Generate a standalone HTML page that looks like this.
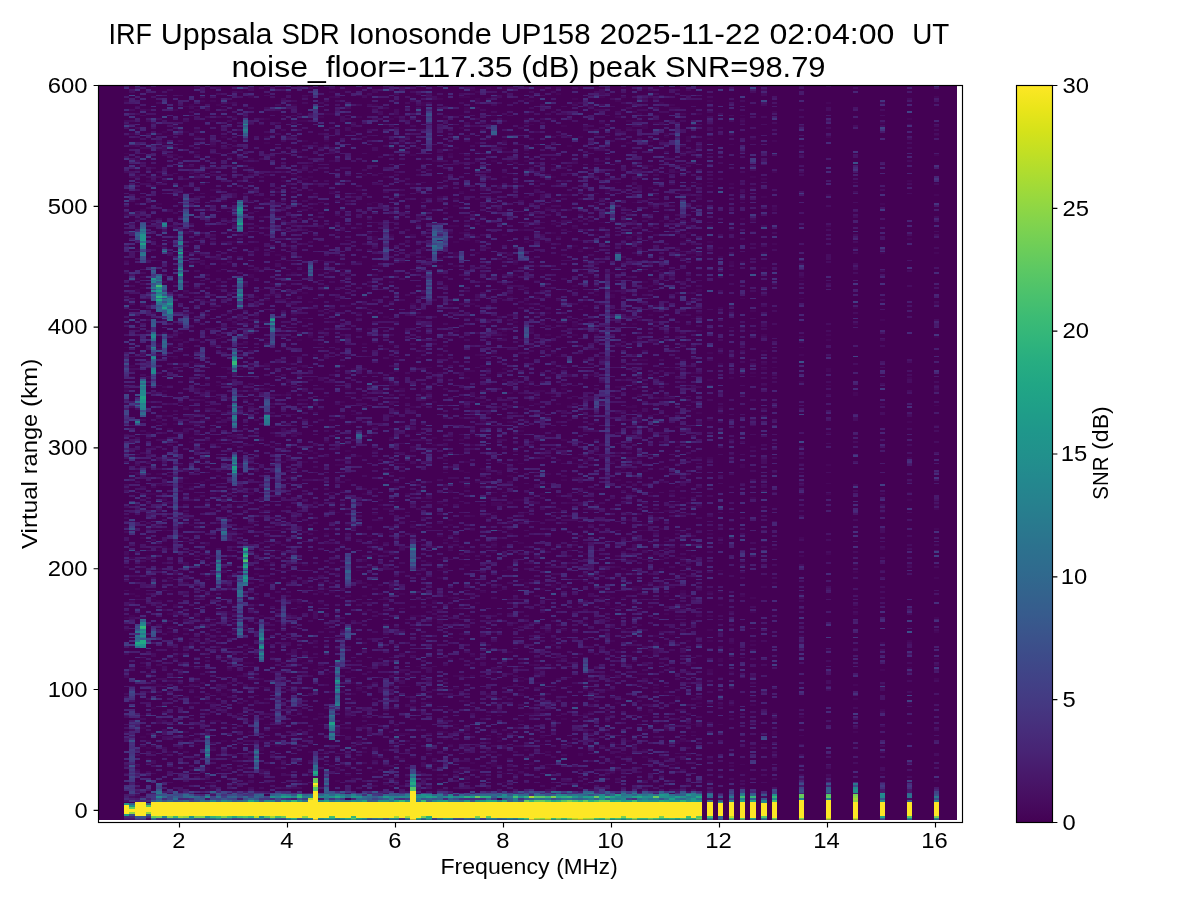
<!DOCTYPE html>
<html lang="en"><head><meta charset="utf-8"><title>IRF Uppsala SDR Ionosonde UP158</title>
<style>
html,body{margin:0;padding:0;background:#fff;width:1200px;height:900px;overflow:hidden}
svg{will-change:transform;display:block;position:absolute;left:0;top:0}
text{font-family:"Liberation Sans",sans-serif;fill:#000}
</style></head><body>
<svg width="1200" height="900" viewBox="0 0 1200 900">
<defs>
<linearGradient id="vg" x1="0" y1="0" x2="0" y2="1"><stop offset="0.0000" stop-color="#fde725"/><stop offset="0.0312" stop-color="#eae51a"/><stop offset="0.0625" stop-color="#d5e21a"/><stop offset="0.0938" stop-color="#c0df25"/><stop offset="0.1250" stop-color="#aadc32"/><stop offset="0.1562" stop-color="#95d840"/><stop offset="0.1875" stop-color="#81d34d"/><stop offset="0.2188" stop-color="#6ece58"/><stop offset="0.2500" stop-color="#5cc863"/><stop offset="0.2812" stop-color="#4cc26c"/><stop offset="0.3125" stop-color="#3dbc74"/><stop offset="0.3438" stop-color="#31b57b"/><stop offset="0.3750" stop-color="#27ad81"/><stop offset="0.4062" stop-color="#21a685"/><stop offset="0.4375" stop-color="#1f9f88"/><stop offset="0.4688" stop-color="#1f978b"/><stop offset="0.5000" stop-color="#21918c"/><stop offset="0.5312" stop-color="#23898e"/><stop offset="0.5625" stop-color="#26828e"/><stop offset="0.5938" stop-color="#297a8e"/><stop offset="0.6250" stop-color="#2c728e"/><stop offset="0.6562" stop-color="#2f6b8e"/><stop offset="0.6875" stop-color="#33638d"/><stop offset="0.7188" stop-color="#375b8d"/><stop offset="0.7500" stop-color="#3b528b"/><stop offset="0.7812" stop-color="#3e4989"/><stop offset="0.8125" stop-color="#424086"/><stop offset="0.8438" stop-color="#453781"/><stop offset="0.8750" stop-color="#472d7b"/><stop offset="0.9062" stop-color="#482374"/><stop offset="0.9375" stop-color="#48186a"/><stop offset="0.9688" stop-color="#470d60"/><stop offset="1.0000" stop-color="#440154"/></linearGradient>
<clipPath id="cp"><rect x="98.5" y="85.5" width="858.5" height="734.25"/></clipPath>
</defs>
<rect width="1200" height="900" fill="#fff"/>
<!-- heat map -->
<rect x="98.5" y="85.5" width="858.5" height="734.25" fill="#440154" shape-rendering="crispEdges"/>
<g clip-path="url(#cp)"><g transform="translate(126.700 85.6) scale(5.4 1.81259)" fill="none" stroke-width="1" shape-rendering="crispEdges">
<path stroke="#46075a" d="M0 8v1m0 18v1m0 9v1m0 32v1m0 25v1m0 17v1m0 2v1m0 1v1m0 24v1m0 22v1m0 7v1m0 46v1m0 20v1m0 15v1m0 33v1m0 6v1m1-275v1m0 6v1m0 120v1m0 2v1m0 2v1m0 55v1m0 43v1m0 19v1m0 3v1m0 7v1m0 16v1m1-270v1m0 5v1m0 2v1m0 23v1m0 4v1m0 11v1m0 15v1m0 5v2m0 51v1m0 111v1m0 3v1m0 67v1m0 34v1m0 2v1m0 4v1m1-325v1m0 42v1m0 137v1m0 43v1m0 26v1m0 33v1m0 4v1m1-347v1m0 38v1m0 21v1m0 20v1m0 40v1m0 14v1m0 9v1m0 29v1m0 33v1m0 22v1m0 10v1m0 10v1m0 86v1m0 3v1m0 3v1m0 5v1m1-288v1m0 114v1m0 25v1m0 57v1m0 59v1m0 23v1m1-335v1m0 1v1m0 29v1m0 22v1m0 7v1m0 31v1m0 13v1m0 42v1m0 28v1m0 5v1m0 3v1m0 31v1m0 9v1m0 17v1m0 1v1m0 43v1m0 18v2m1-326v1m0 5v1m0 20v1m0 35v1m0 77v1m0 1v1m0 13v1m0 4v1m0 15v1m0 23v1m0 17v1m0 8v1m0 114v1m1-349v1m0 5v1m0 15v1m0 42v1m0 56v1m0 12v1m0 8v1m0 23v1m0 65v1m0 6v1m0 10v1m0 4v1m0 12v1m0 6v1m0 2v1m0 7v1m0 57v1m1-355v1m0 8v1m0 15v1m0 23v1m0 37v1m0 7v1m0 29v1m0 1v1m0 9v1m0 35v1m0 99v1m0 11v1m0 4v1m0 10v1m0 61v1m1-336v1m0 3v1m0 14v2m0 3v1m0 2v1m0 67v1m0 3v1m0 68v1m0 10v1m0 7v1m0 18v1m0 20v1m0 14v1m0 29v1m1-303v1m0 13v1m0 18v1m0 69v1m0 29v1m0 32v1m0 8v1m0 4v1m0 24v1m0 2v1m0 2v1m0 36v1m0 12v1m0 27v1m0 85v1m1-377v1m0 36v1m0 33v1m0 4v1m0 11v1m0 18v1m0 15v1m0 15v1m0 2v1m0 31v1m0 1v1m0 7v1m0 1v1m0 10v1m0 11v1m0 1v1m0 16v1m0 3v1m0 54v1m0 22v1m0 50v1m1-371v1m0 11v1m0 10v1m0 3v1m0 7v1m0 12v1m0 1v1m0 76v1m0 17v1m0 31v1m0 9v1m0 38v1m0 16v1m0 6v1m0 30v1m0 45v1m0 1v1m0 6v1m0 25v1m1-356v1m0 21v1m0 1v1m0 34v1m0 29v1m0 55v1m0 13v1m0 5v1m0 12v1m0 31v1m0 139v1m1-282v1m0 21v2m0 37v1m0 23v1m0 9v1m0 11v1m0 21v1m0 10v1m0 24v1m0 10v1m0 27v1m0 21v1m0 48v1m0 23v2m0 10v1m1-381v1m0 10v1m0 13v1m0 6v1m0 16v1m0 3v1m0 21v1m0 11v1m0 21v1m0 50v1m0 28v1m0 27v1m0 39v1m0 15v1m0 14v1m0 43v1m0 9v1m0 14v1m0 19v1m0 2v1m1-379v1m0 38v1m0 52v1m0 62v1m0 6v1m0 24v1m0 95v1m0 9v1m0 1v1m0 5v1m0 22v1m0 15v1m1-334v1m0 10v1m0 34v1m0 22v1m0 11v1m0 30v1m0 57v1m0 6v1m0 18v1m0 61v1m0 59v2m0 24v1m1-353v1m0 24v1m0 4v1m0 80v1m0 37v1m0 3v1m0 2v1m0 7v1m0 50v1m0 20v1m0 25v1m0 4v1m0 13v2m0 30v1m0 29v1m0 18v1m0 5v1m1-361v1m0 39v1m0 28v1m0 44v1m0 62v1m0 3v1m0 29v1m0 3v1m0 15v2m0 1v1m0 34v1m0 10v1m0 3v1m1-299v1m0 83v1m0 35v1m0 32v1m0 48v1m0 25v1m0 37v1m0 55v1m1-266v1m0 21v1m0 4v1m0 3v1m0 38v1m0 11v1m0 103v1m0 36v1m0 27v1m0 6v1m0 61v1m0 3v1m1-379v1m0 33v1m0 4v1m0 17v1m0 40v2m0 25v1m0 22v1m0 13v1m0 56v1m0 61v1m0 21v1m0 8v1m0 31v1m0 5v1m1-291v1m0 10v1m0 11v1m0 12v1m0 9v1m0 3v1m0 10v1m0 27v1m0 34v1m0 6v1m0 7v1m0 52v1m0 6v1m0 3v1m0 12v2m0 2v1m0 2v1m0 1v1m1-220v1m0 28v1m0 10v1m0 6v1m0 10v1m0 8v1m0 54v1m0 39v1m0 57v1m0 34v1m0 3v1m0 29v1m0 3v2m0 13v1m1-363v1m0 9v1m0 2v1m0 17v1m0 12v1m0 53v1m0 1v1m0 22v1m0 11v1m0 13v1m0 82v1m0 6v1m0 6v1m0 9v1m0 32v1m0 44v1m0 8v1m0 15v1m1-339v1m0 69v1m0 5v1m0 55v1m0 16v1m0 45v1m0 22v1m0 2v1m0 11v1m0 1v1m0 40v1m0 38v1m1-262v1m0 20v1m0 59v1m0 17v1m0 5v1m0 39v1m0 115v1m0 9v1m0 11v1m1-334v1m0 8v1m0 91v1m0 25v1m0 15v1m0 29v1m0 27v1m0 16v1m0 5v1m0 57v1m0 27v1m1-351v1m0 75v1m0 30v1m0 3v1m0 4v1m0 33v1m0 11v1m0 3v1m0 35v1m0 9v1m0 67v1m0 7v1m0 24v1m0 46v1m1-354v1m0 8v1m0 29v1m0 26v1m0 26v1m0 22v1m0 22v1m0 12v1m0 29v1m0 22v1m0 68v1m0 19v1m0 13v1m0 70v1m1-371v1m0 16v1m0 31v1m0 71v1m0 8v1m0 4v1m0 58v1m0 71v1m0 1v1m0 28v1m0 27v2m1-340v1m0 9v1m0 2v1m0 10v1m0 20v1m0 1v1m0 49v1m0 10v1m0 13v1m0 26v1m0 51v1m0 56v1m0 39v1m0 8v1m0 4v1m0 5v1m0 35v1m1-356v1m0 38v1m0 5v1m0 11v1m0 56v1m0 18v1m0 23v1m0 153v1m0 1v1m0 48v1m1-308v1m0 7v1m0 3v1m0 28v1m0 46v1m0 53v1m0 26v1m0 20v1m0 20v1m0 35v1m0 14v1m1-306v1m0 60v1m0 17v1m0 4v1m0 14v1m0 18v1m0 6v1m0 35v1m0 100v1m0 5v1m0 35v1m0 24v1m0 1v1m0 3v1m0 17v1m1-356v1m0 14v1m0 1v1m0 34v1m0 103v1m0 24v1m0 50v1m0 29v1m0 19v1m0 17v1m0 8v1m0 1v1m0 20v1m1-345v1m0 2v1m0 8v1m0 25v1m0 16v1m0 75v1m0 97v1m0 11v1m0 34v1m0 58v1m1-312v1m0 24v1m0 28v1m0 2v1m0 8v1m0 36v1m0 78v1m0 25v1m0 75v1m0 65v2m0 4v1m1-290v1m0 54v1m0 24v1m0 1v1m0 18v1m0 2v1m0 10v1m0 13v1m0 6v1m0 22v1m0 100v1m1-295v1m0 60v1m0 45v1m0 18v1m0 14v1m0 2v1m0 12v1m0 24v1m0 38v1m0 41v1m0 24v1m0 3v1m0 27v1m0 3v1m1-360v1m0 130v1m0 24v1m0 90v1m0 27v1m0 28v1m0 5v1m0 3v1m1-323v1m0 39v1m0 20v1m0 18v1m0 27v1m0 55v1m0 22v1m0 62v1m0 62v1m0 2v1m0 10v1m0 16v1m1-313v1m0 66v1m0 25v1m0 82v1m0 36v1m0 11v1m0 6v1m0 8v1m0 57v1m0 4v1m0 13v1m1-363v1m0 59v1m0 68v1m0 30v1m0 18v1m0 8v1m0 50v1m0 3v1m0 16v1m0 9v1m0 45v1m0 8v1m1-321v1m0 1v1m0 51v1m0 18v2m0 1v1m0 12v1m0 88v1m0 12v1m0 34v1m0 15v1m0 5v1m0 99v1m0 11v1m0 3v1m0 3v1m1-299v1m0 18v1m0 1v1m0 126v1m0 2v1m0 7v1m0 107v1m1-320v1m0 21v1m0 76v1m0 38v1m0 50v1m0 15v1m0 22v1m0 28v1m0 80v1m0 4v1m0 3v1m1-358v1m0 53v1m0 9v1m0 59v1m0 15v1m0 5v1m0 2v1m0 21v1m0 4v1m0 18v1m0 4v1m0 14v1m0 12v1m0 9v1m0 16v1m0 3v2m0 64v1m1-336v1m0 8v1m0 85v1m0 57v1m0 59v1m0 18v1m0 3v2m0 12v1m0 20v1m0 73v1m0 3v1m1-327v1m0 65v1m0 69v1m0 20v1m0 67v1m0 23v1m0 19v1m0 22v1m0 7v1m0 25v1m0 13v1m1-351v1m0 117v1m0 85v1m0 99v1m0 5v1m0 25v1m0 16v1m0 6v1m1-344v1m0 15v1m0 27v1m0 10v1m0 26v1m0 56v1m0 22v1m0 41v1m0 4v1m0 44v1m0 32v1m0 12v1m0 1v1m0 29v1m1-295v1m0 8v1m0 36v1m0 6v1m0 20v1m0 40v1m0 52v1m0 21v1m0 25v1m0 2v1m0 24v1m0 32v1m0 1v1m0 5v1m1-353v2m0 29v1m0 21v1m0 27v1m0 3v1m0 9v1m0 50v1m0 12v1m0 26v1m0 23v1m0 2v1m0 4v1m0 113v1m1-274v1m0 30v1m0 55v1m0 13v1m0 26v1m0 66v1m0 22v1m0 53v1m0 28v1m1-329v1m0 132v1m0 19v1m0 3v1m0 85v1m0 4v1m0 3v1m0 80v1m0 14v1m1-383v1m0 30v1m0 16v1m0 5v1m0 37v1m0 58v1m0 71v1m0 17v1m0 12v1m0 5v1m0 3v1m0 21v1m0 1v2m0 55v1m0 27v1m1-365v1m0 33v1m0 5v1m0 149v1m0 14v1m0 28v1m0 15v2m0 1v1m0 11v1m0 74v1m0 3v1m0 27v1m1-384v1m0 31v2m0 38v1m0 3v1m0 38v1m0 18v1m0 83v1m0 15v1m0 2v1m0 10v1m0 1v1m0 26v1m0 33v1m0 46v1m0 10v1m1-375v1m0 33v1m0 27v1m0 3v1m0 10v1m0 8v1m0 5v2m0 5v1m0 35v1m0 113v2m0 45v1m0 28v1m0 6v1m0 19v1m0 1v1m0 22v1m1-372v1m0 9v1m0 6v1m0 34v1m0 22v1m0 93v1m0 7v1m0 11v1m0 16v1m0 74v1m0 14v1m0 22v1m0 51v2m0 5v1m1-379v1m0 5v2m0 14v1m0 43v1m0 3v1m0 7v2m0 34v1m0 36v1m0 3v1m0 10v1m0 24v1m0 9v1m0 5v1m0 7v1m0 29v1m0 7v1m0 4v1m0 74v1m1-338v1m0 115v1m0 1v1m0 36v1m0 22v1m0 17v1m0 38v1m0 7v1m0 35v1m0 32v1m0 10v1m0 18v1m0 28v1m1-371v1m0 3v2m0 3v1m0 18v1m0 4v1m0 25v1m0 23v1m0 5v1m0 24v1m0 30v1m0 33v2m0 34v1m0 66v1m0 91v1m1-335v1m0 28v1m0 4v1m0 25v1m0 4v1m0 41v1m0 3v1m0 19v1m0 10v1m0 25v1m0 21v1m0 3v1m0 7v1m0 8v1m0 3v1m0 20v1m0 100v1m1-380v1m0 27v1m0 21v1m0 34v1m0 29v1m0 47v1m0 3v1m0 12v1m0 45v1m0 10v1m0 4v1m0 91v1m0 31v1m1-327v1m0 17v1m0 7v1m0 39v1m0 122v2m0 3v1m0 16v1m0 1v1m0 2v1m0 64v1m0 18v1m0 2v1m0 26v1m0 1v3m1-321v1m0 45v1m0 10v1m0 15v1m0 7v1m0 12v1m0 8v1m0 53v1m0 1v1m0 15v2m0 46v1m0 20v1m0 40v1m0 18v1m0 1v1m1-332v1m0 3v1m0 15v1m0 24v1m0 6v1m0 52v1m0 1v1m0 1v1m0 16v1m0 5v1m0 20v1m0 16v1m0 20v1m0 9v1m0 22v1m0 12v1m0 50v2m0 59v1m0 4v1m1-344v1m0 50v1m0 19v1m0 3v1m0 52v1m0 15v1m0 29v1m0 13v1m0 17v1m0 18v1m0 45v1m1-264v1m0 48v1m0 5v1m0 2v1m0 22v1m0 1v1m0 1v1m0 33v1m0 6v1m0 16v1m0 13v1m0 14v1m0 6v1m0 49v1m0 29v1m0 68v1m1-299v1m0 31v1m0 28v1m0 36v1m0 10v1m0 1v1m0 1v1m0 15v1m0 19v1m0 7v1m0 15v1m0 19v1m0 55v1m0 6v1m0 14v1m0 28v1m1-373v1m0 7v1m0 2v1m0 22v1m0 1v1m0 17v1m0 24v1m0 20v1m0 12v1m0 7v1m0 35v1m0 1v1m0 17v1m0 20v1m0 68v1m0 52v1m0 18v1m0 19v1m1-362v1m0 2v1m0 12v1m0 73v1m0 6v1m0 25v1m0 5v2m0 4v1m0 2v1m0 78v1m0 75v1m0 20v1m0 26v1m0 1v1m0 19v1m0 1v1m0 2v2m1-323v1m0 32v1m0 13v1m0 7v1m0 8v1m0 51v1m0 6v1m0 53v1m0 93v1m0 2v1m0 2v1m0 15v1m0 19v1m1-265v1m0 28v1m0 37v1m0 34v1m0 21v1m0 48v1m0 2v1m0 24v1m0 17v1m0 1v1m0 6v1m0 2v1m0 4v1m0 21v1m0 3v1m1-297v1m0 18v1m0 36v1m0 1v1m0 11v1m0 3v1m0 3v1m0 14v1m0 53v1m0 4v1m0 81v1m0 42v1m0 22v1m0 8v1m1-359v1m0 26v1m0 4v1m0 11v1m0 13v1m0 4v1m0 65v1m0 8v1m0 33v1m0 84v2m0 29v1m0 1v1m0 45v1m0 23v1m1-375v1m0 49v1m0 13v1m0 14v1m0 65v1m0 25v1m0 30v1m0 19v1m0 6v1m0 28v1m0 64v1m0 10v1m1-317v1m0 131v1m0 12v1m0 27v1m0 3v1m0 17v1m0 36v1m0 16v1m0 28v1m0 6v1m0 41v1m1-317v1m0 26v1m0 68v1m0 25v1m0 20v1m0 7v1m0 42v1m0 2v1m0 45v1m1-270v1m0 1v1m0 31v1m0 36v1m0 9v1m0 21v1m0 20v2m0 4v1m0 67v1m0 2v1m0 4v1m0 2v1m0 71v1m1-261v1m0 40v1m0 15v1m0 4v1m0 28v1m0 59v1m0 45v1m0 123v1m0 18v2m1-347v1m0 8v1m0 70v1m0 17v1m0 11v1m0 72v1m0 16v1m0 28v1m0 5v1m0 11v1m0 25v1m0 27v1m0 2v1m0 2v1m0 2v1m0 8v1m0 3v1m0 38v1m1-376v1m0 13v1m0 134v1m0 64v1m0 46v1m0 55v1m0 17v1m1-280v1m0 12v1m0 2v1m0 32v1m0 69v1m0 36v1m0 37v1m0 32v1m0 87v1m1-376v1m0 13v1m0 20v1m0 1v1m0 31v1m0 74v1m0 46v1m0 7v1m0 16v1m0 17v1m0 27v1m0 13v1m0 41v1m0 31v1m1-318v1m0 17v2m0 21v1m0 171v1m0 28v1m0 4v1m0 14v1m0 23v1m0 7v1m0 12v1m0 18v1m0 12v1m0 1v1m1-278v1m0 9v1m0 1v2m0 53v1m0 36v1m0 74v1m0 23v1m0 26v1m0 38v1m0 6v1m1-372v1m0 8v1m0 24v1m0 10v1m0 89v1m0 22v1m0 13v1m0 25v1m0 5v1m0 4v1m0 47v1m0 21v1m0 52v1m0 36v1m0 5v1m1-327v1m0 16v2m0 21v1m0 26v1m0 14v1m0 71v1m0 57v1m0 4v1m0 7v1m0 5v1m0 11v1m0 2v1m0 34v1m0 29v1m1-350v1m0 3v1m0 7v1m0 38v1m0 13v1m0 4v1m0 6v1m0 3v1m0 16v1m0 43v1m0 15v1m0 47v1m0 13v1m0 21v1m0 5v1m0 5v1m0 4v1m0 82v1m0 8v1m1-352v1m0 4v1m0 39v1m0 16v2m0 13v1m0 34v1m0 44v2m0 9v1m0 23v1m0 7v1m0 31v1m0 24v1m0 11v1m1-274v1m0 3v1m0 62v1m0 42v1m0 14v1m0 10v1m0 8v1m0 9v1m0 9v1m0 3v1m0 2v1m0 18v1m0 3v1m0 65v2m0 19v1m0 17v1m0 8v1m0 5v1m1-330v1m0 19v3m0 40v1m0 15v1m0 27v1m0 42v1m0 56v1m0 3v1m0 6v1m0 25v1m0 29v1m0 48v1m0 4v1m0 17v1m0 7v1m0 10v1m0 3v1m0 16v1m1-358v1m0 13v1m0 11v1m0 9v1m0 6v1m0 32v1m0 3v1m0 15v1m0 40v1m0 56v1m0 27v1m0 6v1m0 51v1m0 7v1m0 25v1m1-326v1m0 26v1m0 12v1m0 45v1m0 14v1m0 19v1m0 19v1m0 84v1m0 56v1m0 28v1m0 18v1m1-343v1m0 20v1m0 20v1m0 12v1m0 9v1m0 80v1m0 16v1m0 45v1m0 25v1m0 21v1m0 7v2m0 94v1m0 9v1m1-355v1m0 1v1m0 10v1m0 31v1m0 99v1m0 62v1m0 14v1m0 31v1m0 9v1m0 16v1m0 25v1m0 20v1m0 7v1m0 6v2m1-362v1m0 1v1m0 132v1m0 9v1m0 69v1m0 50v1m0 12v1m0 12v1m0 19v1m0 40v1m1-352v1m0 34v1m0 41v1m0 66v1m0 31v1m0 7v1m0 11v1m0 12v1m0 14v1m0 23v1m0 31v1m0 14v1m0 29v2m0 22v2m0 7v1m0 2v1m1-359v1m0 20v1m0 40v1m0 8v1m0 39v1m0 15v1m0 8v1m0 20v1m0 15v1m0 2v1m0 21v1m0 13v1m0 8v1m0 9v1m0 7v1m0 5v1m0 1v1m0 15v2m0 6v1m0 5v1m0 8v1m0 59v1m0 6v1m1-341v2m0 7v1m0 21v1m0 15v1m0 5v1m0 32v1m0 73v1m0 16v1m0 26v1m0 34v1m0 38v1m0 62v1m0 15v1m1-351v1m0 56v1m0 1v1m0 26v1m0 6v1m0 10v1m0 18v1m0 19v1m0 80v1m0 58v1m0 17v1m0 15v1m0 3v1m1-342v1m0 38v1m0 6v1m0 39v1m0 10v2m0 11v1m0 9v1m0 44v1m0 24v1m0 26v1m0 45v1m0 12v1m0 46v1m0 1v1m2-333v1m0 12v1m0 7v1m0 47v1m0 8v1m0 47v1m0 12v1m0 14v1m0 21v1m0 20v1m0 41v1m0 31v1m0 12v1m0 7v1m0 5v1m0 15v2m0 47v1m0 11v2m2-385v1m0 88v1m0 4v1m0 27v1m0 24v1m0 5v1m0 23v1m0 2v1m0 62v1m0 5v1m0 2v1m0 14v1m0 11v1m0 6v1m0 29v2m0 8v1m0 14v1m0 10v1m0 27v1m2-354v1m0 4v1m0 21v1m0 20v1m0 3v1m0 17v2m0 2v1m0 22v1m0 25v1m0 10v1m0 35v1m0 37v1m0 4v1m0 66v1m0 2v2m0 4v1m0 6v1m0 17v1m0 5v1m0 27v1m2-360v1m0 1v1m0 1v1m0 52v1m0 23v1m0 19v1m0 16v1m0 74v2m0 70v1m0 92v1m2-346v1m0 20v1m0 5v1m0 17v1m0 5v1m0 43v1m0 10v1m0 22v1m0 1v1m0 38v1m0 27v1m0 54v1m0 7v1m0 15v1m0 1v1m0 28v1m0 3v1m2-291v1m0 9v1m0 30v1m0 7v1m0 12v1m0 23v1m0 8v1m0 6v1m0 2v1m0 8v1m0 110v1m0 86v1m2-350v1m0 15v1m0 16v1m0 19v2m0 18v1m0 67v1m0 99v1m0 18v1m0 74v1m0 6v2m0 10v1m5-334v1m0 69v1m0 1v1m0 9v1m0 20v1m0 5v1m0 3v1m0 14v1m0 44v1m0 9v1m0 6v1m0 23v1m0 9v1m0 20v1m0 22v1m0 44v1m0 9v1m0 15v1m5-366v1m0 18v1m0 31v1m0 16v1m0 59v1m0 2v1m0 8v1m0 6v2m0 7v1m0 25v1m0 17v1m0 9v1m0 5v1m0 32v1m0 52v1m0 69v1m5-293v1m0 32v1m0 8v1m0 37v2m0 93v1m0 3v1m0 19v1m0 2v1m0 38v1m0 7v1m0 17v1m5-337v1m0 44v1m0 26v1m0 36v1m0 45v1m0 49v1m0 7v1m0 1v1m0 19v1m0 51v1m0 14v1m0 7v1m0 13v1m0 34v1m5-362v1m0 33v1m0 31v1m0 76v1m0 23v1m0 19v1m0 12v1m0 5v1m0 3v1m0 35v1m0 41v1m0 14v1m0 18v1m5-335v1m0 20v1m0 10v1m0 21v1m0 31v1m0 27v1m0 17v1m0 29v1m0 7v1m0 10v1m0 41v1m0 1v1m0 1v1m0 10v1m0 26v1m0 21v1m0 7v1m0 14v1m0 10v1m0 55v1"/>
<path stroke="#470d60" d="M0 19v1m0 1v1m0 25v1m0 23v1m0 25v1m0 5v1m0 64v1m0 23v1m0 27v1m0 11v1m0 5v1m0 7v1m0 10v2m0 2v1m0 3v1m0 5v1m0 1v1m0 4v1m0 34v1m0 11v2m0 8v1m0 12v1m0 7v1m0 18v1m0 3v1m1-377v1m0 9v1m0 5v1m0 30v1m0 12v1m0 46v1m0 7v1m0 1v1m0 28v1m0 6v1m0 20v1m0 26v1m0 8v1m0 26v1m0 29v1m0 14v1m0 7v1m0 27v1m0 33v1m0 36v1m1-382v1m0 3v1m0 7v1m0 9v1m0 7v1m0 8v1m0 14v1m0 4v1m0 57v1m0 20v1m0 6v1m0 21v1m0 15v1m0 8v1m0 5v1m0 3v2m0 3v1m0 12v1m0 35v1m0 2v1m0 1v1m0 10v1m0 4v1m0 80v1m0 5v1m0 1v1m0 13v1m1-379v1m0 2v1m0 17v1m0 8v1m0 10v1m0 6v1m0 41v1m0 1v1m0 3v1m0 10v2m0 26v1m0 3v1m0 6v1m0 24v1m0 5v1m0 11v1m0 18v1m0 40v1m0 20v1m0 34v1m0 28v1m0 1v1m0 14v1m1-346v1m0 6v1m0 5v1m0 1v1m0 11v1m0 3v1m0 3v1m0 12v1m0 7v1m0 4v1m0 48v1m0 30v1m0 13v1m0 19v1m0 8v1m0 3v1m0 2v1m0 3v1m0 17v1m0 8v1m0 2v1m0 15v2m0 18v1m0 16v1m0 6v1m0 15v2m0 2v1m0 9v1m0 3v1m0 34v1m0 4v1m0 25v1m1-385v1m0 24v1m0 6v1m0 2v1m0 34v1m0 5v1m0 23v1m0 4v1m0 43v1m0 51v1m0 28v1m0 20v1m0 41v2m0 2v1m0 11v1m0 34v1m0 7v2m0 5v1m1-371v1m0 8v1m0 7v1m0 3v1m0 16v1m0 2v1m0 3v1m0 18v1m0 69v1m0 1v1m0 2v1m0 16v1m0 17v1m0 11v1m0 10v1m0 4v1m0 22v1m0 7v1m0 54v1m0 21v1m0 7v1m0 3v1m0 2v1m0 16v1m0 6v1m1-325v2m0 2v1m0 69v1m0 20v1m0 6v1m0 42v1m0 6v1m0 4v1m0 3v1m0 1v1m0 10v1m0 10v2m0 7v1m0 22v1m0 11v1m0 5v1m0 2v1m0 16v1m0 6v1m0 5v1m0 17v2m0 5v1m0 13v1m0 3v1m0 4v1m0 4v1m0 3v2m0 4v1m1-364v1m0 35v1m0 10v1m0 18v2m0 7v1m0 15v1m0 43v1m0 11v1m0 25v1m0 6v1m0 15v1m0 16v1m0 13v2m0 14v1m0 21v1m0 3v1m0 23v1m0 29v1m0 2v1m0 30v1m0 24v1m0 5v1m1-357v1m0 13v1m0 21v1m0 6v1m0 37v1m0 20v1m0 12v1m0 6v1m0 22v1m0 4v1m0 20v1m0 62v2m0 6v1m0 10v1m0 2v2m0 19v1m0 4v1m0 11v1m0 23v1m1-348v1m0 18v1m0 5v1m0 1v1m0 6v1m0 3v1m0 12v2m0 14v1m0 70v1m0 2v1m0 6v1m0 20v1m0 36v1m0 5v2m0 2v1m0 1v1m0 13v1m0 4v2m0 74v1m0 3v1m0 1v1m0 4v1m0 31v1m0 3v1m0 3v1m0 19v1m1-371v1m0 31v1m0 3v1m0 3v1m0 20v2m0 9v1m0 18v1m0 2v1m0 11v1m0 15v1m0 36v1m0 3v1m0 6v2m0 21v1m0 13v1m0 4v1m0 2v1m0 1v1m0 1v1m0 12v1m0 11v2m0 2v1m0 6v1m0 5v1m0 14v1m0 6v1m0 7v1m0 26v1m0 18v1m0 2v1m0 7v1m0 11v1m1-369v2m0 1v1m0 22v1m0 6v1m0 3v1m0 27v1m0 2v1m0 45v1m0 2v1m0 33v1m0 19v2m0 44v1m0 76v1m0 1v2m0 21v2m0 1v1m0 6v1m0 8v1m0 11v1m0 1v1m0 13v1m1-367v1m0 13v1m0 12v1m0 22v1m0 1v1m0 26v1m0 1v1m0 4v1m0 4v1m0 8v1m0 4v1m0 23v1m0 12v1m0 13v2m0 2v1m0 1v1m0 12v1m0 4v1m0 9v1m0 57v1m0 18v1m0 13v1m0 12v1m0 9v1m0 5v1m0 38v1m0 9v1m0 10v1m1-376v1m0 40v1m0 6v1m0 4v1m0 24v1m0 2v1m0 5v1m0 2v1m0 1v1m0 17v1m0 1v1m0 50v1m0 1v1m0 9v1m0 2v1m0 12v1m0 28v1m0 28v1m0 2v1m0 23v1m0 12v1m0 28v1m0 4v1m0 21v1m0 7v1m1-348v2m0 3v1m0 50v1m0 24v1m0 10v1m0 14v1m0 6v1m0 7v1m0 33v1m0 5v1m0 3v1m0 16v1m0 5v1m0 3v1m0 24v1m0 21v1m0 17v1m0 1v1m0 13v1m0 6v1m0 3v1m0 8v2m0 9v1m0 17v1m0 4v1m0 5v1m0 9v1m0 25v1m0 3v1m1-356v2m0 4v1m0 7v1m0 1v1m0 1v1m0 32v1m0 3v1m0 32v1m0 1v1m0 12v1m0 8v1m0 34v2m0 1v1m0 7v1m0 43v1m0 25v1m0 8v1m0 14v1m0 20v1m0 38v1m0 18v1m0 3v1m0 20v1m1-387v1m0 2v1m0 12v1m0 39v1m0 36v2m0 10v2m0 2v1m0 1v1m0 20v1m0 3v1m0 1v1m0 23v1m0 19v1m0 11v1m0 16v1m0 2v1m0 3v1m0 21v1m0 13v1m0 53v1m0 21v2m0 10v1m1-310v1m0 38v1m0 59v1m0 4v1m0 5v1m0 10v1m0 5v1m0 18v1m0 3v2m0 30v1m0 7v1m0 8v1m0 33v2m0 9v1m0 18v1m0 17v1m0 10v1m0 3v1m0 1v1m0 12v1m0 31v1m1-359v1m0 49v1m0 4v1m0 5v1m0 5v1m0 8v1m0 1v1m0 8v1m0 7v1m0 10v1m0 3v1m0 3v1m0 10v1m0 10v2m0 15v1m0 4v1m0 1v1m0 4v1m0 8v1m0 3v1m0 3v1m0 20v1m0 14v1m0 8v1m0 8v1m0 14v1m0 22v1m0 1v1m0 5v1m0 14v1m0 4v1m0 7v1m0 3v1m0 3v1m0 48v1m1-384v1m0 5v1m0 20v1m0 2v1m0 10v1m0 1v1m0 12v3m0 2v1m0 11v1m0 51v1m0 1v1m0 2v1m0 58v2m0 29v1m0 14v1m0 7v1m0 3v1m0 3v1m0 18v1m0 4v1m0 12v1m0 18v1m0 58v1m0 2v1m0 12v1m1-346v1m0 53v1m0 32v3m0 12v1m0 25v1m0 9v1m0 2v1m0 11v1m0 15v1m0 11v2m0 1v1m0 22v1m0 13v1m0 78v1m0 5v1m0 1v1m0 13v1m1-346v1m0 23v1m0 34v1m0 4v1m0 27v2m0 10v1m0 19v1m0 7v1m0 15v1m0 7v1m0 2v1m0 3v1m0 17v1m0 17v1m0 10v1m0 15v2m0 52v2m0 14v1m0 10v2m0 4v1m0 8v1m0 21v1m0 7v2m0 5v1m1-376v2m0 9v1m0 8v1m0 25v1m0 1v1m0 3v1m0 3v1m0 12v1m0 21v1m0 8v1m0 16v1m0 10v1m0 16v1m0 17v1m0 12v1m0 20v1m0 7v1m0 1v1m0 1v1m0 11v1m0 1v1m0 16v1m0 1v1m0 30v1m0 45v1m0 4v1m0 20v1m0 14v1m0 6v1m0 1v2m0 11v2m0 2v1m1-347v1m0 18v1m0 8v1m0 10v1m0 5v1m0 3v1m0 9v2m0 4v1m0 13v1m0 2v1m0 7v1m0 29v1m0 6v1m0 15v1m0 18v1m0 8v1m0 38v1m0 10v1m0 13v1m0 16v1m0 19v1m0 6v1m0 15v1m0 2v2m1-340v1m0 16v1m0 2v1m0 18v1m0 9v1m0 116v1m0 50v1m0 2v1m0 5v2m0 3v1m0 4v1m0 14v1m0 2v2m0 18v1m0 73v1m0 27v2m0 8v1m1-383v1m0 6v1m0 12v1m0 38v1m0 13v1m0 3v1m0 9v1m0 37v1m0 8v1m0 14v1m0 93v1m0 13v1m0 7v1m0 26v1m0 34v1m0 5v1m0 1v1m0 5v1m0 37v1m1-338v1m0 9v1m0 26v1m0 6v1m0 32v1m0 45v1m0 4v1m0 1v1m0 2v1m0 1v1m0 8v1m0 7v1m0 6v1m0 6v1m0 26v1m0 2v1m0 1v1m0 7v1m0 9v1m0 18v1m0 4v1m0 9v1m0 2v1m0 22v1m0 10v1m0 11v2m0 1v1m0 1v1m0 11v1m0 5v1m1-360v1m0 2v1m0 6v1m0 5v1m0 29v1m0 1v1m0 5v2m0 6v1m0 23v1m0 1v2m0 18v1m0 51v1m0 22v1m0 51v1m0 5v2m0 3v1m0 22v1m0 9v1m0 5v1m0 65v1m1-355v1m0 8v1m0 7v1m0 5v1m0 6v1m0 9v1m0 15v1m0 3v1m0 6v1m0 19v1m0 23v1m0 5v1m0 13v1m0 12v1m0 7v1m0 29v2m0 16v1m0 14v1m0 18v1m0 11v1m0 5v1m0 38v1m0 8v1m0 10v1m0 4v1m0 4v1m0 43v1m0 1v1m0 4v2m0 6v1m1-377v1m0 16v1m0 25v1m0 21v1m0 11v1m0 7v1m0 4v1m0 2v1m0 57v2m0 6v1m0 10v1m0 24v1m0 5v1m0 3v1m0 15v1m0 16v1m0 14v1m0 2v1m0 6v1m0 4v1m0 1v1m0 14v1m0 10v2m0 4v1m0 17v1m0 1v1m0 9v1m0 36v1m1-373v1m0 7v1m0 3v1m0 7v1m0 29v1m0 5v1m0 15v1m0 4v1m0 4v1m0 29v1m0 17v1m0 17v1m0 9v1m0 14v1m0 9v1m0 1v1m0 18v1m0 25v3m0 17v1m0 11v1m0 12v1m0 8v1m0 18v3m0 17v1m0 2v1m0 12v1m0 8v1m0 30v1m1-388v1m0 14v1m0 30v1m0 3v1m0 22v1m0 1v1m0 2v1m0 21v1m0 12v1m0 2v1m0 7v1m0 11v1m0 22v2m0 12v1m0 17v2m0 67v1m0 2v1m0 8v1m0 11v1m0 47v1m0 22v1m0 7v2m0 18v1m0 3v1m1-383v1m0 3v1m0 23v1m0 5v1m0 4v1m0 1v1m0 16v1m0 4v1m0 10v1m0 7v1m0 22v1m0 43v1m0 13v1m0 4v1m0 1v1m0 8v1m0 18v1m0 13v1m0 7v1m0 3v1m0 16v1m0 26v2m0 37v1m0 35v1m0 30v1m1-379v1m0 40v1m0 4v1m0 9v1m0 9v1m0 18v1m0 47v1m0 2v1m0 63v1m0 15v1m0 14v1m0 9v1m0 4v1m0 28v1m0 8v1m0 9v1m0 19v1m0 9v1m0 9v2m0 18v1m0 16v1m0 7v1m1-350v1m0 1v1m0 20v1m0 10v1m0 56v1m0 17v1m0 26v1m0 6v1m0 1v1m0 3v1m0 17v1m0 6v1m0 4v1m0 19v1m0 10v1m0 3v1m0 32v1m0 1v1m0 9v4m0 12v1m0 2v1m0 3v1m0 1v1m0 33v1m0 31v1m1-373v1m0 16v1m0 7v1m0 6v1m0 3v1m0 9v1m0 8v1m0 5v1m0 6v1m0 34v1m0 11v1m0 36v2m0 4v1m0 16v1m0 32v1m0 52v1m0 3v1m0 1v1m0 24v1m0 17v1m0 48v1m1-361v1m0 18v1m0 5v1m0 18v1m0 57v1m0 1v1m0 12v1m0 11v1m0 12v1m0 12v1m0 26v1m0 13v1m0 12v1m0 4v1m0 29v1m0 46v1m0 8v1m0 21v1m0 12v1m0 23v1m1-367v1m0 21v1m0 10v1m0 1v2m0 21v1m0 42v1m0 5v1m0 13v1m0 1v1m0 5v1m0 28v1m0 3v1m0 20v1m0 39v1m0 9v1m0 17v1m0 8v1m0 1v1m0 2v1m0 7v1m0 26v1m0 2v1m0 18v1m0 10v1m0 30v1m0 9v1m1-370v1m0 1v1m0 26v1m0 27v1m0 7v1m0 4v1m0 34v1m0 4v1m0 1v1m0 21v2m0 3v1m0 11v1m0 17v1m0 23v2m0 17v1m0 26v1m0 23v1m0 24v1m0 10v1m0 4v1m0 46v1m0 10v1m0 7v1m1-360v3m0 25v1m0 22v1m0 3v1m0 6v1m0 18v1m0 2v1m0 1v1m0 4v1m0 28v1m0 16v1m0 28v1m0 22v1m0 11v1m0 58v1m0 4v1m0 10v1m0 6v1m0 33v1m0 17v1m0 15v1m0 5v1m1-363v1m0 5v1m0 4v2m0 20v1m0 17v1m0 21v1m0 15v1m0 3v1m0 32v1m0 9v1m0 22v1m0 34v1m0 6v1m0 34v1m0 36v1m0 23v1m0 35v1m0 1v1m0 6v1m0 4v2m0 7v1m0 6v1m1-356v1m0 1v1m0 38v1m0 117v1m0 15v1m0 48v1m0 50v1m0 30v1m0 15v1m0 3v1m0 17v1m0 6v1m0 10v1m0 1v1m1-380v1m0 4v1m0 117v1m0 6v1m0 37v1m0 1v1m0 61v1m0 12v1m0 22v2m0 11v1m0 9v1m0 20v1m0 14v1m0 29v1m0 11v1m1-370v2m0 21v1m0 8v1m0 8v1m0 13v1m0 26v1m0 32v1m0 35v1m0 13v1m0 1v1m0 2v1m0 1v1m0 37v1m0 6v1m0 36v1m0 1v1m0 23v1m0 21v1m0 3v1m0 12v1m0 9v1m0 15v1m0 3v1m0 18v1m1-370v1m0 5v1m0 13v1m0 2v1m0 45v1m0 7v1m0 8v1m0 17v1m0 1v1m0 12v1m0 25v1m0 37v1m0 55v1m0 15v1m0 25v1m0 3v1m0 15v1m0 17v1m0 32v2m1-356v2m0 14v1m0 15v2m0 13v1m0 4v1m0 20v1m0 9v1m0 3v1m0 1v1m0 12v1m0 13v1m0 5v1m0 5v1m0 10v1m0 16v1m0 9v1m0 53v1m0 16v1m0 10v1m0 4v1m0 21v1m0 12v1m0 1v1m0 8v1m0 27v1m0 8v1m0 26v2m0 2v1m0 2v1m0 13v1m1-373v2m0 23v1m0 8v1m0 5v1m0 20v2m0 30v1m0 29v1m0 30v1m0 37v1m0 47v1m0 20v1m0 4v1m0 2v1m0 7v1m0 24v1m0 2v1m0 12v3m0 23v1m0 18v1m1-377v1m0 10v1m0 20v1m0 24v1m0 53v1m0 32v1m0 4v1m0 11v1m0 18v1m0 70v1m0 4v1m0 1v1m0 5v2m0 15v2m0 3v1m0 9v1m0 4v1m0 41v1m0 37v1m0 2v1m1-364v1m0 11v1m0 3v1m0 28v1m0 11v1m0 3v1m0 24v1m0 10v1m0 8v1m0 4v1m0 3v1m0 16v1m0 8v1m0 1v1m0 4v1m0 3v2m0 6v1m0 12v1m0 40v1m0 6v1m0 14v1m0 7v1m0 7v1m0 1v1m0 38v1m0 1v1m0 7v2m0 7v1m0 3v1m0 17v1m0 3v1m0 3v1m0 10v1m0 10v1m1-383v1m0 8v3m0 7v1m0 8v1m0 14v1m0 1v1m0 2v1m0 22v1m0 54v1m0 20v1m0 3v1m0 1v1m0 7v1m0 8v1m0 4v1m0 28v1m0 9v1m0 10v1m0 20v1m0 19v1m0 27v1m0 66v1m0 5v1m0 11v1m1-366v1m0 10v1m0 27v1m0 2v1m0 45v1m0 11v1m0 49v1m0 1v1m0 26v1m0 4v1m0 5v1m0 1v1m0 5v1m0 23v1m0 7v1m0 5v2m0 7v1m0 4v1m0 19v1m0 24v1m0 8v1m0 5v2m0 17v1m0 38v1m1-378v1m0 18v1m0 8v1m0 13v1m0 10v1m0 16v1m0 5v2m0 28v1m0 10v1m0 7v1m0 23v1m0 13v1m0 2v1m0 2v1m0 13v1m0 42v1m0 58v1m0 27v1m0 14v1m0 3v2m0 18v1m0 5v1m1-365v1m0 4v1m0 13v1m0 69v1m0 31v1m0 17v1m0 36v1m0 8v2m0 5v1m0 3v1m0 1v1m0 5v2m0 9v1m0 12v1m0 11v1m0 5v1m0 30v1m0 6v1m0 11v1m0 12v1m0 1v1m0 27v1m0 6v1m1-346v1m0 5v1m0 1v1m0 11v1m0 9v1m0 11v1m0 2v1m0 8v1m0 13v2m0 25v1m0 1v1m0 14v1m0 8v1m0 1v1m0 67v1m0 27v2m0 8v1m0 17v1m0 17v1m0 13v1m0 15v1m0 44v1m0 33v2m0 8v1m1-346v1m0 9v1m0 13v1m0 14v1m0 6v1m0 12v1m0 11v1m0 8v1m0 3v1m0 18v1m0 20v1m0 5v1m0 1v2m0 9v1m0 51v1m0 17v1m0 5v1m0 4v1m0 37v1m0 34v1m0 32v3m0 3v1m0 2v1m1-379v1m0 1v1m0 2v1m0 36v1m0 17v1m0 30v1m0 76v1m0 29v1m0 5v1m0 9v1m0 7v2m0 1v1m0 13v1m0 31v1m0 6v1m0 7v1m0 4v1m0 25v3m0 4v1m0 5v1m0 1v1m0 20v1m0 8v1m0 19v1m1-381v2m0 110v1m0 8v1m0 12v1m0 1v1m0 17v1m0 93v1m0 30v1m0 5v1m0 28v1m0 12v1m0 37v2m0 4v1m1-343v2m0 4v1m0 21v1m0 28v1m0 2v1m0 7v1m0 44v1m0 12v1m0 55v1m0 18v1m0 4v1m0 47v1m0 2v1m0 19v1m0 19v1m0 9v1m0 13v1m0 11v1m0 13v1m0 5v1m1-378v1m0 5v1m0 15v1m0 7v1m0 25v1m0 37v1m0 4v1m0 20v1m0 5v1m0 5v1m0 23v1m0 15v1m0 8v1m0 2v1m0 1v2m0 12v1m0 1v1m0 6v1m0 10v1m0 20v1m0 62v1m0 3v1m0 7v1m0 7v1m0 1v1m0 12v1m0 17v1m1-334v1m0 3v1m0 32v1m0 7v1m0 69v1m0 3v1m0 17v1m0 20v1m0 16v1m0 5v1m0 7v1m0 23v1m0 7v1m0 4v1m0 31v1m0 10v1m0 28v1m0 1v2m0 7v1m0 19v1m1-323v2m0 81v1m0 90v1m0 10v1m0 3v1m0 21v1m0 28v1m0 5v1m0 10v1m0 56v1m0 23v1m0 6v1m1-384v1m0 4v1m0 27v1m0 4v1m0 16v1m0 44v1m0 15v1m0 37v2m0 32v1m0 10v1m0 14v1m0 10v1m0 24v1m0 3v1m0 40v1m0 5v1m0 10v1m0 22v1m0 16v1m0 15v1m1-353v2m0 5v1m0 2v1m0 7v1m0 40v1m0 1v1m0 31v1m0 14v1m0 11v1m0 35v2m0 15v1m0 7v1m0 16v1m0 1v1m0 2v1m0 6v1m0 6v1m0 54v1m0 19v1m0 41v2m0 1v1m0 6v2m0 1v1m0 4v1m0 4v1m0 3v2m1-382v1m0 2v1m0 17v1m0 10v1m0 8v1m0 29v1m0 9v1m0 17v1m0 68v2m0 3v1m0 8v1m0 5v1m0 1v1m0 8v1m0 43v1m0 12v1m0 14v1m0 21v1m0 18v1m0 4v1m0 27v1m0 30v1m0 9v1m1-370v1m0 3v1m0 18v1m0 32v1m0 1v1m0 6v1m0 1v1m0 29v2m0 4v1m0 6v2m0 6v1m0 18v1m0 16v1m0 20v1m0 65v1m0 104v1m1-352v1m0 6v1m0 3v1m0 31v2m0 7v1m0 16v1m0 6v1m0 10v1m0 13v1m0 13v1m0 8v1m0 5v1m0 4v1m0 12v1m0 6v1m0 7v1m0 7v1m0 46v1m0 36v1m0 9v1m0 23v2m0 10v1m0 1v1m0 1v2m0 5v1m0 23v1m1-343v1m0 13v1m0 25v1m0 16v1m0 24v1m0 8v1m0 13v1m0 16v1m0 26v1m0 1v1m0 2v1m0 18v1m0 31v1m0 3v1m0 5v1m0 28v1m0 43v1m0 12v1m0 2v1m0 24v1m0 8v1m0 1v1m0 10v1m0 3v1m0 3v1m0 9v1m0 10v1m1-382v1m0 3v1m0 3v1m0 1v1m0 17v1m0 27v1m0 6v1m0 5v1m0 61v1m0 1v1m0 7v1m0 30v1m0 45v1m0 2v1m0 25v1m0 22v1m0 5v1m0 9v1m0 13v1m0 14v1m0 33v1m0 8v1m0 2v1m1-363v2m0 2v1m0 8v1m0 13v1m0 1v1m0 21v1m0 11v1m0 26v1m0 21v1m0 9v1m0 9v1m0 2v1m0 31v1m0 4v1m0 9v1m0 7v1m0 11v1m0 5v1m0 35v1m0 22v1m0 2v1m0 15v1m0 29v1m0 22v1m0 2v1m0 21v1m0 5v1m1-361v1m0 3v1m0 11v1m0 4v1m0 10v1m0 56v1m0 4v1m0 8v1m0 21v1m0 17v1m0 36v1m0 12v1m0 10v1m0 4v1m0 33v1m0 18v1m0 59v1m0 17v1m0 8v2m1-365v1m0 14v1m0 19v1m0 56v1m0 11v1m0 4v1m0 3v1m0 11v1m0 2v1m0 15v1m0 27v1m0 2v2m0 32v1m0 7v2m0 10v1m0 10v1m0 2v1m0 20v1m0 8v1m0 8v1m0 7v1m0 5v1m0 26v1m0 6v1m0 6v1m0 18v1m0 13v1m0 3v1m0 8v1m1-384v1m0 40v1m0 9v1m0 4v1m0 38v2m0 12v1m0 34v1m0 16v2m0 16v1m0 10v1m0 5v1m0 3v1m0 38v1m0 41v1m0 13v1m0 24v1m0 3v1m0 4v2m0 22v1m0 9v1m0 2v1m0 12v1m0 1v1m1-360v1m0 8v1m0 30v1m0 46v1m0 8v1m0 2v1m0 24v1m0 21v1m0 29v1m0 41v1m0 16v1m0 31v1m0 7v1m0 27v1m0 6v1m0 2v1m0 4v1m0 22v1m0 13v1m1-359v1m0 14v1m0 1v1m0 8v1m0 24v1m0 4v1m0 2v1m0 3v1m0 27v1m0 1v1m0 4v1m0 31v1m0 4v1m0 15v1m0 47v1m0 4v1m0 10v1m0 9v1m0 2v1m0 5v1m0 8v1m0 2v1m0 9v1m0 15v1m0 1v1m0 2v1m0 65v1m0 6v1m0 5v1m1-374v1m0 8v1m0 6v1m0 9v1m0 13v1m0 1v1m0 33v1m0 5v1m0 34v1m0 15v1m0 9v1m0 8v1m0 7v1m0 9v1m0 22v1m0 1v1m0 28v1m0 2v1m0 2v1m0 23v1m0 5v1m0 8v1m0 23v1m0 6v1m0 8v1m1-288v1m0 16v1m0 12v1m0 1v2m0 5v1m0 5v1m0 7v1m0 5v1m0 40v1m0 12v1m0 30v1m0 2v1m0 7v1m0 3v1m0 10v1m0 4v1m0 19v2m0 8v1m0 9v1m0 18v2m0 20v1m0 33v1m0 1v1m0 1v1m0 2v1m0 1v1m0 7v1m0 3v1m0 7v1m0 1v1m1-342v1m0 4v1m0 7v1m0 1v1m0 23v1m0 2v1m0 12v3m0 12v1m0 2v1m0 3v1m0 30v1m0 7v1m0 9v1m0 12v1m0 18v1m0 41v1m0 7v1m0 13v1m0 5v1m0 7v1m0 13v1m0 31v1m0 2v1m0 7v1m0 26v1m0 13v1m0 2v1m0 1v1m0 13v1m0 27v1m1-372v1m0 33v1m0 9v1m0 8v1m0 2v1m0 39v1m0 2v1m0 1v1m0 5v1m0 9v1m0 16v1m0 19v1m0 31v1m0 2v1m0 17v1m0 16v1m0 4v1m0 3v1m0 8v1m0 7v1m0 34v1m0 34v1m0 33v1m0 4v1m0 13v1m1-386v1m0 10v1m0 13v1m0 11v1m0 22v1m0 2v1m0 66v1m0 19v1m0 4v1m0 12v1m0 67v1m0 25v1m0 3v1m0 25v1m0 8v1m0 28v1m0 16v1m0 5v1m0 13v1m0 16v2m1-388v1m0 25v1m0 38v1m0 8v1m0 11v1m0 30v1m0 11v1m0 7v1m0 46v1m0 13v1m0 35v1m0 33v1m0 18v1m0 5v1m0 2v1m0 12v1m0 3v2m0 1v1m0 29v1m1-337v1m0 3v1m0 11v1m0 17v1m0 2v2m0 2v1m0 7v1m0 1v1m0 11v2m0 3v1m0 13v1m0 2v1m0 9v1m0 25v1m0 4v1m0 26v1m0 4v1m0 9v2m0 21v1m0 5v1m0 6v1m0 14v1m0 8v1m0 1v1m0 3v1m0 18v1m0 10v1m0 28v1m0 11v1m0 29v1m0 17v2m0 3v1m0 13v1m1-356v1m0 15v1m0 23v1m0 5v1m0 5v1m0 15v1m0 38v1m0 23v2m0 11v1m0 4v1m0 47v1m0 11v1m0 1v1m0 16v1m0 2v1m0 3v1m0 54v1m0 7v1m0 4v1m0 30v1m0 20v1m0 1v1m1-385v1m0 8v1m0 31v1m0 21v1m0 8v1m0 3v1m0 7v1m0 26v1m0 7v1m0 9v1m0 3v1m0 30v1m0 5v1m0 3v1m0 54v1m0 8v1m0 13v1m0 36v1m0 10v1m0 3v1m0 23v1m1-321v1m0 48v1m0 3v1m0 8v1m0 2v1m0 16v1m0 31v1m0 5v1m0 17v1m0 55v1m0 5v1m0 6v1m0 1v1m0 11v2m0 16v1m0 23v1m0 14v1m0 25v1m0 33v1m0 29v1m0 3v1m0 5v1m1-377v1m0 10v1m0 1v1m0 31v1m0 22v1m0 15v1m0 1v1m0 30v1m0 22v1m0 8v1m0 11v1m0 17v1m0 13v1m0 2v1m0 25v1m0 6v1m0 4v1m0 19v1m0 3v1m0 3v1m0 10v1m0 4v1m0 57v1m0 8v1m1-352v1m0 5v1m0 10v1m0 23v1m0 27v1m0 11v1m0 2v1m0 3v1m0 2v1m0 3v1m0 27v1m0 1v1m0 14v1m0 25v3m0 8v1m0 3v1m0 3v1m0 15v1m0 2v1m0 18v1m0 4v1m0 8v1m0 24v1m0 12v2m0 27v1m0 24v1m0 2v1m0 3v1m0 7v1m0 5v1m0 1v1m0 14v1m0 15v1m1-386v1m0 9v1m0 10v1m0 1v1m0 8v1m0 5v1m0 1v1m0 6v1m0 8v1m0 37v2m0 11v1m0 2v1m0 10v1m0 10v1m0 1v1m0 1v1m0 5v1m0 13v1m0 7v1m0 22v1m0 4v1m0 5v1m0 11v1m0 17v1m0 24v1m0 20v1m0 35v1m0 6v1m0 18v1m0 20v1m0 7v1m1-367v3m0 5v1m0 2v1m0 9v1m0 10v2m0 26v1m0 15v1m0 41v1m0 7v1m0 7v1m0 12v1m0 1v1m0 11v1m0 10v1m0 23v1m0 5v1m0 25v1m0 47v1m0 4v1m0 26v1m0 23v1m0 29v1m1-349v1m0 5v1m0 4v1m0 23v1m0 12v1m0 4v1m0 11v1m0 3v1m0 17v1m0 181v1m0 9v1m0 19v1m0 28v1m0 3v1m0 1v1m1-344v1m0 3v1m0 18v1m0 93v1m0 24v1m0 37v1m0 39v1m0 33v1m0 3v1m0 6v1m0 15v1m0 5v1m0 3v1m0 12v1m0 10v1m0 5v1m0 18v1m0 14v1m0 2v1m0 1v2m0 4v1m0 4v1m1-365v1m0 9v2m0 49v1m0 12v1m0 24v1m0 9v1m0 18v1m0 48v1m0 5v1m0 4v1m0 1v1m0 40v1m0 13v1m0 52v1m0 12v1m0 37v1m0 3v1m0 2v1m0 11v1m1-377v1m0 2v1m0 15v1m0 41v1m0 17v1m0 1v1m0 6v1m0 17v3m0 1v1m0 24v1m0 12v1m0 7v1m0 3v1m0 12v1m0 12v1m0 27v1m0 2v1m0 6v1m0 4v1m0 13v1m0 7v1m0 2v1m0 5v1m0 43v1m0 47v1m0 19v1m1-367v1m0 11v1m0 58v1m0 21v1m0 21v1m0 56v1m0 15v1m0 1v1m0 2v2m0 11v1m0 9v2m0 6v1m0 21v1m0 3v1m0 45v1m0 5v1m0 4v1m1-311v1m0 4v1m0 7v1m0 21v1m0 5v2m0 1v2m0 19v2m0 16v1m0 21v1m0 12v1m0 13v1m0 6v1m0 7v1m0 3v1m0 1v1m0 1v1m0 2v1m0 11v1m0 10v1m0 14v1m0 1v2m0 11v1m0 27v1m0 4v2m0 11v1m0 2v1m0 7v2m0 27v1m0 1v1m0 3v1m0 4v1m0 40v1m0 5v1m0 1v1m1-356v1m0 1v1m0 8v1m0 6v1m0 16v1m0 8v3m0 5v1m0 13v2m0 4v1m0 3v1m0 1v1m0 3v1m0 5v1m0 29v1m0 36v1m0 16v1m0 1v1m0 7v1m0 22v1m0 5v1m0 13v1m0 8v1m0 34v1m0 2v1m0 6v1m0 3v1m0 7v1m0 8v1m0 27v1m0 2v1m0 35v1m0 10v1m1-383v1m0 5v1m0 30v1m0 29v1m0 36v1m0 3v1m0 4v1m0 25v1m0 6v1m0 10v1m0 13v2m0 50v1m0 11v1m0 7v1m0 5v2m0 3v1m0 38v1m0 8v1m0 8v1m0 3v1m0 4v1m0 13v1m0 41v1m1-382v1m0 3v1m0 55v1m0 21v1m0 13v1m0 14v1m0 3v1m0 5v1m0 6v1m0 10v1m0 17v1m0 22v1m0 36v1m0 6v1m0 42v1m0 4v1m0 8v1m0 3v1m0 53v1m0 2v1m0 26v1m0 10v1m1-379v1m0 2v1m0 4v1m0 3v1m0 32v1m0 12v1m0 4v1m0 10v1m0 3v1m0 19v1m0 6v1m0 14v1m0 5v1m0 41v1m0 8v1m0 51v1m0 1v1m0 2v2m0 7v1m0 9v2m0 34v1m0 13v2m0 2v3m0 13v1m0 2v1m0 28v1m0 24v1m1-380v1m0 8v1m0 5v1m0 73v1m0 6v1m0 1v1m0 35v1m0 11v1m0 5v1m0 33v1m0 1v1m0 2v1m0 14v1m0 12v1m0 28v1m0 4v1m0 2v1m0 39v1m0 16v1m0 4v1m0 53v1m1-367v1m0 2v1m0 21v1m0 11v1m0 38v1m0 16v1m0 31v1m0 27v1m0 5v1m0 1v1m0 9v1m0 8v1m0 4v2m0 12v1m0 7v1m0 21v1m0 10v1m0 3v1m0 4v1m0 14v1m0 11v1m0 27v1m0 36v1m0 1v1m1-309v2m0 6v1m0 4v1m0 6v1m0 7v1m0 30v1m0 11v1m0 15v1m0 24v1m0 13v1m0 50v1m0 7v1m0 2v1m0 2v1m0 13v1m0 2v1m0 10v1m0 45v1m0 9v1m0 14v1m0 3v1m0 33v1m0 13v1m0 1v1m1-389v1m0 68v1m0 9v1m0 10v1m0 1v1m0 19v1m0 15v1m0 7v1m0 22v1m0 18v1m0 18v1m0 29v1m0 15v1m0 1v1m0 40v2m0 37v1m0 5v1m0 10v1m0 4v1m0 18v1m0 19v1m1-370v1m0 13v1m0 4v1m0 4v1m0 18v1m0 19v2m0 7v1m0 3v1m0 12v1m0 15v1m0 11v1m0 20v1m0 5v1m0 2v1m0 48v1m0 3v2m0 37v1m0 5v1m0 4v1m0 10v2m0 5v1m0 8v1m0 3v1m0 10v2m0 31v1m0 3v1m0 11v1m0 10v1m0 5v1m0 9v1m1-386v1m0 2v1m0 24v1m0 13v1m0 11v1m0 3v1m0 6v1m0 9v1m0 6v1m0 1v1m0 5v1m0 11v1m0 21v1m0 4v1m0 22v1m0 16v1m0 30v1m0 27v1m0 5v1m0 26v1m0 1v1m0 4v1m0 10v1m0 36v2m0 3v1m0 5v1m0 11v1m0 4v1m0 4v1m0 1v1m0 7v1m0 3v1m1-339v1m0 8v1m0 50v1m0 3v1m0 22v1m0 3v1m0 24v1m0 22v1m0 7v1m0 52v1m0 20v1m0 34v1m0 11v1m0 42v1m0 19v1m0 29v1m1-368v1m0 11v2m0 22v1m0 2v1m0 1v1m0 3v1m0 25v2m0 13v1m0 2v1m0 6v1m0 9v1m0 4v1m0 25v1m0 1v1m0 5v1m0 18v2m0 21v1m0 2v1m0 9v1m0 9v1m0 6v1m0 6v1m0 21v1m0 9v1m0 14v1m0 11v1m0 9v1m0 13v1m0 8v1m0 4v1m0 5v1m0 2v3m2-348v1m0 7v1m0 2v1m0 5v2m0 24v1m0 1v1m0 1v1m0 1v1m0 12v1m0 6v1m0 14v1m0 32v1m0 27v1m0 13v1m0 7v1m0 32v1m0 19v1m0 10v1m0 19v1m0 10v1m0 11v1m0 29v1m0 13v1m0 9v1m0 5v1m0 10v1m0 36v1m0 4v1m2-379v1m0 7v1m0 18v1m0 8v1m0 30v1m0 22v1m0 7v1m0 10v1m0 15v1m0 4v1m0 29v1m0 2v1m0 6v1m0 4v1m0 8v1m0 3v1m0 11v1m0 3v1m0 15v1m0 47v1m0 8v1m0 8v1m0 7v2m0 25v1m0 3v1m0 52v1m2-378v1m0 2v1m0 6v1m0 29v1m0 35v1m0 6v1m0 9v1m0 11v1m0 11v1m0 13v1m0 9v1m0 23v1m0 13v1m0 7v1m0 2v1m0 7v1m0 6v1m0 48v1m0 19v1m0 6v1m0 7v2m0 25v1m0 6v1m0 9v1m0 23v1m0 8v1m2-375v1m0 10v1m0 16v1m0 10v1m0 5v1m0 3v2m0 3v1m0 1v1m0 19v1m0 48v1m0 9v1m0 2v1m0 5v1m0 12v1m0 4v1m0 25v1m0 6v1m0 15v1m0 18v1m0 8v1m0 16v1m0 3v1m0 2v1m0 8v1m0 34v1m0 30v1m0 36v1m0 1v1m0 1v1m2-385v1m0 42v1m0 26v1m0 13v1m0 1v1m0 23v1m0 14v1m0 22v1m0 1v1m0 19v1m0 10v1m0 2v1m0 4v1m0 8v1m0 10v1m0 4v1m0 34v1m0 34v1m0 23v1m0 4v1m0 8v1m0 3v1m0 21v1m0 13v1m2-364v1m0 1v2m0 4v1m0 6v1m0 3v1m0 55v1m0 10v1m0 26v1m0 5v1m0 9v2m0 1v1m0 3v1m0 13v1m0 2v1m0 5v1m0 2v1m0 13v1m0 3v1m0 15v1m0 7v3m0 8v1m0 2v2m0 1v1m0 27v1m0 2v1m0 51v1m0 12v1m0 60v1m0 3v1m0 7v1m2-373v1m0 45v1m0 14v1m0 8v1m0 18v1m0 14v1m0 6v1m0 18v1m0 1v1m0 6v1m0 1v1m0 1v1m0 41v1m0 7v1m0 10v1m0 15v1m0 23v1m0 6v1m0 74v1m0 20v1m0 2v1m0 11v1m5-383v1m0 12v1m0 3v1m0 4v1m0 10v1m0 4v1m0 8v1m0 1v1m0 48v1m0 4v2m0 36v1m0 57v1m0 5v1m0 7v1m0 6v1m0 13v1m0 2v1m0 12v1m0 13v1m0 17v1m0 1v1m0 22v1m0 55v1m0 5v1m0 10v1m5-381v1m0 11v2m0 9v1m0 42v1m0 12v1m0 13v3m0 1v1m0 11v1m0 21v1m0 3v1m0 27v1m0 6v1m0 26v1m0 15v1m0 36v1m0 6v1m0 18v1m0 40v1m0 10v2m0 3v1m0 41v2m0 3v1m0 2v1m5-383v1m0 20v1m0 30v1m0 4v1m0 5v1m0 7v1m0 9v1m0 3v1m0 5v1m0 5v1m0 1v2m0 1v1m0 21v1m0 27v1m0 29v2m0 11v1m0 23v1m0 2v1m0 15v1m0 17v1m0 28v1m0 3v1m0 19v1m0 32v1m0 10v1m0 18v1m5-365v1m0 3v1m0 2v1m0 5v1m0 34v1m0 44v1m0 15v1m0 21v1m0 2v1m0 11v1m0 8v1m0 15v2m0 49v1m0 12v3m0 7v1m0 5v1m0 6v1m0 8v1m0 2v1m0 2v1m0 28v1m0 20v2m0 11v1m0 7v1m0 10v1m0 2v1m0 8v2m5-371v1m0 13v1m0 7v1m0 1v1m0 2v1m0 6v1m0 12v1m0 4v1m0 22v1m0 19v1m0 7v1m0 41v1m0 6v1m0 2v2m0 4v1m0 12v2m0 6v1m0 8v1m0 36v1m0 12v1m0 4v1m0 1v1m0 9v1m0 22v1m0 2v1m0 15v1m0 10v1m0 4v1m0 4v1m0 5v1m0 22v1m0 23v1m0 2v1m0 8v1m5-372v1m0 1v1m0 1v1m0 27v1m0 17v1m0 7v1m0 1v1m0 6v1m0 29v1m0 9v1m0 33v1m0 1v1m0 1v1m0 22v1m0 5v1m0 56v1m0 11v1m0 34v1m0 18v1m0 8v1m0 26v1m0 12v2"/>
<path stroke="#481467" d="M0 9v1m0 13v1m0 15v1m0 26v1m0 21v1m0 9v1m0 28v1m0 4v1m0 4v1m0 28v1m0 26v1m0 8v1m0 2v1m0 1v1m0 15v1m0 12v1m0 3v1m0 8v2m0 34v2m0 11v2m0 23v1m0 13v1m0 9v1m0 4v1m0 1v1m0 5v1m0 13v1m0 19v1m1-393v1m0 18v1m0 18v1m0 6v1m0 12v1m0 15v1m0 15v3m0 9v1m0 2v1m0 6v1m0 72v1m0 5v1m0 1v2m0 3v1m0 34v1m0 9v1m0 7v1m0 40v1m0 27v1m0 8v1m0 7v1m1-339v1m0 10v1m0 15v1m0 26v1m0 1v1m0 4v1m0 6v1m0 1v1m0 2v1m0 16v1m0 3v1m0 12v1m0 5v1m0 18v1m0 1v1m0 64v1m0 6v2m0 2v1m0 10v1m0 1v1m0 8v1m0 2v1m0 20v1m0 3v1m0 1v1m0 29v1m0 80v1m0 3v1m0 10v1m1-361v1m0 7v1m0 4v1m0 1v1m0 4v1m0 19v1m0 3v1m0 27v1m0 29v1m0 15v1m0 62v1m0 4v2m0 5v1m0 2v1m0 2v1m0 5v1m0 5v1m0 12v2m0 10v1m0 8v3m0 38v1m0 15v1m0 4v1m0 3v1m0 38v1m0 12v1m1-378v1m0 29v1m0 18v1m0 12v1m0 12v1m0 5v2m0 19v1m0 4v1m0 21v2m0 17v1m0 1v1m0 34v1m0 3v1m0 3v1m0 18v1m0 2v1m0 5v1m0 19v1m0 10v1m0 7v1m0 2v1m0 6v1m0 26v1m0 13v1m0 13v1m0 14v1m0 11v1m0 1v1m0 20v1m1-385v1m0 8v1m0 7v1m0 1v1m0 24v2m0 22v1m0 2v1m0 8v1m0 97v1m0 15v1m0 2v1m0 15v1m0 23v1m0 10v1m0 5v1m0 17v1m0 1v1m0 5v1m0 35v1m0 8v1m0 37v1m0 5v1m1-345v1m0 2v1m0 41v1m0 81v1m0 10v1m0 4v1m0 16v1m0 7v1m0 5v1m0 10v1m0 2v1m0 13v1m0 18v1m0 1v1m0 13v1m0 16v1m0 14v1m0 3v1m0 6v1m0 24v1m1-334v1m0 15v1m0 25v2m0 7v1m0 4v1m0 19v2m0 23v1m0 65v1m0 4v1m0 8v1m0 15v1m0 6v1m0 9v2m0 6v1m0 11v1m0 1v1m0 9v2m0 24v1m0 2v1m0 32v1m0 10v1m0 8v1m0 24v2m0 8v1m1-345v1m0 1v1m0 14v1m0 52v1m0 60v1m0 12v1m0 27v1m0 10v1m0 14v1m0 42v1m0 20v1m0 14v1m0 18v1m0 5v1m0 5v1m0 3v1m0 12v1m0 12v1m0 8v1m0 8v2m1-375v1m0 14v1m0 7v1m0 11v1m0 16v2m0 19v1m0 58v1m0 6v1m0 1v1m0 28v1m0 5v1m0 9v1m0 4v1m0 12v1m0 84v1m0 13v2m0 27v1m0 20v1m0 5v1m0 22v1m1-378v1m0 9v1m0 5v1m0 23v1m0 65v1m0 14v1m0 10v1m0 12v1m0 7v1m0 20v1m0 6v1m0 40v1m0 15v1m0 14v1m0 7v1m0 2v1m0 5v1m0 10v1m0 51v1m0 8v1m0 11v1m0 16v1m0 5v2m1-371v1m0 69v1m0 5v1m0 13v1m0 7v1m0 37v1m0 12v1m0 16v1m0 15v1m0 27v1m0 20v1m0 21v1m0 7v1m0 12v1m0 1v1m0 4v1m0 9v1m0 1v1m0 1v1m0 17v1m0 51v1m1-368v1m0 10v1m0 5v1m0 9v1m0 9v1m0 5v1m0 5v1m0 26v1m0 4v1m0 16v1m0 17v1m0 28v1m0 11v1m0 15v1m0 24v1m0 7v1m0 27v1m0 5v1m0 29v1m0 39v1m0 7v1m0 7v1m0 32v1m1-376v1m0 16v2m0 4v1m0 10v1m0 12v1m0 2v1m0 29v1m0 49v1m0 12v1m0 37v1m0 10v1m0 13v1m0 5v1m0 1v1m0 9v1m0 47v1m0 2v1m0 15v1m0 2v1m0 8v1m0 2v1m0 33v1m0 11v1m0 4v1m1-357v2m0 41v1m0 5v1m0 10v1m0 19v1m0 25v1m0 23v1m0 9v1m0 17v2m0 9v1m0 29v1m0 20v1m0 14v1m0 46v1m0 25v1m0 10v1m0 33v1m0 23v1m1-369v1m0 34v1m0 2v1m0 25v1m0 7v2m0 22v1m0 4v1m0 3v1m0 48v2m0 10v1m0 31v1m0 4v1m0 21v1m0 11v1m0 10v1m0 1v1m0 18v1m0 18v1m0 3v1m0 10v1m0 9v1m0 33v1m0 23v1m0 11v1m1-393v1m0 4v1m0 23v1m0 4v1m0 31v1m0 16v1m0 9v1m0 13v1m0 6v1m0 7v1m0 47v1m0 3v1m0 14v1m0 7v1m0 12v1m0 8v1m0 42v1m0 36v1m0 2v1m0 37v2m0 2v1m0 25v1m0 1v1m0 10v1m0 6v1m1-355v1m0 31v1m0 23v1m0 27v1m0 21v1m0 2v1m0 23v1m0 4v1m0 3v1m0 5v1m0 13v1m0 3v1m0 23v1m0 49v2m0 1v1m0 9v1m0 8v1m0 1v1m0 14v1m0 13v1m0 38v1m0 6v1m1-373v1m0 4v1m0 1v1m0 1v1m0 9v1m0 2v1m0 6v1m0 15v1m0 2v1m0 23v1m0 15v1m0 8v1m0 6v1m0 3v1m0 5v1m0 7v1m0 5v1m0 8v1m0 5v1m0 1v1m0 47v1m0 34v1m0 32v1m0 24v1m0 40v1m0 8v1m0 3v1m0 22v1m0 6v1m0 5v1m1-374v1m0 21v1m0 2v1m0 4v1m0 21v1m0 7v1m0 7v1m0 11v1m0 40v1m0 47v1m0 6v1m0 11v1m0 9v1m0 19v1m0 9v1m0 4v1m0 7v2m0 4v1m0 4v1m0 15v1m0 1v1m0 7v1m0 19v1m0 4v1m0 35v1m0 10v1m0 18v1m1-367v1m0 7v1m0 9v1m0 8v1m0 31v1m0 7v1m0 13v1m0 10v1m0 9v1m0 45v2m0 2v1m0 2v1m0 60v1m0 9v1m0 5v1m0 13v1m0 12v1m0 26v1m0 3v1m0 1v1m0 10v1m0 1v1m0 12v1m0 8v1m0 9v2m0 12v1m0 21v1m1-378v1m0 13v1m0 3v1m0 14v1m0 12v1m0 29v1m0 1v1m0 18v1m0 22v1m0 12v1m0 4v1m0 3v1m0 15v1m0 5v1m0 23v1m0 4v1m0 8v1m0 1v1m0 3v1m0 5v1m0 23v1m0 6v1m0 77v1m0 23v1m0 3v1m0 14v1m0 2v1m0 4v1m0 5v1m1-372v1m0 20v1m0 14v1m0 4v1m0 2v1m0 4v1m0 50v1m0 1v1m0 6v1m0 12v1m0 47v1m0 3v1m0 12v1m0 20v1m0 4v1m0 2v1m0 2v1m0 18v1m0 26v1m0 13v1m0 5v1m0 7v1m0 22v1m0 12v1m0 29v1m1-370v1m0 14v1m0 20v1m0 17v1m0 13v1m0 2v1m0 1v1m0 7v1m0 12v1m0 36v1m0 29v1m0 8v1m0 2v1m0 38v2m0 19v1m0 14v1m0 24v2m0 6v1m0 2v2m0 36v1m0 5v1m0 47v1m0 6v1m1-371v1m0 9v1m0 19v1m0 8v1m0 49v1m0 11v1m0 6v1m0 15v1m0 1v1m0 26v1m0 6v1m0 1v1m0 10v1m0 26v1m0 21v1m0 5v1m0 33v1m0 15v1m0 9v1m0 20v1m0 33v2m1-316v2m0 3v1m0 6v2m0 20v1m0 51v1m0 20v1m0 14v1m0 16v1m0 8v1m0 13v2m0 4v1m0 30v1m0 19v1m0 3v1m0 2v1m0 66v1m0 5v1m0 10v1m0 10v1m1-369v1m0 37v1m0 8v1m0 24v1m0 14v2m0 1v1m0 2v1m0 6v1m0 14v1m0 7v1m0 9v1m0 8v1m0 16v1m0 4v1m0 33v1m0 14v1m0 20v1m0 10v1m0 47v1m0 2v1m0 8v1m0 22v1m0 19v1m0 6v1m0 2v1m0 4v1m0 9v1m0 6v1m0 8v1m1-389v1m0 4v1m0 6v1m0 2v1m0 3v2m0 5v1m0 60v1m0 22v1m0 1v2m0 57v1m0 23v1m0 6v1m0 34v1m0 54v1m0 14v1m0 3v1m0 48v1m0 24v1m1-340v1m0 21v1m0 8v1m0 5v1m0 30v1m0 21v1m0 8v1m0 4v2m0 48v1m0 5v1m0 18v1m0 14v2m0 24v1m0 16v1m0 6v1m0 15v1m0 9v1m0 1v1m0 3v1m0 34v1m0 4v1m0 7v1m0 15v1m1-386v1m0 5v1m0 18v1m0 14v1m0 25v1m0 3v1m0 6v1m0 4v1m0 24v1m0 20v1m0 6v1m0 27v1m0 13v1m0 1v1m0 18v1m0 26v2m0 5v1m0 13v1m0 8v1m0 13v1m0 31v1m0 4v1m0 23v1m0 14v1m0 3v1m0 21v1m1-369v2m0 5v1m0 16v1m0 4v1m0 31v1m0 3v2m0 3v1m0 37v1m0 3v1m0 2v1m0 9v1m0 13v1m0 31v1m0 5v1m0 3v1m0 3v1m0 28v1m0 5v1m0 2v1m0 15v1m0 6v1m0 11v1m0 20v1m0 7v1m0 9v1m0 41v1m0 1v1m0 9v1m0 1v1m0 28v1m1-377v2m0 59v1m0 4v1m0 11v1m0 14v1m0 2v1m0 1v1m0 3v1m0 8v1m0 2v1m0 7v1m0 19v1m0 1v1m0 31v1m0 1v1m0 16v1m0 15v1m0 4v2m0 1v1m0 4v2m0 18v2m0 16v1m0 19v1m0 4v1m0 6v1m0 14v1m1-297v1m0 17v1m0 9v1m0 4v1m0 21v1m0 7v1m0 13v1m0 5v1m0 9v1m0 4v1m0 2v1m0 24v2m0 23v1m0 2v1m0 31v1m0 21v1m0 1v1m0 2v1m0 5v2m0 22v1m0 40v1m0 10v1m0 6v1m0 1v1m0 12v1m0 4v1m0 19v1m1-360v1m0 15v1m0 18v1m0 2v1m0 9v1m0 21v1m0 47v1m0 6v1m0 15v1m0 11v1m0 6v1m0 9v1m0 2v1m0 42v1m0 4v1m0 10v1m0 11v1m0 39v1m0 33v1m0 13v1m0 3v1m0 12v2m1-343v1m0 3v1m0 5v1m0 7v1m0 6v1m0 24v1m0 14v1m0 30v1m0 10v1m0 5v1m0 2v1m0 4v1m0 20v2m0 1v1m0 17v1m0 8v1m0 43v1m0 4v1m0 30v1m0 39v1m0 45v1m0 8v1m0 10v1m0 3v1m0 6v1m1-349v1m0 9v1m0 5v1m0 6v1m0 22v1m0 14v1m0 62v1m0 4v1m0 9v1m0 16v1m0 4v1m0 9v1m0 5v1m0 3v1m0 4v1m0 15v1m0 10v1m0 13v1m1-221v1m0 10v1m0 17v1m0 34v1m0 1v1m0 34v1m0 110v1m0 15v1m0 12v1m0 45v1m0 45v1m0 16v1m1-384v1m0 15v1m0 2v1m0 13v1m0 1v1m0 1v1m0 6v1m0 21v1m0 11v1m0 4v1m0 3v1m0 1v1m0 3v1m0 15v1m0 8v1m0 1v1m0 3v1m0 1v1m0 11v2m0 11v1m0 33v1m0 7v1m0 6v1m0 19v1m0 4v1m0 12v1m0 2v1m0 10v1m0 5v1m0 11v1m0 5v1m0 4v2m0 55v1m0 23v1m1-276v1m0 46v1m0 2v1m0 1v1m0 12v1m0 30v1m0 6v1m0 25v1m0 3v1m0 10v1m0 8v1m0 9v1m0 35v1m0 81v1m1-369v1m0 2v1m0 10v2m0 14v2m0 11v1m0 21v1m0 39v1m0 32v1m0 25v1m0 17v1m0 4v1m0 8v1m0 10v1m0 33v1m0 34v1m0 6v1m0 56v1m0 3v3m1-328v1m0 32v1m0 15v1m0 8v1m0 16v1m0 6v1m0 9v1m0 3v1m0 5v1m0 19v1m0 30v1m0 30v1m0 48v1m0 2v1m0 12v1m0 17v1m0 4v1m0 1v1m0 1v1m0 15v1m0 3v1m0 32v1m0 18v1m0 6v1m1-382v1m0 12v1m0 32v1m0 15v1m0 4v1m0 5v1m0 6v1m0 3v1m0 15v1m0 10v1m0 19v1m0 2v1m0 1v1m0 2v1m0 15v1m0 5v1m0 11v1m0 20v1m0 10v1m0 27v1m0 10v1m0 2v1m0 66v1m0 3v1m0 22v1m0 1v1m0 43v1m1-370v1m0 19v1m0 17v1m0 18v1m0 19v1m0 14v1m0 18v1m0 29v1m0 6v1m0 34v1m0 22v1m0 5v1m0 9v1m0 40v1m0 11v1m0 18v1m0 3v1m0 2v1m1-301v1m0 6v1m0 10v1m0 14v1m0 5v2m0 8v2m0 3v1m0 13v1m0 7v1m0 12v1m0 14v1m0 2v1m0 8v1m0 18v2m0 17v1m0 3v1m0 3v1m0 36v1m0 5v2m0 1v1m0 20v1m0 10v1m0 20v1m0 21v1m0 13v1m0 34v1m0 14v1m0 7v1m0 9v1m1-368v1m0 73v1m0 24v1m0 2v1m0 23v1m0 2v1m0 10v1m0 24v1m0 20v1m0 58v1m0 31v1m0 14v1m0 7v1m0 10v1m0 11v2m0 2v1m0 17v1m0 17v1m1-373v1m0 18v1m0 13v2m0 91v1m0 28v1m0 2v1m0 2v1m0 3v1m0 46v1m0 1v1m0 28v1m0 60v1m0 10v1m0 17v2m0 2v1m0 3v1m0 2v1m0 30v1m1-374v1m0 10v1m0 2v1m0 16v1m0 8v1m0 26v1m0 7v1m0 3v1m0 14v1m0 3v1m0 34v1m0 5v1m0 19v1m0 13v1m0 2v1m0 9v1m0 2v1m0 1v1m0 7v1m0 3v1m0 16v1m0 71v2m0 13v2m0 30v1m0 20v1m0 9v1m1-382v1m0 15v1m0 46v3m0 10v1m0 23v1m0 9v1m0 12v1m0 4v1m0 12v1m0 25v1m0 16v1m0 60v1m0 8v1m0 2v1m0 2v1m0 42v1m0 12v1m0 4v1m0 2v1m0 21v1m0 4v1m0 16v1m1-326v1m0 50v1m0 8v1m0 10v1m0 13v1m0 4v1m0 23v1m0 22v3m0 28v1m0 39v1m0 35v1m0 10v1m0 11v1m0 5v1m0 4v1m0 8v1m0 4v1m0 16v1m0 19v1m0 15v1m1-391v1m0 28v1m0 10v1m0 28v1m0 5v1m0 18v1m0 35v1m0 17v1m0 23v1m0 5v2m0 35v1m0 15v1m0 2v1m0 40v1m0 13v1m0 2v1m0 37v1m0 2v1m1-266v1m0 7v1m0 1v1m0 9v1m0 8v1m0 17v1m0 27v1m0 2v1m0 2v1m0 14v1m0 16v1m0 8v2m0 5v1m0 1v1m0 2v1m0 34v2m0 3v1m0 42v1m0 15v1m0 6v1m0 15v1m0 12v2m0 4v1m0 8v1m0 7v1m0 1v1m0 22v1m1-385v2m0 14v1m0 12v1m0 9v1m0 6v1m0 4v1m0 17v2m0 15v1m0 4v1m0 2v1m0 85v2m0 8v1m0 11v1m0 8v1m0 20v1m0 7v1m0 33v1m0 9v1m0 15v1m0 12v1m0 43v1m0 9v1m0 19v1m1-383v1m0 5v1m0 3v1m0 2v1m0 9v1m0 6v1m0 17v1m0 12v1m0 2v1m0 22v2m0 40v1m0 2v1m0 37v1m0 2v2m0 56v1m0 9v1m0 6v1m0 15v1m0 25v1m0 10v1m0 60v1m0 7v1m0 3v1m0 4v1m0 3v1m1-389v1m0 16v1m0 7v1m0 4v1m0 27v1m0 2v1m0 20v1m0 17v1m0 19v2m0 3v1m0 7v1m0 2v1m0 19v1m0 5v1m0 16v1m0 4v1m0 18v1m0 17v1m0 4v1m0 4v1m0 7v1m0 56v1m0 7v1m0 9v1m0 7v1m0 13v1m0 5v1m0 19v1m1-355v1m0 4v1m0 11v1m0 50v1m0 9v1m0 2v2m0 2v1m0 15v1m0 19v1m0 4v1m0 2v1m0 7v1m0 9v1m0 15v2m0 3v1m0 21v1m0 20v1m0 46v1m0 11v1m0 2v1m0 40v1m0 6v1m0 4v1m0 48v1m0 2v1m0 2v1m1-384v1m0 8v1m0 7v1m0 39v1m0 8v1m0 12v1m0 11v1m0 6v1m0 7v1m0 17v2m0 7v1m0 2v1m0 4v1m0 7v1m0 7v1m0 6v1m0 35v1m0 3v1m0 17v1m0 23v1m0 12v1m0 4v1m0 15v1m0 4v1m0 8v1m0 1v1m0 13v1m0 3v1m0 3v1m0 19v2m0 8v1m0 8v1m0 18v3m1-381v1m0 15v1m0 37v1m0 2v1m0 16v1m0 1v1m0 4v1m0 43v2m0 2v1m0 1v1m0 21v1m0 6v1m0 4v1m0 6v1m0 22v1m0 6v1m0 37v1m0 8v1m0 15v1m0 38v1m0 17v1m0 37v1m0 21v1m0 1v1m1-358v1m0 35v1m0 95v1m0 35v1m0 44v1m0 57v1m1-300v1m0 7v1m0 9v1m0 1v1m0 37v1m0 22v1m0 22v1m0 13v1m0 28v1m0 46v1m0 2v1m0 3v1m0 18v1m0 4v1m0 15v1m0 32v1m0 1v1m0 17v1m0 9v1m0 26v1m0 13v1m0 17v1m1-349v2m0 24v1m0 6v1m0 8v1m0 8v1m0 23v1m0 8v1m0 7v1m0 27v1m0 6v1m0 4v1m0 24v1m0 2v1m0 1v1m0 47v1m0 13v1m0 17v1m0 2v1m0 21v1m0 21v1m0 9v1m0 10v1m0 18v1m0 5v1m0 25v1m1-357v1m0 1v1m0 1v1m0 14v1m0 5v1m0 29v1m0 18v1m0 7v1m0 11v1m0 3v1m0 2v1m0 8v1m0 27v1m0 28v2m0 2v1m0 6v1m0 42v1m0 30v1m0 8v1m0 11v1m0 9v1m0 42v1m0 6v2m0 31v1m1-374v1m0 3v1m0 34v1m0 37v1m0 57v1m0 15v1m0 18v1m0 63v1m0 41v1m0 42v1m0 23v1m0 17v1m0 4v1m1-334v1m0 33v1m0 47v1m0 5v1m0 26v2m0 3v1m0 17v1m0 8v1m0 9v1m0 17v1m0 9v1m0 25v1m0 4v1m0 21v1m0 5v1m0 31v1m0 7v1m0 1v1m0 26v2m0 22v1m1-387v1m0 2v1m0 9v1m0 27v1m0 18v2m0 11v1m0 8v1m0 27v1m0 13v2m0 10v1m0 11v1m0 17v1m0 6v1m0 8v1m0 10v1m0 5v1m0 41v1m0 32v2m0 1v1m0 4v1m0 13v2m0 3v1m0 5v1m0 8v1m0 1v1m0 6v1m0 8v1m0 35v1m0 4v1m0 7v1m0 1v2m1-372v1m0 38v1m0 1v1m0 3v1m0 7v1m0 1v1m0 27v1m0 43v1m0 44v1m0 17v1m0 60v1m0 12v1m0 7v1m0 7v1m0 43v1m0 1v1m0 4v1m0 11v1m0 6v2m1-359v1m0 90v1m0 7v1m0 9v1m0 67v1m0 11v1m0 51v1m0 10v1m0 15v1m0 3v1m0 62v1m0 18v1m0 17v1m1-366v1m0 20v1m0 9v1m0 1v1m0 11v1m0 4v1m0 1v1m0 21v1m0 73v1m0 7v1m0 6v1m0 6v1m0 2v1m0 25v1m0 2v1m0 34v1m0 10v1m0 27v1m0 2v1m0 2v1m0 35v2m0 26v1m0 12v1m1-373v1m0 23v1m0 22v1m0 5v1m0 4v1m0 59v1m0 1v1m0 6v1m0 7v1m0 11v1m0 22v1m0 5v1m0 5v1m0 20v1m0 4v1m0 24v1m0 3v1m0 4v1m0 13v1m0 14v1m0 17v1m0 38v2m0 4v1m0 22v1m0 12v1m0 6v1m0 1v1m1-380v1m0 54v1m0 21v1m0 24v1m0 6v1m0 6v1m0 6v1m0 8v1m0 51v1m0 15v1m0 8v1m0 24v1m0 12v1m0 16v1m0 1v1m0 25v1m0 5v1m0 3v1m0 4v1m0 12v1m0 13v1m1-303v1m0 22v1m0 8v1m0 8v1m0 31v1m0 25v1m0 32v1m0 5v1m0 22v1m0 31v1m0 12v1m0 3v1m0 48v1m0 7v1m0 8v1m0 26v1m0 6v1m0 11v1m0 20v1m0 9v2m1-366v1m0 3v1m0 17v1m0 7v1m0 6v1m0 26v1m0 3v1m0 4v1m0 75v1m0 1v2m0 1v1m0 13v1m0 50v1m0 2v1m0 2v1m0 7v1m0 18v1m0 18v1m0 28v2m0 6v1m0 1v1m1-331v2m0 4v1m0 3v1m0 12v1m0 11v1m0 25v1m0 6v1m0 4v1m0 17v1m0 17v1m0 4v1m0 15v1m0 9v1m0 19v1m0 17v1m0 40v1m0 14v1m0 46v1m0 6v1m0 3v1m0 37v1m0 5v1m0 33v1m0 2v1m0 11v1m1-381v1m0 12v1m0 9v1m0 7v1m0 20v1m0 27v1m0 12v1m0 14v1m0 8v2m0 13v1m0 2v1m0 40v1m0 27v1m0 37v1m0 4v1m0 4v2m0 18v1m0 1v1m0 2v1m0 12v1m0 4v1m0 5v1m0 12v1m0 64v1m1-381v1m0 18v1m0 15v1m0 11v1m0 13v1m0 30v1m0 4v1m0 6v1m0 44v1m0 24v1m0 52v1m0 1v1m0 45v1m0 16v1m0 17v1m0 1v1m0 1v1m0 8v1m0 20v1m0 16v1m1-369v1m0 20v1m0 44v1m0 7v1m0 1v1m0 39v1m0 5v1m0 23v1m0 20v2m0 8v1m0 35v1m0 8v1m0 15v1m0 55v1m0 2v1m0 9v1m0 13v1m0 9v1m0 29v1m0 16v1m0 4v1m1-379v1m0 7v1m0 25v1m0 5v1m0 13v1m0 4v1m0 9v1m0 15v1m0 13v1m0 16v1m0 30v1m0 22v1m0 9v1m0 42v1m0 6v1m0 10v1m0 18v2m0 19v2m0 10v1m0 8v1m0 34v1m0 5v1m0 4v1m1-340v1m0 3v1m0 12v1m0 14v1m0 24v1m0 3v1m0 4v1m0 4v1m0 3v1m0 3v1m0 13v1m0 5v1m0 2v1m0 2v1m0 16v1m0 27v1m0 39v1m0 59v1m0 1v1m0 2v1m0 15v1m0 14v1m0 12v1m0 26v1m0 13v1m0 11v1m0 9v1m0 3v1m0 2v1m1-373v1m0 22v1m0 2v1m0 11v1m0 3v1m0 3v1m0 6v1m0 3v1m0 2v1m0 10v1m0 6v2m0 34v1m0 12v1m0 18v1m0 21v1m0 6v1m0 6v1m0 23v1m0 13v1m0 11v1m0 2v1m0 36v2m0 13v1m0 6v1m0 5v2m0 9v2m0 27v1m0 3v1m0 11v1m0 6v1m0 3v1m1-379v1m0 25v1m0 10v1m0 12v1m0 29v1m0 61v1m0 39v1m0 7v1m0 10v1m0 95v1m0 11v1m0 8v1m0 19v1m0 1v1m0 16v1m0 2v1m1-331v1m0 3v1m0 2v1m0 4v1m0 2v1m0 8v1m0 12v1m0 5v1m0 12v1m0 4v1m0 6v1m0 4v1m0 2v1m0 3v1m0 27v2m0 11v1m0 14v1m0 1v1m0 17v1m0 12v1m0 36v1m0 17v1m0 27v1m0 19v1m0 17v1m0 9v1m0 8v1m0 16v1m0 6v1m0 9v1m0 9v1m1-372v1m0 1v1m0 9v1m0 44v1m0 6v1m0 6v1m0 32v1m0 14v1m0 37v1m0 8v1m0 21v1m0 12v1m0 38v1m0 11v1m0 8v1m0 34v1m0 3v1m0 23v1m0 1v1m1-326v1m0 13v1m0 61v1m0 7v1m0 20v1m0 5v1m0 2v1m0 1v1m0 4v1m0 8v1m0 3v2m0 5v1m0 1v1m0 1v1m0 25v1m0 15v1m0 1v1m0 8v1m0 39v1m0 5v1m0 6v1m0 10v1m0 2v1m0 19v1m0 14v1m0 2v1m0 2v1m0 6v1m0 9v1m0 44v1m1-368v1m0 2v1m0 23v1m0 5v1m0 8v1m0 31v1m0 37v1m0 6v1m0 45v1m0 45v1m0 19v1m0 7v1m0 12v1m0 26v1m0 17v1m0 7v1m0 43v1m1-346v1m0 36v1m0 58v1m0 12v1m0 106v1m0 15v1m0 11v1m0 8v1m0 7v1m0 16v1m0 17v1m0 2v1m0 27v1m0 8v1m0 4v1m0 14v1m1-321v1m0 75v1m0 7v1m0 3v1m0 28v1m0 15v1m0 7v1m0 20v1m0 4v2m0 16v1m0 2v1m0 13v1m0 4v1m0 2v1m0 19v1m0 10v1m0 37v1m0 19v1m0 28v1m1-348v1m0 2v1m0 3v1m0 16v1m0 12v1m0 2v1m0 28v1m0 6v1m0 5v1m0 42v1m0 7v2m0 2v1m0 6v1m0 4v1m0 3v1m0 72v1m0 31v1m0 10v1m0 3v1m0 45v1m0 5v1m1-350v1m0 17v1m0 3v1m0 2v1m0 60v1m0 4v1m0 10v1m0 27v1m0 7v1m0 2v1m0 15v1m0 8v1m0 23v1m0 18v1m0 4v1m0 16v1m0 8v2m0 10v2m0 4v1m0 19v1m0 7v2m0 12v1m0 13v1m0 1v1m0 13v1m0 3v1m0 13v1m0 5v1m0 1v1m1-329v1m0 23v1m0 3v1m0 36v1m0 15v1m0 19v1m0 16v1m0 6v1m0 14v1m0 18v1m0 3v1m0 34v1m0 5v2m0 23v1m0 11v1m0 5v1m0 33v1m0 1v1m0 4v1m0 6v1m0 41v1m0 8v1m1-368v1m0 27v1m0 15v1m0 5v1m0 25v1m0 1v1m0 34v1m0 14v1m0 5v1m0 8v1m0 12v1m0 27v1m0 30v1m0 3v1m0 16v1m0 2v1m0 6v1m0 4v1m0 23v3m0 3v1m0 3v1m0 4v1m0 1v1m0 8v1m0 2v1m0 9v1m0 31v1m0 11v1m1-374v1m0 8v1m0 69v1m0 4v1m0 1v1m0 3v1m0 7v1m0 9v1m0 19v1m0 70v2m0 8v1m0 1v1m0 1v1m0 22v1m0 3v1m0 1v1m0 18v2m0 4v1m0 4v1m0 2v1m0 11v1m0 1v1m0 8v3m0 8v1m0 13v1m0 29v1m0 21v1m0 2v1m0 3v2m1-342v1m0 4v1m0 69v2m0 3v1m0 2v1m0 7v1m0 17v1m0 15v1m0 2v1m0 8v1m0 20v1m0 3v1m0 17v1m0 6v1m0 2v1m0 26v1m0 33v1m0 33v2m0 4v1m1-323v1m0 11v1m0 1v1m0 21v1m0 28v1m0 1v1m0 6v1m0 10v1m0 4v1m0 1v1m0 22v1m0 2v1m0 21v1m0 6v1m0 11v1m0 4v1m0 33v1m0 26v1m0 12v1m0 24v1m0 38v1m0 8v1m0 10v1m0 27v1m0 18v1m1-382v1m0 41v2m0 16v1m0 6v1m0 1v1m0 44v1m0 4v1m0 3v2m0 9v1m0 5v1m0 25v1m0 4v1m0 5v1m0 2v2m0 14v1m0 8v1m0 1v1m0 2v1m0 13v1m0 1v1m0 20v1m0 27v1m0 17v1m0 21v1m0 26v1m0 5v1m0 8v1m0 4v2m0 10v1m0 9v1m1-320v1m0 6v1m0 19v1m0 2v1m0 54v1m0 8v1m0 25v1m0 4v1m0 2v1m0 13v1m0 44v1m0 25v1m0 17v1m0 1v1m0 19v1m0 1v1m0 2v1m0 45v1m0 4v1m1-372v1m0 29v1m0 6v1m0 2v2m0 8v1m0 3v1m0 15v1m0 1v1m0 7v1m0 10v1m0 7v1m0 47v1m0 3v1m0 26v1m0 3v1m0 2v1m0 6v1m0 24v1m0 2v1m0 13v1m0 14v2m0 1v1m0 3v1m0 22v1m0 12v1m0 61v1m0 4v1m0 11v2m0 8v1m1-383v1m0 21v1m0 19v1m0 2v1m0 39v1m0 11v1m0 8v1m0 26v1m0 16v1m0 3v1m0 11v1m0 9v1m0 7v1m0 2v1m0 9v1m0 30v1m0 15v2m0 12v1m0 4v1m0 39v1m0 35v1m0 7v1m0 14v1m0 8v1m1-372v1m0 2v1m0 23v1m0 3v1m0 26v1m0 3v1m0 4v1m0 23v1m0 4v1m0 60v1m0 11v1m0 45v1m0 59v1m0 2v1m0 30v1m0 4v1m0 8v1m0 3v1m0 3v1m0 30v1m0 16v1m0 3v1m1-356v1m0 2v1m0 28v1m0 5v1m0 5v1m0 2v1m0 34v1m0 6v1m0 13v1m0 20v1m0 12v2m0 3v1m0 14v1m0 6v1m0 13v1m0 4v1m0 20v1m0 5v3m0 16v1m0 33v1m0 21v1m0 23v1m0 36v2m1-379v1m0 3v1m0 11v1m0 38v1m0 8v1m0 21v2m0 18v1m0 23v1m0 7v1m0 13v1m0 3v1m0 92v1m0 16v2m0 64v1m0 21v1m0 30v1m1-367v1m0 9v2m0 32v1m0 26v1m0 6v1m0 6v1m0 17v1m0 9v1m0 28v1m0 2v1m0 12v1m0 5v1m0 21v1m0 9v1m0 41v1m0 16v1m0 34v2m0 3v1m0 42v1m0 3v1m0 9v1m0 1v1m0 5v1m0 4v1m0 1v1m1-362v1m0 3v1m0 8v1m0 23v2m0 2v1m0 4v1m0 2v1m0 42v1m0 13v1m0 1v1m0 19v1m0 2v1m0 34v3m0 34v2m0 9v1m0 16v1m0 20v1m0 9v1m0 7v1m0 3v1m0 3v1m0 10v1m0 2v1m0 2v1m0 8v1m0 16v1m1-347v2m0 2v1m0 6v1m0 5v1m0 20v1m0 8v1m0 26v1m0 3v1m0 19v1m0 1v1m0 3v1m0 8v1m0 12v1m0 19v1m0 36v1m0 17v1m0 2v1m0 19v1m0 30v1m0 17v1m0 21v2m0 50v1m0 3v1m0 18v1m0 3v1m0 6v1m1-380v1m0 15v1m0 38v1m0 13v1m0 5v1m0 10v1m0 10v1m0 32v2m0 3v1m0 6v1m0 3v1m0 2v1m0 6v1m0 2v1m0 2v1m0 15v1m0 66v1m0 23v1m0 1v1m0 18v1m0 29v2m0 27v1m0 24v1m1-379v1m0 23v2m0 19v1m0 11v1m0 2v1m0 13v1m0 25v1m0 8v1m0 1v1m0 31v1m0 16v1m0 37v1m0 19v1m0 4v1m0 13v1m0 11v1m0 3v1m0 17v1m0 12v1m0 4v1m0 4v1m0 15v1m0 3v1m0 1v1m0 6v1m0 29v1m0 4v1m0 11v1m1-365v2m0 26v1m0 1v1m0 5v1m0 4v1m0 17v1m0 5v1m0 25v1m0 8v1m0 3v1m0 8v1m0 38v1m0 6v1m0 7v1m0 2v1m0 10v1m0 2v1m0 16v1m0 6v1m0 3v1m0 25v1m0 2v1m0 51v1m0 9v1m0 40v1m0 22v1m0 5v1m0 9v1m1-383v1m0 3v1m0 9v1m0 20v1m0 6v1m0 10v1m0 13v1m0 3v1m0 56v1m0 1v1m0 12v1m0 2v2m0 5v1m0 4v1m0 1v1m0 25v1m0 7v1m0 4v1m0 17v1m0 7v1m0 20v1m0 16v1m0 11v1m0 14v2m0 16v1m0 25v1m0 31v1m1-367v1m0 20v1m0 2v1m0 7v1m0 3v1m0 2v1m0 36v1m0 3v1m0 34v1m0 1v1m0 32v1m0 33v2m0 2v1m0 10v1m0 13v1m0 5v1m0 19v1m0 13v1m0 1v1m0 25v1m0 17v1m0 22v1m0 32v1m0 6v1m2-359v1m0 8v1m0 6v1m0 9v1m0 1v1m0 3v1m0 3v1m0 18v1m0 140v1m0 28v1m0 3v1m0 1v1m0 2v1m0 16v1m0 13v1m0 39v1m0 11v1m0 27v1m0 5v1m0 7v1m0 9v1m2-355v1m0 46v1m0 28v1m0 26v1m0 39v1m0 46v1m0 27v1m0 5v1m0 18v1m0 24v1m0 2v1m0 4v2m0 8v1m0 30v1m0 17v1m0 10v1m2-372v1m0 5v1m0 1v1m0 19v1m0 15v1m0 16v1m0 4v2m0 13v2m0 20v1m0 20v1m0 9v1m0 22v1m0 14v1m0 19v1m0 8v1m0 27v1m0 18v1m0 29v1m0 3v1m0 7v1m0 7v1m0 14v1m0 9v1m0 6v1m0 8v1m2-328v1m0 7v1m0 17v1m0 12v1m0 1v1m0 24v1m0 11v1m0 8v1m0 29v1m0 13v1m0 13v1m0 22v1m0 38v1m0 23v1m0 54v1m0 11v1m0 12v1m0 1v1m0 36v2m0 15v1m2-364v1m0 5v1m0 4v1m0 3v1m0 11v1m0 9v1m0 7v1m0 32v1m0 1v1m0 3v1m0 36v1m0 6v1m0 113v1m0 39v1m0 19v2m0 3v1m0 1v1m0 18v1m0 11v1m0 5v1m0 13v1m0 4v1m2-374v1m0 30v2m0 1v1m0 9v1m0 13v1m0 3v1m0 23v1m0 24v1m0 4v1m0 32v1m0 9v1m0 24v1m0 6v1m0 4v1m0 26v1m0 4v1m0 1v1m0 5v1m0 18v1m0 4v1m0 64v1m0 9v1m0 20v1m0 11v1m2-372v1m0 2v1m0 14v1m0 13v1m0 18v1m0 12v1m0 29v2m0 37v1m0 1v1m0 35v1m0 6v1m0 7v1m0 4v1m0 2v1m0 11v1m0 20v1m0 87v1m0 26v1m0 13v1m0 14v1m0 9v1m5-387v1m0 25v1m0 11v1m0 4v1m0 13v1m0 11v1m0 16v1m0 8v1m0 12v1m0 26v1m0 39v1m0 1v1m0 12v1m0 10v2m0 5v1m0 9v1m0 11v1m0 25v1m0 15v1m0 14v1m0 1v1m0 7v2m0 10v1m0 7v1m0 25v1m0 1v1m0 8v1m0 26v1m5-364v1m0 7v1m0 48v1m0 5v1m0 1v1m0 2v1m0 19v1m0 2v1m0 32v2m0 3v1m0 18v1m0 3v1m0 7v1m0 4v1m0 7v1m0 31v1m0 22v1m0 15v1m0 13v1m0 5v1m0 39v2m0 6v1m0 18v1m0 19v1m5-359v1m0 25v2m0 11v1m0 17v1m0 1v1m0 58v1m0 76v1m0 28v1m0 14v1m0 14v1m0 4v1m0 5v1m0 3v1m0 3v1m0 25v1m0 37v1m0 3v1m5-287v1m0 5v1m0 9v2m0 19v1m0 18v1m0 12v1m0 2v1m0 12v1m0 24v1m0 17v1m0 3v1m0 23v1m0 25v1m0 1v1m0 11v1m0 4v1m0 2v1m0 13v1m0 43v1m0 6v3m0 31v1m5-275v1m0 24v1m0 5v1m0 23v1m0 5v1m0 11v1m0 32v1m0 11v1m0 2v1m0 21v1m0 20v1m0 8v1m0 38v2m0 3v1m0 28v1m0 30v1m0 3v1m5-377v1m0 6v1m0 12v1m0 78v1m0 10v1m0 54v1m0 7v1m0 13v1m0 13v1m0 10v1m0 3v1m0 10v1m0 1v1m0 25v1m0 21v1m0 1v1m0 37v1m0 3v1m0 12v1m0 5v1m0 12v1m0 3v1m0 17v1"/>
<path stroke="#481a6c" d="M0 0v1m0 5v1m0 13v1m0 5v1m0 6v1m0 25v1m0 9v1m0 8v1m0 1v1m0 27v1m0 7v1m0 5v1m0 24v1m0 1v1m0 23v1m0 4v1m0 42v1m0 12v1m0 28v1m0 25v1m0 1v1m0 4v1m0 12v1m0 21v1m0 29v1m0 11v1m0 6v1m0 10v1m0 12v1m1-396v1m0 5v1m0 12v1m0 6v1m0 9v1m0 2v1m0 5v1m0 16v1m0 12v1m0 6v1m0 25v1m0 5v1m0 11v1m0 9v1m0 19v1m0 8v1m0 26v1m0 8v1m0 15v1m0 5v1m0 1v1m0 26v1m0 4v1m0 50v1m0 32v1m0 8v1m0 24v1m0 19v1m1-397v1m0 10v1m0 6v1m0 4v1m0 4v2m0 1v1m0 7v1m0 3v1m0 20v1m0 50v1m0 2v1m0 10v1m0 15v1m0 41v1m0 3v1m0 41v2m0 1v2m0 14v1m0 13v1m0 78v1m0 12v1m0 13v1m0 12v1m1-393v1m0 8v1m0 60v1m0 45v1m0 31v1m0 4v1m0 37v1m0 49v1m0 27v1m0 16v1m0 35v1m0 10v1m0 26v1m1-359v1m0 14v1m0 36v1m0 7v1m0 8v1m0 18v1m0 22v1m0 1v1m0 4v1m0 4v1m0 8v1m0 19v1m0 36v1m0 3v1m0 5v1m0 13v2m0 16v1m0 2v1m0 7v1m0 8v1m0 11v1m0 9v1m0 6v1m0 18v1m0 13v1m0 2v1m0 9v1m0 1v1m0 9v1m0 4v1m0 33v1m0 7v1m0 4v1m1-394v1m0 36v1m0 4v1m0 16v2m0 6v1m0 13v1m0 5v1m0 39v1m0 40v1m0 5v1m0 36v1m0 19v2m0 2v2m0 1v1m0 6v1m0 9v1m0 6v1m0 5v1m0 7v1m0 4v1m0 3v1m0 18v1m0 2v1m0 24v1m0 57v1m1-384v1m0 20v2m0 37v1m0 9v2m0 75v1m0 27v1m0 48v1m0 55v1m0 4v1m1-288v1m0 14v1m0 12v1m0 15v1m0 1v1m0 17v1m0 19v1m0 8v2m0 1v1m0 49v1m0 78v1m0 12v1m0 11v2m0 16v1m0 44v1m0 21v1m0 10v1m0 15v1m0 21v1m1-370v1m0 9v1m0 5v1m0 36v2m0 32v1m0 6v1m0 16v1m0 6v1m0 8v1m0 10v2m0 53v1m0 9v1m0 12v1m0 23v2m0 18v1m0 8v1m0 25v1m0 22v1m0 1v1m0 3v2m0 5v1m0 23v1m0 4v1m1-363v1m0 4v1m0 42v1m0 8v2m0 6v1m0 10v1m0 15v1m0 7v1m0 11v1m0 24v1m0 27v1m0 10v1m0 7v1m0 12v1m0 34v1m0 1v1m0 19v1m0 32v1m0 7v1m0 25v1m0 2v1m0 7v1m1-342v1m0 41v1m0 6v1m0 20v1m0 40v1m0 36v1m0 11v1m0 6v1m0 31v1m0 26v1m0 22v1m0 20v1m0 24v1m0 18v1m0 9v1m0 4v1m0 5v1m0 27v1m1-338v1m0 50v1m0 61v1m0 4v1m0 18v1m0 64v1m0 3v1m0 13v1m0 1v1m0 12v1m0 47v1m0 1v1m0 67v1m1-363v1m0 35v2m0 19v1m0 55v1m0 25v4m0 16v1m0 51v1m0 14v1m0 42v2m0 46v1m0 26v1m0 8v1m0 6v1m1-378v1m0 19v1m0 1v1m0 7v1m0 16v1m0 5v1m0 1v1m0 17v1m0 2v1m0 35v1m0 5v1m0 28v1m0 4v1m0 7v1m0 5v1m0 14v1m0 6v1m0 1v2m0 1v2m0 15v1m0 19v1m0 1v1m0 15v1m0 21v1m0 22v1m0 24v1m0 3v1m0 19v1m1-334v1m0 10v1m0 19v1m0 23v1m0 18v1m0 16v1m0 9v1m0 8v1m0 26v1m0 9v1m0 16v1m0 22v1m0 18v1m0 7v1m0 13v1m0 5v1m0 16v1m0 74v1m0 1v1m0 5v2m0 28v1m1-383v1m0 20v1m0 31v1m0 10v1m0 85v1m0 18v2m0 8v1m0 14v1m0 37v1m0 31v1m0 30v1m0 9v1m0 4v1m0 27v1m0 41v1m0 3v1m1-368v1m0 5v1m0 4v1m0 7v1m0 26v1m0 2v1m0 61v1m0 11v1m0 33v1m0 17v1m0 42v1m0 5v1m0 5v1m0 1v1m0 19v1m0 14v1m0 9v1m0 2v1m0 8v1m0 2v1m0 1v1m0 13v1m0 10v1m1-307v1m0 14v1m0 9v1m0 6v1m0 13v1m0 14v1m0 113v1m0 5v1m0 9v1m0 17v1m0 46v1m0 9v1m0 36v1m0 4v1m0 2v1m0 2v1m0 38v1m0 3v1m1-368v1m0 3v1m0 6v1m0 9v2m0 15v1m0 1v1m0 13v1m0 38v1m0 5v1m0 11v1m0 4v1m0 27v1m0 1v1m0 3v1m0 1v1m0 17v1m0 10v1m0 9v1m0 7v1m0 1v1m0 6v2m0 62v1m0 10v1m0 35v1m0 26v1m0 1v1m0 6v1m1-359v1m0 4v1m0 2v1m0 18v1m0 7v1m0 7v1m0 54v1m0 1v1m0 48v1m0 1v1m0 12v1m0 9v1m0 26v1m0 8v1m0 3v2m0 9v1m0 4v1m0 2v1m0 5v1m0 16v1m0 46v1m0 26v1m0 21v1m0 17v1m0 2v1m1-390v1m0 12v1m0 35v1m0 15v2m0 3v1m0 1v1m0 6v1m0 8v1m0 20v1m0 3v1m0 21v1m0 26v2m0 124v1m0 2v1m0 19v1m0 14v1m0 6v1m0 19v1m0 10v1m0 23v1m1-368v1m0 10v1m0 15v1m0 5v1m0 107v1m0 15v1m0 10v1m0 10v1m0 47v1m0 2v1m0 7v1m0 51v1m0 4v1m0 3v2m0 33v1m0 20v1m0 5v1m0 1v1m0 7v1m1-383v1m0 4v1m0 17v1m0 9v1m0 5v1m0 11v1m0 45v1m0 18v1m0 3v1m0 2v1m0 20v1m0 10v1m0 1v1m0 15v1m0 12v1m0 26v1m0 79v1m0 45v1m0 38v1m1-371v1m0 60v1m0 12v1m0 22v1m0 33v1m0 2v1m0 2v1m0 24v1m0 11v1m0 11v1m0 1v1m0 22v1m0 9v1m0 16v1m0 6v1m0 6v2m0 21v2m0 14v1m0 12v1m0 13v1m0 6v1m0 7v1m0 10v1m0 3v1m0 8v1m0 3v1m1-352v1m0 4v1m0 14v1m0 8v1m0 62v1m0 7v1m0 81v1m0 16v1m0 13v1m0 16v2m0 5v1m0 35v1m0 4v1m0 16v1m0 7v1m0 56v1m1-370v1m0 15v3m0 39v1m0 23v1m0 62v1m0 4v1m0 12v1m0 36v1m0 14v1m0 24v1m0 11v1m0 72v1m0 33v1m0 9v1m1-387v1m0 9v1m0 123v1m0 42v1m0 21v1m0 28v1m0 5v1m0 5v1m0 3v1m0 3v1m0 28v2m0 18v1m0 77v1m0 4v1m1-347v2m0 10v1m0 4v2m0 4v1m0 3v2m0 39v1m0 6v1m0 52v1m0 43v1m0 1v2m0 13v1m0 2v1m0 29v1m0 9v1m0 33v1m0 12v1m0 35v1m0 14v1m0 2v1m0 10v1m0 1v1m1-382v1m0 29v1m0 1v1m0 2v1m0 78v1m0 2v1m0 36v1m0 3v1m0 21v1m0 22v1m0 25v1m0 28v1m0 64v1m0 2v1m0 23v1m1-353v1m0 49v1m0 39v1m0 28v1m0 5v1m0 9v1m0 19v1m0 19v1m0 15v1m0 1v1m0 30v1m0 13v1m0 42v2m0 14v1m0 2v1m0 19v1m0 13v1m0 3v1m0 1v2m0 2v1m0 31v1m0 7v1m1-377v1m0 38v1m0 30v1m0 1v1m0 10v1m0 15v1m0 25v1m0 3v1m0 7v1m0 53v1m0 4v1m0 5v1m0 12v1m0 10v2m0 5v2m0 14v1m0 2v1m0 32v1m0 10v1m0 14v2m0 21v1m0 6v1m0 33v1m1-383v1m0 11v2m0 14v1m0 5v1m0 18v1m0 1v1m0 18v1m0 3v1m0 4v1m0 1v1m0 6v1m0 2v1m0 1v1m0 20v1m0 11v1m0 3v1m0 75v1m0 5v1m0 27v1m0 3v1m0 38v1m0 44v1m0 23v1m0 7v1m0 12v1m0 14v1m1-393v1m0 15v1m0 29v1m0 17v1m0 11v1m0 4v1m0 11v1m0 14v1m0 9v1m0 3v1m0 6v1m0 14v1m0 19v1m0 4v1m0 12v1m0 15v1m0 7v3m0 17v1m0 8v1m0 22v1m0 11v1m0 25v1m0 25v1m0 27v1m0 20v1m1-338v1m0 20v1m0 9v1m0 23v1m0 121v1m0 18v1m0 1v2m0 44v1m0 12v1m0 21v1m0 8v1m0 37v1m0 23v1m0 4v1m1-375v1m0 56v1m0 3v1m0 10v1m0 16v1m0 66v1m0 51v1m0 20v1m0 5v1m0 4v1m0 14v1m0 60v1m0 11v1m0 16v1m0 16v1m1-342v1m0 2v1m0 20v1m0 15v1m0 13v1m0 16v1m0 8v1m0 3v1m0 22v1m0 26v1m0 13v1m0 4v1m0 41v1m0 96v1m0 4v1m1-331v1m0 30v1m0 49v1m0 18v1m0 6v1m0 14v1m0 9v1m0 14v1m0 21v1m0 3v1m0 26v1m0 9v1m0 16v1m0 20v1m0 24v1m0 10v1m0 82v1m0 15v1m1-388v1m0 12v1m0 10v1m0 12v1m0 27v1m0 8v1m0 16v1m0 54v1m0 22v1m0 24v1m0 16v1m0 1v1m0 2v1m0 1v1m0 6v1m0 11v1m0 35v1m0 39v1m0 39v2m0 3v1m0 9v1m1-369v1m0 19v1m0 6v1m0 7v1m0 46v1m0 32v1m0 5v1m0 60v1m0 15v1m0 43v1m0 14v1m0 11v1m0 8v1m0 16v1m0 2v1m0 65v1m0 2v1m0 11v1m1-375v1m0 6v1m0 13v1m0 19v1m0 11v1m0 10v2m0 20v1m0 20v1m0 12v1m0 8v1m0 1v1m0 18v1m0 9v1m0 32v1m0 17v1m0 3v1m0 31v1m0 2v1m0 4v1m0 6v1m0 2v1m0 2v1m0 7v1m0 62v1m0 1v1m0 17v1m1-364v1m0 6v1m0 28v1m0 78v2m0 16v1m0 30v1m0 58v1m0 3v1m0 100v1m0 43v1m1-365v1m0 1v1m0 25v2m0 13v1m0 8v1m0 48v1m0 1v1m0 11v1m0 5v2m0 9v1m0 15v1m0 7v2m0 2v1m0 21v1m0 15v1m0 18v1m0 6v1m0 7v1m0 7v1m0 5v1m0 55v1m0 7v1m0 7v1m0 1v1m0 5v1m0 31v1m0 1v1m0 9v1m0 3v1m0 3v2m1-379v1m0 52v1m0 22v1m0 1v1m0 31v1m0 4v1m0 16v1m0 29v1m0 12v1m0 17v1m0 8v1m0 7v1m0 5v1m0 18v1m0 29v1m0 13v1m0 55v1m0 1v1m0 35v1m1-316v2m0 79v1m0 13v1m0 3v1m0 29v2m0 32v1m0 7v1m0 2v1m0 13v1m0 4v1m0 93v1m0 11v1m0 14v1m1-381v1m0 38v1m0 15v1m0 11v2m0 38v1m0 34v1m0 48v1m0 4v1m0 48v1m0 4v1m0 23v1m0 18v1m1-279v1m0 7v1m0 6v1m0 28v1m0 6v1m0 3v1m0 2v1m0 7v2m0 2v1m0 70v1m0 49v1m0 43v1m0 11v1m0 3v1m0 17v1m0 7v1m0 5v1m0 30v2m0 10v1m1-333v1m0 2v1m0 52v1m0 2v1m0 76v2m0 11v1m0 2v1m0 5v1m0 3v1m0 35v1m0 16v1m0 8v1m0 49v1m0 32v1m0 12v1m0 8v1m0 3v1m1-339v1m0 4v2m0 39v1m0 39v1m0 5v1m0 10v1m0 8v2m0 13v1m0 41v1m0 11v1m0 50v1m0 24v1m0 2v1m0 44v1m0 27v1m0 17v1m0 31v1m1-390v1m0 5v1m0 14v1m0 2v1m0 30v1m0 1v1m0 9v1m0 6v1m0 1v1m0 44v1m0 11v1m0 4v1m0 1v1m0 20v1m0 10v1m0 14v1m0 20v1m0 2v1m0 19v1m0 32v1m0 29v1m0 4v1m0 1v1m0 2v1m0 3v1m0 10v1m0 26v1m0 12v1m0 24v1m1-383v1m0 12v1m0 12v1m0 2v1m0 11v1m0 1v2m0 3v1m0 6v1m0 4v1m0 7v1m0 27v1m0 81v1m0 26v1m0 19v1m0 20v1m0 13v1m0 21v1m0 22v1m0 27v1m0 14v2m0 25v1m0 4v1m1-377v2m0 49v1m0 3v1m0 11v1m0 19v1m0 1v1m0 9v1m0 5v1m0 32v1m0 9v1m0 13v1m0 23v2m0 6v1m0 64v1m0 3v1m0 4v1m0 22v1m0 4v1m0 11v1m0 13v1m0 3v1m0 33v1m0 7v1m0 6v1m1-302v2m0 14v1m0 26v1m0 61v1m0 4v1m0 30v1m0 16v1m0 14v1m0 22v1m0 49v1m0 8v1m0 15v1m0 11v1m0 25v1m1-370v1m0 51v1m0 15v1m0 14v1m0 57v3m0 23v1m0 5v1m0 12v1m0 19v1m0 97v1m0 41v1m0 16v1m1-369v1m0 40v1m0 50v1m0 6v1m0 30v1m0 9v1m0 8v1m0 21v1m0 38v1m0 4v1m0 40v1m0 21v2m0 13v1m0 1v1m0 28v1m0 25v1m1-366v1m0 2v1m0 33v1m0 33v1m0 2v1m0 17v1m0 4v1m0 4v1m0 1v1m0 2v1m0 10v2m0 42v1m0 7v1m0 89v1m0 49v1m1-266v1m0 1v1m0 8v1m0 59v1m0 3v3m0 7v1m0 31v1m0 26v1m0 1v1m0 18v1m0 21v1m0 1v1m0 4v1m0 18v1m0 26v1m0 41v1m0 4v2m0 4v1m0 31v2m0 8v1m1-341v1m0 29v1m0 1v1m0 3v1m0 8v1m0 11v2m0 29v1m0 11v1m0 20v1m0 9v1m0 17v1m0 5v1m0 35v2m0 43v1m0 1v2m0 14v1m0 34v1m0 18v1m0 11v2m0 6v1m0 11v1m0 1v1m1-307v1m0 82v1m0 127v1m0 56v1m0 7v1m0 12v1m1-356v1m0 4v1m0 5v1m0 1v1m0 1v1m0 83v1m0 6v1m0 17v1m0 19v1m0 5v1m0 2v1m0 17v1m0 41v1m0 16v1m0 6v1m0 10v1m0 6v1m0 24v1m0 9v1m0 50v1m0 10v1m0 13v1m1-365v1m0 19v1m0 10v1m0 11v1m0 33v1m0 1v1m0 10v1m0 9v1m0 1v1m0 2v1m0 1v1m0 2v1m0 33v1m0 1v1m0 44v2m0 23v1m0 31v1m0 11v1m0 19v1m0 8v1m0 4v1m0 7v1m0 36v1m0 21v1m0 13v1m1-370v1m0 11v1m0 15v1m0 36v1m0 8v1m0 40v1m0 3v1m0 30v1m0 14v1m0 16v1m0 53v1m0 12v1m0 91v1m0 29v1m1-378v1m0 28v1m0 12v1m0 8v1m0 53v1m0 8v1m0 31v1m0 6v1m0 12v1m0 30v2m0 21v1m0 4v1m0 5v1m0 3v1m0 44v1m0 14v1m0 23v1m0 15v1m0 9v1m0 8v1m0 5v1m1-368v1m0 61v1m0 31v1m0 54v1m0 32v1m0 121v1m0 17v1m0 16v1m0 23v1m0 7v1m1-367v1m0 13v1m0 15v1m0 2v1m0 11v1m0 46v1m0 1v1m0 1v1m0 14v1m0 9v1m0 4v1m0 8v1m0 6v1m0 22v1m0 22v1m0 27v1m0 8v1m0 8v1m0 35v1m0 49v1m0 6v1m1-245v1m0 7v1m0 5v2m0 55v1m0 6v1m0 7v1m0 1v1m0 3v1m0 68v1m0 27v1m0 65v1m0 14v1m0 1v1m0 14v1m1-341v1m0 6v1m0 1v1m0 93v1m0 36v1m0 19v1m0 16v1m0 49v1m0 6v1m1-258v1m0 4v1m0 8v1m0 32v1m0 34v1m0 2v1m0 1v2m0 19v1m0 6v1m0 7v1m0 22v1m0 7v1m0 30v1m0 18v1m0 45v1m0 3v1m0 35v1m0 3v1m0 1v1m0 9v1m0 7v1m0 6v1m0 26v1m0 1v1m1-359v1m0 12v1m0 16v1m0 35v1m0 24v1m0 35v1m0 7v1m0 12v1m0 18v1m0 26v1m0 14v1m0 35v1m0 8v1m0 24v1m0 4v1m0 29v1m0 6v1m0 18v1m0 19v1m0 16v1m1-380v1m0 19v1m0 7v1m0 15v1m0 27v1m0 26v1m0 11v1m0 10v1m0 6v1m0 7v1m0 4v1m0 18v1m0 8v1m0 50v1m0 14v1m0 19v1m0 11v1m0 40v1m0 10v1m0 28v1m1-315v1m0 18v1m0 4v1m0 3v1m0 8v1m0 12v1m0 59v1m0 69v1m0 9v1m0 109v2m0 6v1m0 29v2m0 3v1m1-383v1m0 36v1m0 15v1m0 7v1m0 62v1m0 16v1m0 8v1m0 45v1m0 28v1m0 83v1m0 4v1m0 22v1m0 45v1m1-347v1m0 7v1m0 6v1m0 48v1m0 3v1m0 8v1m0 13v1m0 25v1m0 5v1m0 1v1m0 6v1m0 7v1m0 2v1m0 25v1m0 1v1m0 10v1m0 17v1m0 12v1m0 2v1m0 106v1m0 2v1m0 18v1m0 1v1m1-386v1m0 3v1m0 20v1m0 8v1m0 16v1m0 4v1m0 5v1m0 4v1m0 9v1m0 102v1m0 13v1m0 6v1m0 28v1m0 15v1m0 8v1m0 29v1m0 13v2m0 24v1m0 21v1m0 8v1m0 10v1m0 5v1m1-376v2m0 62v2m0 36v1m0 60v1m0 97v1m0 42v1m0 2v1m0 8v1m0 26v1m0 3v1m0 6v1m1-321v1m0 49v1m0 6v2m0 8v1m0 1v2m0 55v1m0 1v1m0 9v1m0 12v1m0 9v1m0 1v2m0 5v1m0 22v1m0 1v1m0 11v1m0 16v1m0 26v1m0 1v1m0 11v1m0 83v1m1-359v1m0 44v1m0 61v1m0 9v1m0 1v1m0 24v1m0 70v1m0 2v1m0 10v1m0 19v1m0 22v1m0 7v1m0 41v1m0 12v1m0 8v1m1-359v1m0 32v1m0 21v2m0 19v1m0 51v1m0 1v1m0 9v1m0 18v1m0 23v1m0 18v1m0 1v1m0 10v1m0 20v1m0 25v1m0 22v1m0 6v1m0 1v1m0 27v1m0 19v1m0 7v1m0 4v1m1-365v1m0 10v1m0 11v1m0 3v1m0 10v1m0 1v1m0 27v1m0 13v1m0 32v1m0 22v1m0 1v1m0 3v1m0 27v1m0 10v1m0 7v1m0 4v1m0 3v1m0 49v1m0 15v1m0 20v1m0 14v1m0 6v1m0 24v1m0 9v1m0 6v1m1-350v1m0 7v1m0 20v1m0 26v1m0 23v2m0 18v1m0 4v1m0 24v1m0 13v1m0 8v1m0 16v2m0 22v1m0 76v1m0 7v1m0 15v1m0 12v1m0 30v1m0 3v1m1-341v1m0 61v1m0 19v1m0 39v1m0 16v1m0 26v1m0 20v1m0 3v1m0 6v1m0 13v1m0 10v1m0 1v1m0 11v1m0 26v1m0 41v1m0 1v1m0 37v1m0 26v1m1-379v1m0 35v1m0 6v1m0 6v1m0 2v1m0 15v1m0 82v1m0 8v1m0 5v1m0 1v1m0 69v1m0 48v1m0 9v1m0 50v1m0 27v2m0 5v1m1-361v1m0 15v1m0 12v1m0 25v1m0 30v1m0 8v1m0 38v1m0 4v1m0 16v1m0 4v1m0 38v1m0 7v1m0 22v1m0 23v1m0 60v1m0 32v1m0 9v1m1-372v1m0 31v1m0 5v1m0 67v1m0 17v1m0 2v1m0 22v1m0 31v1m0 10v1m0 79v1m0 57v1m0 12v1m0 23v1m1-371v1m0 92v1m0 8v1m0 32v1m0 12v1m0 22v1m0 14v1m0 29v1m0 3v1m0 28v1m0 17v1m0 15v1m0 28v1m0 15v1m0 6v1m0 2v1m0 2v2m0 30v1m1-336v1m0 8v1m0 19v1m0 21v1m0 53v1m0 8v1m0 28v1m0 5v1m0 38v1m0 31v1m0 19v1m0 4v1m0 65v1m0 27v1m1-381v1m0 41v1m0 33v2m0 47v1m0 36v1m0 2v1m0 2v1m0 3v1m0 1v1m0 8v1m0 10v1m0 6v1m0 18v1m0 8v1m0 11v1m0 10v1m0 6v1m0 7v2m0 7v1m0 4v1m0 24v1m0 32v1m0 13v2m0 14v1m0 3v1m1-367v2m0 13v1m0 17v1m0 11v1m0 10v1m0 39v1m0 30v1m0 57v1m0 3v1m0 19v1m0 24v1m0 15v1m0 7v1m0 48v1m0 14v1m0 22v1m0 3v1m1-338v1m0 22v1m0 39v1m0 8v1m0 7v1m0 21v1m0 3v1m0 13v2m0 4v1m0 5v1m0 39v1m0 19v1m0 12v1m0 5v1m0 32v1m0 11v1m0 6v2m0 15v1m0 24v1m0 17v1m0 36v1m1-384v1m0 8v1m0 13v1m0 26v1m0 15v2m0 14v2m0 1v1m0 51v1m0 9v1m0 6v1m0 27v1m0 23v1m0 6v1m0 14v1m0 5v1m0 2v1m0 3v1m0 9v1m0 19v1m0 42v1m0 5v3m0 31v1m0 10v1m0 2v1m0 6v1m1-380v1m0 3v1m0 27v1m0 1v1m0 4v1m0 5v1m0 2v1m0 51v1m0 4v2m0 5v1m0 4v1m0 1v1m0 30v1m0 12v1m0 23v1m0 2v1m0 7v1m0 8v1m0 19v1m0 29v1m0 39v1m0 1v1m0 6v1m0 4v1m0 15v1m0 20v1m0 5v1m0 16v1m0 4v1m1-335v1m0 13v1m0 16v1m0 22v1m0 62v1m0 58v2m0 58v1m0 34v1m0 2v1m0 1v1m0 23v1m0 4v1m1-342v1m0 49v1m0 1v1m0 6v1m0 20v1m0 41v1m0 38v1m0 3v1m0 10v1m0 86v1m0 32v1m0 11v1m0 7v1m0 14v1m0 19v1m0 17v1m0 13v1m1-391v1m0 1v1m0 2v1m0 20v1m0 6v1m0 10v1m0 5v1m0 7v1m0 5v1m0 3v1m0 4v1m0 12v1m0 11v1m0 4v1m0 27v1m0 14v1m0 5v1m0 17v1m0 5v1m0 5v1m0 15v1m0 25v1m0 11v1m0 14v1m0 10v1m0 9v1m0 3v1m0 9v1m0 6v1m0 3v1m0 3v1m0 5v1m0 20v1m0 20v1m0 11v1m0 9v1m0 7v1m0 1v1m1-354v1m0 19v1m0 10v1m0 11v1m0 4v1m0 2v1m0 17v1m0 9v1m0 4v1m0 15v1m0 19v2m0 6v1m0 42v1m0 21v1m0 4v1m0 20v1m0 87v1m0 18v1m1-354v1m0 8v1m0 23v1m0 5v1m0 17v1m0 28v2m0 35v1m0 3v1m0 20v1m0 1v1m0 11v1m0 8v1m0 10v1m0 9v2m0 15v1m0 28v1m0 2v1m0 7v1m0 30v1m0 11v1m0 2v1m0 26v1m0 2v1m0 3v1m0 5v1m0 10v1m0 19v1m0 8v1m0 9v1m1-385v1m0 4v1m0 16v2m0 13v2m0 1v1m0 15v1m0 51v1m0 16v1m0 8v1m0 4v1m0 11v1m0 2v1m0 4v1m0 32v1m0 6v1m0 5v2m0 9v1m0 10v1m0 18v1m0 11v1m0 5v1m0 61v1m0 8v1m0 24v1m1-357v1m0 3v1m0 5v1m0 28v1m0 1v1m0 1v1m0 35v1m0 33v1m0 3v1m0 80v1m0 27v1m0 117v1m0 10v1m1-361v1m0 127v1m0 4v1m0 5v1m0 31v1m0 16v1m0 4v1m0 3v1m0 42v1m0 33v1m0 9v1m0 6v1m0 10v1m0 2v1m0 55v1m0 9v1m0 1v2m0 5v1m1-365v1m0 28v1m0 7v1m0 52v1m0 34v1m0 19v1m0 1v1m0 11v1m0 10v1m0 3v1m0 27v1m0 23v1m0 1v1m0 2v1m0 27v1m0 4v1m0 3v1m0 62v1m0 41v1m1-336v1m0 49v1m0 13v3m0 9v1m0 1v1m0 34v1m0 5v2m0 4v1m0 54v1m0 37v1m0 69v1m0 25v1m1-364v1m0 25v1m0 9v1m0 19v1m0 3v1m0 22v2m0 16v1m0 30v1m0 36v2m0 80v1m0 5v1m0 48v1m0 16v1m0 11v1m0 11v1m0 13v1m0 4v1m1-347v1m0 23v1m0 1v1m0 39v1m0 11v1m0 15v1m0 50v1m0 40v1m0 1v1m0 17v1m0 2v1m0 14v1m0 5v1m0 2v1m0 23v1m0 3v1m0 13v1m0 4v1m0 39v1m0 17v1m0 6v1m1-359v1m0 2v1m0 11v1m0 15v1m0 31v1m0 31v1m0 14v2m0 30v1m0 21v1m0 31v1m0 4v1m0 16v1m0 2v1m0 55v1m0 8v1m0 8v1m0 80v1m1-385v1m0 7v1m0 23v1m0 11v1m0 26v1m0 10v1m0 5v1m0 5v1m0 38v1m0 17v1m0 4v1m0 6v1m0 16v1m0 4v1m0 16v1m0 8v1m0 44v1m0 5v1m0 14v1m0 35v1m0 3v1m0 6v1m0 58v1m1-388v1m0 55v1m0 33v1m0 11v1m0 3v1m0 22v1m0 36v1m0 11v1m0 11v1m0 20v1m0 43v1m0 5v1m0 23v1m0 2v1m0 37v1m0 6v1m0 19v1m0 13v1m1-354v1m0 3v1m0 18v1m0 14v1m0 15v1m0 7v1m0 8v1m0 3v1m0 17v1m0 13v1m0 23v1m0 16v1m0 23v1m0 3v1m0 70v1m0 4v1m0 1v1m0 14v2m0 3v2m0 10v1m0 27v1m1-325v1m0 7v1m0 9v1m0 26v1m0 5v1m0 47v1m0 13v1m0 10v1m0 26v1m0 14v1m0 4v1m0 7v1m0 25v1m0 2v1m0 39v1m0 7v1m0 6v1m0 5v1m0 1v1m0 6v1m0 1v1m0 4v1m0 14v1m0 2v1m0 14v1m0 36v1m0 22v1m2-381v1m0 15v1m0 38v1m0 4v1m0 8v1m0 16v1m0 11v1m0 4v2m0 42v1m0 6v1m0 25v1m0 7v1m0 17v1m0 3v1m0 8v1m0 26v1m0 40v1m0 3v1m0 50v1m0 7v1m0 23v1m0 9v1m0 1v1m2-365v1m0 13v1m0 28v1m0 54v1m0 22v1m0 12v1m0 10v2m0 70v1m0 33v1m0 5v1m0 23v1m0 12v1m0 7v1m0 5v1m0 4v1m0 18v1m0 11v1m0 20v1m2-331v1m0 28v1m0 24v1m0 7v1m0 4v1m0 18v1m0 9v1m0 21v1m0 5v1m0 3v1m0 7v1m0 36v1m0 10v1m0 14v1m0 4v1m0 19v1m0 2v1m0 5v1m0 60v1m0 11v1m2-356v1m0 12v1m0 4v1m0 30v1m0 6v2m0 7v1m0 33v1m0 4v1m0 19v1m0 5v1m0 5v1m0 23v1m0 3v1m0 12v1m0 8v1m0 58v1m0 5v1m0 21v1m0 24v1m0 24v1m0 13v1m0 4v1m0 4v1m0 11v1m2-369v1m0 6v1m0 49v1m0 7v1m0 7v1m0 35v1m0 20v1m0 53v1m0 17v1m0 16v1m0 6v2m0 9v1m0 15v1m0 75v1m0 7v1m0 8v1m0 13v1m2-362v1m0 25v1m0 4v1m0 4v2m0 10v1m0 6v1m0 30v1m0 18v1m0 7v1m0 15v1m0 8v2m0 7v1m0 30v1m0 82v1m0 21v1m0 11v1m0 3v1m0 24v1m0 19v1m0 5v1m0 5v1m2-351v1m0 3v1m0 3v1m0 10v1m0 19v1m0 31v1m0 19v1m0 22v1m0 20v1m0 1v1m0 1v1m0 11v1m0 14v1m0 1v1m0 9v1m0 1v1m0 7v1m0 29v1m0 19v2m0 1v1m0 4v1m0 15v1m0 22v1m0 8v1m0 12v1m0 17v1m0 21v1m0 14v1m0 4v1m0 1v1m5-374v2m0 41v1m0 13v1m0 15v1m0 24v1m0 9v1m0 2v1m0 5v1m0 53v1m0 36v1m0 10v1m0 5v1m0 47v1m0 19v1m0 4v1m0 3v1m0 5v1m0 65v1m0 8v1m5-371v1m0 9v1m0 13v1m0 11v1m0 122v1m0 7v1m0 5v1m0 9v1m0 31v1m0 41v1m0 5v1m0 10v1m0 5v1m0 13v1m0 9v1m0 32v1m0 20v1m5-362v1m0 33v1m0 20v1m0 9v1m0 4v1m0 15v1m0 33v1m0 9v1m0 48v1m0 6v1m0 25v1m0 34v1m0 22v1m0 11v1m0 11v1m0 6v1m0 3v1m0 5v1m0 11v1m0 28v1m0 4v1m0 10v1m5-363v1m0 5v1m0 16v1m0 12v1m0 22v1m0 11v1m0 62v1m0 11v1m0 35v1m0 6v1m0 4v1m0 20v1m0 27v1m0 9v1m0 14v1m0 30v1m0 33v1m0 3v1m0 27v1m0 3v2m5-387v1m0 4v1m0 19v1m0 151v1m0 28v1m0 15v1m0 37v1m0 25v1m0 61v1m0 36v2m5-383v1m0 2v1m0 18v1m0 7v1m0 28v1m0 7v1m0 8v1m0 47v2m0 27v1m0 19v1m0 27v1m0 10v1m0 6v2m0 4v1m0 16v1m0 73v1m0 24v1m0 2v1m0 9v1m0 11v1m0 13v1"/>
<path stroke="#481f70" d="M0 16v1m0 29v1m0 8v1m0 25v1m0 12v1m0 7v1m0 4v1m0 42v1m0 35v1m0 9v1m0 3v1m0 23v1m0 6v1m0 48v1m0 7v1m0 87v1m0 15v1m1-386v2m0 29v1m0 3v1m0 34v2m0 2v2m0 30v1m0 22v1m0 21v1m0 7v1m0 22v1m0 21v1m0 5v1m0 2v1m0 31v1m0 2v1m0 39v1m0 3v1m0 12v1m0 39v1m0 4v1m0 16v1m0 10v1m0 5v1m0 1v1m1-388v1m0 2v1m0 8v1m0 13v1m0 2v1m0 17v1m0 25v1m0 5v2m0 10v1m0 27v1m0 22v1m0 17v1m0 49v1m0 3v1m0 11v1m0 32v1m0 24v1m0 21v1m0 16v1m0 5v1m0 10v1m0 5v1m0 33v1m0 1v1m1-358v1m0 27v1m0 10v1m0 36v1m0 7v1m0 16v1m0 1v1m0 4v1m0 65v1m0 1v1m0 52v1m0 128v1m1-362v1m0 42v1m0 7v1m0 5v1m0 38v2m0 17v1m0 8v2m0 15v1m0 9v1m0 13v1m0 7v1m0 3v1m0 17v1m0 5v1m0 52v1m0 1v1m0 11v1m0 16v1m0 4v1m0 23v1m0 25v1m0 5v1m1-372v1m0 9v1m0 7v2m0 6v1m0 3v1m0 4v1m0 19v1m0 7v1m0 2v1m0 6v1m0 3v1m0 89v1m0 33v1m0 15v1m0 19v1m0 1v1m0 3v1m0 1v1m0 7v1m0 8v1m0 9v1m0 15v1m0 33v1m0 7v1m0 23v1m1-284v1m0 62v1m0 13v1m0 25v1m0 9v1m0 38v1m0 9v1m0 6v1m0 1v1m0 13v1m0 38v1m0 2v1m0 6v1m0 8v1m0 24v1m0 22v1m0 2v1m0 8v1m1-365v1m0 22v1m0 10v1m0 9v1m0 75v1m0 26v1m0 45v1m0 4v1m0 2v1m0 51v1m0 19v1m0 7v1m0 11v1m0 21v1m0 42v1m0 12v1m0 2v1m1-375v1m0 2v1m0 16v1m0 7v1m0 15v1m0 1v1m0 30v1m0 80v1m0 24v1m0 52v1m0 15v2m0 8v1m0 30v1m0 1v1m0 64v1m1-348v1m0 5v1m0 21v1m0 32v1m0 25v1m0 11v1m0 9v1m0 23v1m0 40v1m0 33v1m0 3v1m0 4v2m0 56v1m0 15v1m0 4v1m0 3v1m0 9v1m0 12v1m0 9v1m0 3v1m1-356v1m0 60v1m0 6v1m0 1v1m0 36v1m0 5v1m0 3v1m0 78v2m0 6v1m0 25v1m0 15v1m0 5v2m0 4v1m0 6v1m0 1v1m0 9v1m0 20v1m0 21v1m0 16v1m0 3v1m0 9v1m0 11v1m0 7v2m1-373v1m0 58v1m0 58v1m0 148v1m0 5v1m0 2v1m0 4v1m0 80v1m0 2v1m0 8v1m1-347v1m0 9v1m0 7v2m0 21v1m0 57v1m0 4v1m0 127v1m0 6v1m0 34v1m0 36v1m0 3v1m0 2v1m0 35v1m1-296v1m0 14v1m0 3v1m0 3v1m0 28v1m0 34v1m0 2v1m0 1v1m0 7v1m0 36v1m0 10v1m0 2v1m0 1v1m0 12v1m0 3v1m0 11v1m0 3v1m0 1v1m0 11v1m0 65v1m0 14v1m0 2v1m1-377v1m0 67v2m0 47v1m0 4v1m0 1v1m0 7v1m0 1v1m0 19v1m0 30v1m0 6v1m0 12v1m0 67v1m0 1v1m0 8v1m0 9v1m0 9v1m0 5v1m0 18v1m0 1v1m0 13v1m0 12v1m0 27v1m1-349v1m0 31v1m0 18v1m0 1v1m0 45v1m0 14v1m0 46v1m0 7v1m0 17v1m0 27v1m0 23v1m0 30v1m0 3v1m0 5v1m0 15v1m0 15v1m0 1v1m1-329v1m0 1v1m0 38v1m0 18v1m0 54v1m0 10v1m0 33v1m0 48v1m0 114v1m0 34v1m1-374v1m0 61v1m0 71v1m0 12v1m0 31v1m0 30v1m0 10v1m0 49v1m0 22v1m0 6v1m0 47v1m0 8v1m1-365v1m0 14v1m0 21v2m0 16v1m0 4v1m0 13v1m0 126v2m0 28v1m0 22v1m0 2v1m0 9v1m0 16v1m0 4v1m0 13v1m0 1v1m0 4v1m0 33v1m0 19v1m1-360v1m0 27v1m0 20v1m0 32v1m0 7v1m0 15v1m0 5v1m0 15v1m0 39v1m0 29v1m0 5v1m0 22v1m0 24v1m0 9v1m0 8v1m0 34v1m0 22v1m0 40v1m1-378v2m0 40v1m0 30v1m0 20v1m0 23v1m0 11v1m0 53v1m0 6v1m0 50v1m0 11v1m0 57v1m0 1v2m0 9v1m0 5v1m1-305v1m0 105v1m0 7v1m0 45v1m0 25v1m0 4v1m0 5v1m0 6v1m0 20v1m0 7v1m0 43v1m0 28v1m0 29v1m1-365v2m0 23v1m0 2v2m0 3v1m0 8v1m0 14v1m0 1v1m0 72v1m0 1v1m0 21v1m0 26v1m0 6v1m0 18v1m0 8v1m0 6v1m0 5v1m0 16v1m0 62v1m0 4v1m0 22v1m0 5v1m0 18v1m0 16v1m1-372v1m0 21v1m0 13v1m0 13v1m0 26v1m0 23v1m0 4v1m0 5v1m0 7v1m0 12v1m0 7v1m0 23v1m0 2v1m0 50v1m0 5v1m0 23v1m0 36v1m0 40v1m0 16v1m0 13v1m0 5v1m1-373v1m0 12v1m0 43v1m0 61v1m0 27v1m0 19v1m0 19v1m0 10v1m0 3v1m0 13v2m0 9v1m0 3v1m0 10v1m0 4v1m0 9v1m0 37v1m0 1v1m0 7v2m0 2v1m0 29v1m1-272v1m0 43v1m0 1v1m0 238v1m1-331v1m0 9v2m0 60v1m0 6v1m0 2v1m0 5v1m0 38v1m0 81v1m0 15v1m0 78v1m0 47v1m1-378v1m0 36v1m0 25v1m0 1v2m0 5v1m0 8v1m0 15v1m0 21v1m0 20v1m0 59v1m0 11v1m0 6v1m0 17v1m0 6v1m0 15v1m0 1v1m0 10v1m0 10v1m0 5v1m0 14v1m0 34v1m1-345v1m0 21v2m0 21v1m0 22v1m0 37v1m0 3v1m0 23v1m0 22v1m0 17v1m0 11v1m0 3v1m0 5v1m0 50v1m0 53v1m0 23v1m0 4v1m0 6v1m0 5v1m0 12v1m1-340v1m0 17v1m0 7v2m0 19v1m0 21v2m0 6v1m0 11v1m0 19v1m0 4v1m0 17v1m0 26v2m0 13v1m0 20v1m0 3v1m0 47v1m0 39v1m0 21v1m0 30v2m1-343v1m0 3v1m0 15v1m0 29v1m0 44v1m0 8v1m0 18v1m0 46v1m0 3v1m0 9v1m0 52v1m0 7v1m0 12v1m0 47v1m0 15v1m1-302v1m0 9v1m0 25v1m0 7v1m0 5v1m0 3v1m0 21v1m0 14v1m0 15v1m0 12v1m0 5v1m0 44v1m0 27v1m0 5v2m0 12v1m0 5v1m0 10v2m0 50v1m0 25v1m0 5v1m0 2v1m0 6v1m0 3v1m0 8v1m0 1v1m0 2v1m1-385v1m0 18v1m0 8v1m0 22v1m0 30v1m0 19v1m0 41v1m0 11v1m0 37v1m0 5v1m0 17v1m0 62v1m0 9v1m0 16v1m0 14v1m0 13v2m0 1v1m1-262v1m0 15v1m0 8v1m0 4v1m0 46v1m0 4v1m0 21v1m0 13v1m0 63v1m0 3v1m0 10v1m0 42v1m0 19v1m0 9v1m0 12v1m1-348v1m0 36v1m0 6v1m0 44v1m0 5v1m0 83v1m0 2v1m0 13v1m0 103v1m0 24v1m0 16v1m0 30v1m1-370v1m0 19v1m0 32v1m0 1v1m0 7v1m0 175v1m0 7v1m0 66v1m0 3v1m1-329v1m0 3v1m0 22v1m0 1v1m0 43v1m0 6v1m0 46v1m0 1v1m0 5v1m0 51v1m0 67v1m0 51v1m0 5v1m0 32v1m0 8v1m1-360v1m0 20v1m0 63v1m0 12v1m0 17v1m0 104v1m0 36v1m0 5v1m0 16v1m0 7v1m0 7v1m0 1v1m0 15v1m0 18v1m0 17v1m0 14v1m1-319v1m0 35v1m0 7v1m0 26v1m0 60v1m0 38v1m0 8v1m0 39v1m1-263v1m0 1v1m0 19v1m0 11v1m0 1v1m0 9v1m0 16v1m0 5v1m0 8v1m0 40v1m0 29v1m0 26v1m0 30v1m0 3v1m0 30v1m0 2v1m0 30v1m0 4v1m0 7v1m0 5v1m0 60v1m1-341v1m0 23v1m0 36v1m0 1v1m0 1v1m0 33v1m0 2v1m0 14v1m0 30v2m0 11v1m0 39v1m0 75v1m1-269v1m0 7v1m0 11v1m0 11v1m0 17v2m0 15v1m0 33v1m0 4v1m0 15v1m0 34v1m0 14v2m0 11v1m0 115v1m0 10v1m0 34v1m1-383v2m0 59v1m0 31v1m0 6v1m0 4v1m0 5v1m0 60v1m0 22v1m0 10v1m0 30v1m0 32v1m0 87v1m0 13v1m1-374v1m0 22v1m0 21v1m0 1v1m0 31v1m0 71v1m0 1v1m0 26v1m0 6v1m0 19v1m0 11v1m0 42v1m0 77v1m0 1v1m0 17v1m1-345v1m0 39v1m0 108v1m0 14v1m0 107v1m0 68v1m0 1v1m1-315v1m0 28v1m0 42v1m0 4v1m0 57v1m0 2v1m0 37v1m0 3v1m0 28v1m0 25v1m0 52v1m0 9v1m0 7v1m0 21v1m0 6v1m0 6v1m1-383v1m0 8v1m0 12v1m0 56v1m0 18v1m0 13v1m0 13v1m0 1v1m0 2v1m0 25v1m0 25v1m0 73v1m0 45v1m0 7v1m0 10v1m0 10v1m0 5v1m0 9v1m1-267v1m0 14v1m0 51v1m0 18v1m0 46v1m0 42v1m0 41v1m0 46v1m1-347v1m0 27v1m0 7v1m0 14v1m0 15v2m0 6v1m0 2v1m0 97v1m0 17v1m0 134v1m0 2v1m0 30v1m1-373v1m0 3v1m0 2v1m0 45v1m0 29v1m0 35v1m0 13v1m0 70v1m0 17v1m0 33v1m0 25v1m0 39v1m0 24v1m0 17v1m1-343v1m0 34v1m0 4v1m0 24v1m0 1v1m0 35v1m0 70v1m0 7v1m0 26v1m0 15v1m0 3v1m0 27v1m0 10v1m0 7v1m0 14v1m0 23v1m0 27v1m0 2v1m1-352v1m0 16v1m0 6v1m0 46v1m0 60v1m0 125v1m0 12v1m0 16v1m0 38v1m0 25v1m1-360v1m0 10v1m0 1v1m0 7v1m0 31v1m0 58v1m0 62v1m0 15v1m0 113v1m0 36v1m0 30v1m1-220v1m0 115v1m0 18v1m0 1v1m1-297v1m0 19v1m0 25v1m0 31v1m0 95v1m0 15v1m0 28v1m0 68v1m0 32v1m0 17v1m0 37v1m1-349v1m0 11v1m0 21v1m0 24v1m0 111v1m0 9v1m0 23v1m0 7v1m0 13v1m0 9v1m0 2v1m0 16v2m0 1v1m0 31v1m0 29v1m1-359v1m0 35v1m0 10v2m0 13v1m0 13v1m0 5v1m0 3v1m0 31v2m0 6v1m0 32v1m0 6v1m0 22v1m0 1v1m0 4v1m0 37v1m0 2v1m0 2v1m0 9v1m0 1v1m0 2v1m0 2v1m0 4v1m0 3v2m0 38v1m0 5v1m0 27v1m0 3v1m0 11v1m0 17v1m1-280v1m0 208v1m0 57v1m1-365v1m0 38v1m0 4v1m0 8v1m0 28v1m0 18v1m0 9v1m0 33v1m0 6v1m0 6v1m0 2v1m0 2v1m0 68v1m0 42v1m0 1v1m0 1v1m0 29v1m0 3v1m0 7v1m0 4v1m0 15v1m0 8v1m0 5v1m1-338v2m0 5v1m0 34v1m0 25v1m0 25v1m0 1v1m0 15v1m0 6v1m0 28v1m0 22v1m0 14v1m0 59v1m0 21v1m0 6v1m0 68v1m1-344v1m0 26v2m0 49v1m0 25v1m0 12v1m0 7v1m0 100v1m0 52v1m0 10v1m0 39v1m0 15v1m0 13v1m1-331v1m0 20v1m0 47v1m0 48v1m0 10v1m0 20v1m0 20v1m0 35v1m0 19v1m0 16v1m0 15v1m0 31v1m0 25v1m0 9v1m1-312v1m0 30v1m0 11v1m0 1v1m0 8v1m0 1v1m0 114v1m0 49v1m0 16v1m0 14v1m0 11v1m0 14v1m0 14v1m0 19v2m1-365v1m0 22v1m0 2v1m0 21v1m0 6v1m0 4v1m0 36v1m0 9v1m0 58v1m0 13v1m0 53v2m0 11v1m0 16v1m0 8v1m0 15v1m0 21v1m0 19v1m0 6v1m0 2v1m0 2v1m1-349v1m0 7v1m0 63v1m0 99v1m0 17v1m0 81v1m0 41v1m1-313v1m0 6v1m0 201v1m0 86v1m0 26v1m0 10v1m0 31v1m1-383v1m0 10v1m0 3v1m0 9v1m0 14v1m0 5v1m0 1v1m0 6v1m0 28v1m0 8v1m0 18v1m0 5v1m0 15v1m0 6v1m0 13v1m0 22v1m0 43v1m0 9v1m0 9v1m0 16v1m0 8v1m0 42v1m0 24v1m0 3v1m0 25v1m0 14v1m1-329v1m0 1v1m0 9v1m0 9v1m0 22v1m0 34v1m0 3v1m0 3v1m0 31v1m0 5v1m0 30v1m0 10v1m0 13v1m0 16v1m0 9v1m0 29v1m0 5v1m0 21v1m0 1v1m0 38v1m0 23v1m1-381v1m0 9v1m0 13v1m0 21v1m0 10v1m0 7v1m0 41v1m0 5v1m0 2v1m0 20v1m0 16v1m0 11v1m0 9v1m0 16v1m0 2v1m0 32v1m0 17v1m0 7v1m0 32v1m0 32v1m0 4v1m0 34v1m0 1v1m1-372v1m0 18v1m0 10v1m0 97v2m0 19v1m0 8v1m0 26v1m0 2v1m0 2v1m0 25v1m0 1v1m0 12v1m0 5v1m0 21v1m0 9v1m0 16v1m0 29v1m0 1v1m0 20v1m0 22v1m1-333v1m0 37v2m0 17v1m0 4v1m0 4v1m0 5v1m0 8v2m0 18v1m0 52v1m0 32v1m0 5v1m0 14v1m0 17v1m0 51v1m0 33v1m1-340v1m0 66v1m0 37v1m0 42v1m0 51v1m0 5v1m0 7v1m0 11v1m0 10v1m0 4v1m0 130v1m1-341v1m0 20v1m0 59v1m0 30v1m0 12v1m0 2v1m0 4v1m0 1v1m0 36v1m0 4v2m0 19v1m0 25v1m0 2v1m0 55v1m0 13v1m0 24v1m0 19v1m1-307v1m0 67v1m0 40v1m0 54v1m0 45v1m0 8v2m1-268v1m0 19v2m0 49v1m0 5v1m0 8v1m0 38v1m0 7v1m0 25v1m0 4v1m0 8v1m0 4v1m0 21v1m0 54v1m0 25v1m0 54v1m0 9v1m0 13v1m1-330v1m0 6v1m0 30v1m0 1v1m0 4v1m0 24v1m0 28v1m0 5v1m0 6v1m0 39v1m0 22v1m0 27v1m0 16v1m0 84v1m0 15v1m1-377v1m0 34v1m0 9v1m0 19v1m0 5v1m0 6v2m0 39v1m0 3v1m0 24v1m0 28v1m0 29v1m0 40v1m0 59v1m0 8v1m0 3v1m0 13v1m0 3v1m0 3v1m0 1v1m0 18v1m1-358v1m0 31v1m0 2v1m0 52v1m0 5v1m0 8v1m0 3v1m0 14v1m0 13v1m0 29v1m0 6v1m0 1v1m0 1v1m0 30v1m0 31v1m0 4v1m0 81v1m0 37v1m1-359v1m0 42v1m0 2v1m0 41v1m0 6v1m0 14v1m0 32v1m0 19v1m0 4v1m0 7v1m0 57v2m0 9v1m0 6v1m0 2v1m0 23v1m0 16v1m0 16v1m0 10v1m0 6v1m0 39v1m1-358v1m0 68v1m0 66v1m0 51v1m0 14v1m0 28v1m0 8v1m0 78v1m1-333v1m0 80v1m0 57v1m0 32v2m0 26v2m0 1v2m0 13v1m0 66v1m0 13v1m0 64v1m1-317v1m0 7v1m0 39v1m0 45v1m0 74v1m0 21v1m0 30v1m0 35v1m0 5v1m0 7v2m1-325v1m0 76v1m0 13v1m0 4v1m0 22v1m0 31v1m0 39v1m0 44v1m0 30v2m0 48v1m1-321v1m0 34v1m0 10v1m0 6v1m0 16v1m0 21v1m0 47v1m0 4v1m0 36v1m0 20v1m0 6v1m0 31v1m0 34v1m0 8v1m0 5v1m0 14v1m1-254v1m0 40v1m0 36v1m0 29v1m0 33v1m0 95v2m0 21v1m0 23v1m0 1v1m1-351v1m0 2v1m0 1v1m0 10v1m0 47v1m0 11v1m0 17v1m0 10v1m0 28v1m0 4v2m0 9v1m0 22v1m0 18v1m0 10v1m0 17v1m0 37v1m0 28v1m0 38v1m0 19v1m0 5v1m1-355v1m0 1v1m0 43v1m0 19v1m0 14v1m0 13v1m0 27v1m0 5v1m0 1v1m0 8v1m0 6v1m0 3v1m0 1v1m0 59v1m0 31v1m0 10v1m0 40v1m0 20v1m0 8v1m0 3v1m0 22v1m0 25v1m1-381v1m0 90v1m0 23v1m0 18v1m0 1v1m0 30v1m0 7v1m0 72v1m0 23v1m0 6v1m0 6v1m0 4v2m0 8v1m0 24v2m0 5v1m0 3v2m0 2v1m0 4v1m0 5v1m1-357v1m0 14v1m0 30v1m0 5v1m0 12v1m0 2v1m0 1v1m0 60v1m0 29v1m0 9v1m0 44v1m0 35v1m0 31v1m0 7v1m0 19v1m0 24v1m0 7v1m0 41v1m1-363v1m0 33v1m0 7v1m0 11v1m0 2v1m0 9v1m0 2v1m0 8v2m0 25v1m0 2v1m0 14v2m0 9v1m0 10v1m0 10v2m0 35v1m0 19v1m0 5v1m0 8v1m0 42v1m0 7v1m0 36v1m0 23v1m0 4v1m1-369v1m0 52v1m0 70v1m0 15v1m0 2v1m0 32v1m0 12v1m0 9v1m0 12v1m0 35v1m0 90v1m0 15v1m1-333v1m0 51v1m0 13v1m0 11v1m0 29v1m0 75v1m0 20v1m0 29v1m0 27v1m0 39v1m0 21v1m1-339v1m0 3v1m0 58v1m0 2v1m0 1v1m0 26v1m0 42v1m0 37v1m0 6v1m0 5v1m0 36v1m0 1v1m0 11v1m0 4v1m0 24v1m0 35v1m0 35v1m0 6v1m0 25v1m1-380v1m0 45v1m0 1v1m0 55v1m0 19v1m0 8v1m0 38v1m0 27v1m0 4v1m0 20v1m0 15v1m0 17v1m0 33v1m0 16v1m0 26v1m0 23v1m1-352v1m0 17v2m0 8v1m0 60v2m0 4v1m0 17v1m0 21v1m0 59v1m0 22v1m0 4v1m0 39v1m0 5v1m0 1v1m0 48v1m0 22v1m0 9v1m1-364v1m0 7v1m0 1v1m0 5v1m0 5v1m0 1v1m0 29v1m0 2v1m0 16v1m0 12v1m0 21v1m0 2v1m0 16v1m0 88v1m0 11v1m0 17v1m0 8v1m0 113v1m0 2v1m0 2v1m1-362v1m0 4v1m0 47v1m0 11v1m0 25v1m0 11v1m0 8v1m0 2v1m0 26v1m0 1v1m0 38v1m0 58v1m0 68v1m0 36v1m0 11v1m1-382v1m0 20v1m0 1v1m0 43v1m0 24v1m0 1v1m0 96v1m0 6v1m0 1v1m0 33v1m0 24v1m0 1v1m0 42v1m0 5v1m0 70v1m1-379v1m0 50v1m0 5v1m0 10v1m0 9v1m0 25v1m0 50v1m0 11v1m0 16v1m0 11v1m0 21v1m0 4v1m0 41v1m0 9v1m0 26v1m0 3v1m0 9v1m0 14v1m0 1v1m0 30v1m0 10v1m1-374v1m0 14v1m0 17v1m0 1v1m0 1v1m0 47v1m0 1v2m0 5v1m0 22v1m0 2v1m0 107v1m0 17v1m0 45v1m0 7v1m0 29v1m0 9v1m1-341v1m0 12v1m0 34v1m0 2v1m0 10v1m0 49v1m0 3v1m0 3v1m0 3v1m0 5v1m0 2v1m0 2v1m0 12v1m0 9v1m0 19v1m0 53v2m0 27v1m0 69v1m0 32v1m0 9v1m1-366v1m0 23v1m0 12v2m0 9v1m0 9v1m0 10v1m0 26v1m0 29v1m0 36v2m0 68v1m0 15v1m0 2v1m0 15v1m0 29v1m0 15v1m0 20v1m0 23v1m1-357v1m0 15v1m0 1v1m0 15v1m0 67v1m0 7v1m0 8v1m0 41v1m0 86v1m0 14v1m0 72v1m1-343v1m0 23v1m0 29v2m0 23v1m0 26v1m0 11v1m0 18v1m0 4v1m0 7v1m0 10v2m0 6v1m0 46v1m0 1v1m0 9v1m0 29v1m0 14v1m0 6v1m0 9v1m0 18v1m0 3v1m0 1v1m0 32v2m0 11v1m1-313v1m0 68v1m0 53v1m0 124v1m0 9v1m0 57v2m0 2v1m1-386v1m0 22v1m0 30v1m0 7v1m0 9v1m0 94v1m0 53v1m0 5v1m0 7v1m0 65v1m0 23v1m0 16v1m0 35v1m1-348v1m0 25v1m0 10v1m0 8v1m0 17v1m0 23v2m0 20v1m0 29v1m0 1v1m0 21v1m0 3v1m0 15v1m0 7v1m0 17v1m0 41v1m0 10v1m0 35v1m0 3v1m0 35v1m2-359v1m0 78v1m0 2v1m0 36v1m0 4v1m0 31v1m0 90v1m0 112v1m2-337v1m0 9v1m0 19v1m0 32v1m0 13v1m0 10v1m0 6v1m0 4v2m0 15v1m0 2v1m0 21v1m0 182v1m0 18v1m0 4v1m2-377v1m0 27v1m0 4v1m0 21v1m0 71v1m0 10v2m0 3v1m0 51v1m0 7v1m0 10v1m0 14v1m0 13v2m0 5v1m0 60v1m0 6v1m0 39v1m0 8v1m2-348v1m0 2v1m0 1v1m0 71v1m0 30v1m0 3v1m0 17v1m0 22v1m0 38v1m0 71v1m0 12v2m0 4v1m0 37v1m2-337v1m0 45v1m0 10v1m0 27v1m0 65v1m0 18v1m0 23v1m0 35v1m0 18v1m0 24v1m0 13v1m0 46v1m0 1v1m0 16v1m2-315v1m0 27v1m0 20v1m0 6v1m0 55v1m0 5v1m0 11v1m0 18v1m0 5v1m0 2v1m0 1v1m0 2v1m0 27v1m0 18v1m0 50v1m0 18v1m0 34v1m2-354v1m0 93v1m0 110v1m0 12v1m0 15v1m0 9v1m0 41v1m0 31v1m0 29v1m5-345v1m0 1v1m0 40v1m0 27v1m0 71v1m0 50v1m0 50v1m0 20v1m0 18v1m0 17v1m0 4v1m0 34v1m5-253v1m0 46v1m0 68v1m0 5v1m0 43v1m0 75v1m0 13v1m0 13v1m5-366v1m0 5v1m0 20v1m0 4v1m0 5v1m0 3v1m0 14v2m0 31v1m0 4v2m0 1v1m0 5v1m0 36v1m0 5v1m0 16v1m0 9v1m0 2v1m0 13v1m0 17v1m0 16v1m0 52v1m0 4v1m0 18v1m0 13v1m0 27v1m5-320v1m0 57v1m0 13v1m0 44v1m0 28v1m0 37v1m0 4v1m0 5v1m0 54v1m0 20v1m0 46v1m0 19v1m5-381v1m0 42v1m0 11v1m0 24v1m0 37v1m0 4v1m0 50v1m0 16v1m0 2v1m0 12v1m0 10v1m0 24v1m0 54v1m0 24v1m0 21v1m5-302v1m0 22v1m0 40v1m0 6v1m0 4v1m0 11v1m0 11v1m0 6v1m0 16v1m0 33v1m0 47v1m0 42v1m0 3v1m0 10v1m0 34v1m0 17v1"/>
<path stroke="#482576" d="M0 45v1m0 10v1m0 11v1m0 3v1m0 3v1m0 13v2m0 21v1m0 4v1m0 41v2m0 1v1m0 1v1m0 8v1m0 9v1m0 9v1m0 46v1m0 2v1m0 9v1m0 7v1m0 7v1m0 1v1m0 51v1m0 19v1m0 12v1m0 1v1m0 43v1m1-382v1m0 26v1m0 7v1m0 3v2m0 62v1m0 11v1m0 23v1m0 1v1m0 19v1m0 45v1m0 53v1m0 12v1m0 47v1m0 3v1m0 7v1m0 46v1m1-383v1m0 20v1m0 87v1m0 20v1m0 20v1m0 14v1m0 17v1m0 24v1m0 3v1m0 27v1m0 5v1m0 17v1m0 61v1m0 6v2m0 10v1m0 11v1m0 14v1m1-391v1m0 2v1m0 15v2m0 91v1m0 12v1m0 7v2m0 2v1m0 11v1m0 2v1m0 4v1m0 24v1m0 126v1m0 15v1m0 5v1m0 15v1m0 11v1m0 4v1m0 25v1m1-393v1m0 24v1m0 10v1m0 8v1m0 12v1m0 1v1m0 18v1m0 18v1m0 8v1m0 44v1m0 91v1m0 4v1m0 17v1m0 74v1m0 8v1m0 25v1m1-346v1m0 59v1m0 31v1m0 61v1m0 21v1m0 5v1m0 52v1m0 3v1m0 54v1m0 22v1m1-347v1m0 47v1m0 21v1m0 24v1m0 26v1m0 61v1m0 38v1m0 51v1m0 57v1m0 22v1m0 20v1m1-376v1m0 20v1m0 54v1m0 125v1m0 26v1m0 20v1m0 18v1m0 71v1m0 32v1m0 3v1m1-376v1m0 33v1m0 38v1m0 58v1m0 47v1m0 41v1m0 15v1m0 86v1m0 16v1m0 36v1m1-383v1m0 9v1m0 25v1m0 15v1m0 38v1m0 2v1m0 58v1m0 11v1m0 26v1m0 12v1m0 1v1m0 9v1m0 26v1m0 2v3m0 10v1m0 24v1m0 39v2m0 33v1m0 11v1m1-355v1m0 20v1m0 26v1m0 98v2m0 11v1m0 17v1m0 53v1m0 4v1m0 56v1m0 56v1m0 16v1m1-348v1m0 31v1m0 23v1m0 19v1m0 1v1m0 9v1m0 76v1m0 13v1m0 1v1m0 4v1m0 52v1m0 5v1m0 4v1m0 42v1m0 8v1m0 3v1m0 27v1m0 8v1m0 3v1m1-387v1m0 33v1m0 24v1m0 13v1m0 38v1m0 56v1m0 4v1m0 26v2m0 48v1m0 6v1m0 5v1m0 56v1m0 23v1m0 5v1m0 5v1m0 17v1m1-342v1m0 26v1m0 36v1m0 3v1m0 12v1m0 27v1m0 6v1m0 1v1m0 4v1m0 11v1m0 44v1m0 6v1m0 20v1m0 24v1m0 24v1m0 11v1m0 4v1m0 3v1m0 48v1m0 2v1m0 9v1m0 3v1m1-302v2m0 49v1m0 1v1m0 63v1m0 59v1m0 12v1m0 13v1m0 60v1m0 15v1m0 4v1m0 19v1m1-316v1m0 4v1m0 32v1m0 15v1m0 21v1m0 38v1m0 15v1m0 28v1m0 82v1m0 24v1m0 29v1m1-333v1m0 77v1m0 14v2m0 4v1m0 57v1m0 16v1m0 28v1m0 21v1m0 10v1m0 33v1m0 8v1m0 6v1m0 3v1m0 25v1m0 4v1m1-362v1m0 17v1m0 26v1m0 2v2m0 6v1m0 4v1m0 63v1m0 7v1m0 95v1m0 6v1m0 5v1m0 70v1m0 10v1m0 19v1m0 32v1m0 9v1m1-352v1m0 22v1m0 48v1m0 37v1m0 11v1m0 10v1m0 31v1m0 1v1m0 81v1m0 6v2m0 58v1m0 24v1m1-290v1m0 54v1m0 2v1m0 1v1m0 66v1m0 16v1m0 8v1m0 40v1m0 21v1m0 5v1m0 13v1m0 52v1m0 5v1m1-382v1m0 19v1m0 24v1m0 24v1m0 23v1m0 44v1m0 16v1m0 13v1m0 47v1m0 71v1m0 10v1m0 10v1m0 61v1m0 8v1m1-361v1m0 67v1m0 35v1m0 2v1m0 19v1m0 22v1m0 2v1m0 15v1m0 22v1m0 12v1m0 35v1m0 22v1m0 1v1m0 22v1m1-316v1m0 8v1m0 41v1m0 19v1m0 52v1m0 2v1m0 6v1m0 16v1m0 21v1m0 75v1m0 100v1m0 20v1m0 5v1m1-333v1m0 25v1m0 23v1m0 24v1m0 48v1m0 74v2m0 8v1m0 21v1m0 5v1m0 48v1m1-286v1m0 19v1m0 43v1m0 1v1m0 18v2m0 1v1m0 24v1m0 6v1m0 86v1m0 35v1m0 57v1m1-152v1m0 26v1m0 147v1m0 11v1m1-320v1m0 31v1m0 72v2m0 39v1m0 27v1m0 114v1m0 7v1m1-300v1m0 14v1m0 3v1m0 38v1m0 21v1m0 8v1m0 122v2m0 51v1m0 7v1m0 51v1m1-312v1m0 34v1m0 14v1m0 7v1m0 26v1m0 10v1m0 26v1m0 7v1m0 9v1m0 3v1m0 6v1m0 9v1m0 52v1m0 23v1m0 7v1m0 2v1m0 1v1m0 7v1m0 13v1m0 16v1m0 1v1m1-362v1m0 30v1m0 16v1m0 4v1m0 12v1m0 6v1m0 17v1m0 5v1m0 45v1m0 20v1m0 11v1m0 35v1m0 1v1m0 22v1m0 17v1m0 3v1m0 8v1m0 8v1m0 22v1m0 52v1m0 7v1m1-345v1m0 129v1m0 93v1m0 34v1m0 42v1m0 16v1m1-315v1m0 12v1m0 1v1m0 19v1m0 4v1m0 56v1m0 13v1m0 3v1m0 21v1m0 8v2m0 11v1m0 7v1m0 43v1m0 18v1m0 3v1m0 37v1m0 10v1m0 2v1m0 14v1m0 4v1m0 6v1m0 26v1m1-333v1m0 58v1m0 13v1m0 39v1m0 73v1m0 18v1m0 8v1m0 39v1m0 4v1m0 6v1m0 20v1m0 46v1m1-374v1m0 52v1m0 20v1m0 46v1m0 63v1m0 1v1m0 30v1m0 12v1m0 67v1m0 35v1m0 43v1m1-378v1m0 30v1m0 170v1m0 19v1m0 28v1m0 18v1m0 4v1m1-279v1m0 80v1m0 14v1m0 56v1m0 73v1m0 44v1m1-211v1m0 52v1m0 38v1m0 45v1m1-167v1m0 27v1m0 37v1m0 108v1m0 34v1m0 64v1m0 8v1m0 15v1m1-245v1m0 10v1m0 3v1m0 129v1m0 84v1m0 22v1m1-340v1m0 74v1m0 9v2m0 47v1m0 20v2m0 7v1m0 27v1m0 16v1m0 26v1m0 34v1m0 37v1m0 44v1m0 28v1m1-383v1m0 6v1m0 94v1m0 55v1m0 202v1m1-353v1m0 12v1m0 4v1m0 7v1m0 7v1m0 20v1m0 10v1m0 27v1m0 81v1m0 85v1m0 20v1m0 35v1m0 36v1m0 3v1m1-348v1m0 1v1m0 63v1m0 54v1m0 81v1m0 109v1m0 48v1m0 3v1m1-394v1m0 3v1m0 114v1m0 2v1m0 11v1m0 20v1m0 32v1m0 46v1m0 64v1m0 12v1m0 65v1m1-298v1m0 303v1m1-386v1m0 65v1m0 12v1m0 5v1m0 49v1m0 20v1m0 93v1m0 15v1m0 117v1m1-367v1m0 92v1m0 18v1m0 137v1m0 1v1m0 8v1m0 45v1m0 40v1m1-223v1m0 19v1m0 34v1m0 7v1m0 7v1m0 90v1m0 73v1m1-365v1m0 48v1m0 1v1m0 1v1m0 4v1m0 5v1m0 5v1m0 11v1m0 77v1m0 65v1m0 30v1m0 11v1m0 4v1m0 19v1m0 5v1m0 9v1m0 5v1m0 2v1m0 4v1m0 1v1m0 4v1m0 39v2m1-369v1m0 42v1m0 48v1m0 27v1m0 4v1m0 97v1m0 19v1m0 16v1m0 18v2m0 4v1m0 32v1m0 22v1m0 16v1m1-379v1m0 23v1m0 10v1m0 8v1m0 5v1m0 15v1m0 34v1m0 23v1m0 4v1m0 15v1m0 5v1m0 18v1m0 38v1m0 5v1m0 4v1m0 16v1m0 12v1m0 15v1m0 51v2m0 5v1m0 3v1m0 52v1m1-347v1m0 63v1m0 22v1m0 120v1m1-246v1m0 29v1m0 108v1m0 7v1m0 163v1m0 7v1m0 6v1m0 19v2m1-325v1m0 8v1m0 40v2m0 28v1m0 79v1m0 65v3m0 20v1m0 95v1m1-340v1m0 9v1m0 16v1m0 73v1m0 1v1m0 47v1m0 28v1m0 14v1m0 160v1m1-366v1m0 3v1m0 2v1m0 7v1m0 7v1m0 14v1m0 6v1m0 14v1m0 15v1m0 3v1m0 92v1m0 7v1m0 32v2m0 35v1m0 10v1m0 26v1m0 8v1m0 22v1m0 1v1m0 4v1m0 8v1m1-352v1m0 5v1m0 8v2m0 10v1m0 8v1m0 46v1m0 11v1m0 2v1m0 29v1m0 7v1m0 1v1m0 1v1m0 56v1m0 47v1m0 44v1m0 20v1m0 11v1m0 6v1m0 11v1m1-69v1m1-251v1m0 24v1m0 11v1m0 7v1m0 61v1m0 37v1m0 117v1m0 55v1m0 6v1m1-323v1m0 84v1m0 52v1m0 14v1m0 21v1m0 11v1m0 48v1m0 15v1m0 11v1m0 24v1m0 17v1m0 2v1m0 13v1m0 11v1m0 2v2m1-370v1m0 10v1m0 27v1m0 90v1m0 18v1m0 8v1m0 11v1m0 10v1m0 32v1m0 14v1m0 43v1m0 18v1m0 83v1m1-354v1m0 21v1m0 8v1m0 67v1m0 8v1m0 50v1m0 95v1m0 27v1m0 45v1m0 15v1m1-356v1m0 6v1m0 134v1m0 121v1m0 13v1m0 12v1m0 79v1m1-354v1m0 14v1m0 91v1m0 21v1m0 14v1m0 34v1m0 71v1m0 5v1m0 46v1m1-240v1m0 28v1m0 77v1m0 32v1m0 44v1m0 38v1m0 25v1m0 37v1m1-281v1m0 68v1m0 92v1m0 83v1m0 14v1m1-370v2m0 5v1m0 30v1m0 1v1m0 11v1m0 18v1m0 72v1m0 10v1m0 25v1m0 6v1m0 7v1m0 15v1m0 14v1m0 40v1m0 4v1m0 25v1m1-286v1m0 20v1m0 8v1m0 15v1m0 19v1m0 4v1m0 29v1m0 34v1m0 36v1m0 4v1m0 13v1m0 41v1m0 14v1m0 118v1m1-346v1m0 24v1m0 26v1m0 3v1m0 71v1m0 36v1m0 16v1m0 57v1m0 54v1m0 5v1m0 4v1m1-283v1m0 10v1m0 2v1m0 61v1m0 3v2m0 53v1m0 102v1m0 74v1m1-269v1m0 93v1m0 148v1m1-292v1m0 7v1m0 10v2m0 4v1m0 11v1m0 61v1m0 27v1m0 66v1m0 15v1m0 17v1m0 27v1m0 3v1m0 37v1m0 6v1m0 6v1m0 10v1m1-384v1m0 14v1m0 15v1m0 3v1m0 2v1m0 12v1m0 4v1m0 15v1m0 11v1m0 43v1m0 9v1m0 9v1m0 7v1m0 9v1m0 21v1m0 5v1m0 97v1m0 13v1m0 7v1m0 41v1m1-142v1m0 40v1m0 18v1m0 30v1m1-298v1m0 9v1m0 13v1m0 5v1m0 12v1m0 6v1m0 70v2m0 7v1m0 2v1m0 53v1m0 14v1m0 4v1m0 13v1m0 1v1m0 24v1m0 79v1m0 15v1m0 26v1m1-363v1m0 28v1m0 28v1m0 53v1m0 25v1m0 15v1m0 6v1m0 2v1m0 9v1m0 20v1m0 11v1m0 84v1m0 15v1m0 11v1m1-291v1m0 25v1m0 118v1m0 117v1m0 52v1m0 11v1m1-355v2m0 21v1m0 64v1m0 14v1m0 3v1m0 11v1m0 58v1m0 120v1m0 19v1m0 5v1m0 6v1m1-344v1m0 22v1m0 64v1m0 15v1m0 24v1m0 22v1m0 68v1m0 39v1m0 5v1m1-270v1m0 9v1m0 14v1m0 186v1m0 40v1m0 22v1m0 57v1m0 46v1m1-279v1m0 12v1m0 19v1m0 14v2m0 32v1m0 64v1m0 41v1m0 26v1m0 38v1m1-350v1m0 17v1m0 121v1m0 104v1m0 16v1m0 16v1m0 8v1m0 14v1m0 68v1m1-382v1m0 262v1m0 31v1m1-302v1m0 26v1m0 7v1m0 1v1m0 7v1m0 52v1m0 75v1m0 19v1m0 14v1m0 9v1m0 42v1m0 1v1m0 24v1m0 11v1m0 14v1m0 3v1m0 50v1m0 3v1m1-368v1m0 23v1m0 16v1m0 19v1m0 31v1m0 29v1m0 71v1m0 7v1m0 39v1m0 11v1m0 41v2m0 55v1m0 9v1m0 3v1m1-379v1m0 15v1m0 15v1m0 18v1m0 1v2m0 12v1m0 20v1m0 26v1m0 20v1m0 19v1m0 1v1m0 15v1m0 12v1m0 28v1m0 12v1m0 4v1m0 10v1m0 19v1m0 34v1m0 48v1m0 21v1m1-372v1m0 16v1m0 10v1m0 27v1m0 4v1m0 3v1m0 12v1m0 2v1m0 18v2m0 31v1m0 119v2m0 48v1m0 6v1m1-307v1m0 28v1m0 49v1m0 19v1m0 4v1m0 12v1m0 9v1m0 37v1m0 1v1m0 5v1m0 33v1m0 22v1m0 35v1m0 29v1m0 23v1m0 31v1m0 5v1m0 19v1m0 3v1m0 1v1m1-334v1m0 26v1m0 54v1m0 30v1m0 6v1m0 5v1m0 66v1m0 93v1m0 10v1m1-355v1m0 20v1m0 10v1m0 20v1m0 55v1m0 4v1m0 2v1m0 4v2m0 1v1m0 14v1m0 15v1m0 1v1m0 8v1m0 11v1m0 25v1m0 1v1m0 2v1m0 3v1m0 1v1m0 1v1m0 56v1m0 40v1m0 24v1m0 16v1m0 1v1m1-311v1m0 9v1m0 4v1m0 5v2m0 60v1m0 4v1m0 29v1m0 24v1m0 45v1m0 86v1m0 18v1m1-211v1m0 48v1m0 8v1m0 58v1m0 1v1m0 14v1m0 15v1m0 13v1m1-271v1m0 47v1m0 21v1m0 1v1m0 2v1m0 5v1m0 8v3m0 1v1m0 4v1m0 20v1m0 40v1m0 80v1m0 5v1m0 13v1m0 3v1m0 8v1m0 7v1m0 7v1m0 3v1m0 21v1m0 16v1m0 10v1m0 10v1m1-339v1m0 76v1m0 88v1m0 13v1m0 2v1m0 32v1m0 61v1m0 22v1m0 30v1m1-363v1m0 3v1m0 39v1m0 9v1m0 26v1m0 14v1m0 8v1m0 2v2m0 59v1m0 108v1m0 5v1m0 39v1m0 46v1m1-383v1m0 9v1m0 14v1m0 16v1m0 32v1m0 26v1m0 14v1m0 18v1m0 47v1m0 13v1m0 37v1m0 28v1m0 16v1m0 2v1m0 8v1m0 18v1m0 11v1m0 16v1m0 9v1m0 2v1m1-342v1m0 126v1m0 27v1m0 12v1m0 6v1m0 29v1m0 64v1m0 19v1m1-293v1m0 22v1m0 5v1m0 11v1m0 4v1m0 18v1m0 10v1m0 43v1m0 46v1m0 34v2m0 13v1m0 15v1m0 4v1m0 20v1m0 51v1m0 24v1m1-345v1m0 2v1m0 7v1m0 3v2m0 63v1m0 57v1m0 35v1m0 33v1m0 10v1m0 20v1m0 3v1m0 23v2m0 17v1m0 44v1m0 19v1m0 10v1m1-350v1m0 16v1m0 40v1m0 2v2m0 3v1m0 20v1m0 41v1m0 6v1m0 37v1m0 162v1m1-329v1m0 9v1m0 33v1m0 4v1m0 15v1m0 24v1m0 21v1m0 28v1m0 15v1m0 83v1m0 61v1m0 32v1m0 13v1m1-354v3m0 20v1m0 10v1m0 28v1m0 9v1m0 6v1m0 10v1m0 68v1m0 38v1m0 132v1m1-348v1m0 6v1m0 1v2m0 3v1m0 47v1m0 2v1m0 120v1m0 2v1m0 13v1m0 18v1m0 25v1m0 6v1m0 33v1m1-298v1m0 24v1m0 46v1m0 72v1m0 5v1m0 10v1m0 10v1m0 11v1m0 3v1m0 9v1m0 1v1m0 136v1m0 40v1m1-364v1m0 96v1m0 19v1m0 4v1m0 36v1m0 16v1m0 17v1m0 30v1m0 39v1m0 13v1m0 28v1m0 17v1m0 30v1m1-314v1m0 14v1m0 59v1m0 4v1m0 48v1m0 53v1m0 24v1m0 20v1m0 24v1m0 2v1m0 22v1m0 28v1m0 7v1m1-350v1m0 38v1m0 25v1m0 27v1m0 21v1m0 10v1m0 15v1m0 85v2m0 62v1m0 2v1m0 33v1m0 19v1m2-375v1m0 7v1m0 69v1m0 44v1m0 54v1m0 27v1m0 13v1m0 23v1m0 27v1m0 21v1m2-222v1m0 77v1m0 6v1m0 20v1m0 23v1m0 11v1m0 3v1m0 147v1m2-366v1m0 57v1m0 7v1m0 62v1m0 44v1m0 20v1m0 92v1m0 44v1m2-309v1m0 7v1m0 15v1m0 46v1m0 4v2m0 41v1m0 49v1m0 18v1m0 31v1m0 9v1m0 7v1m0 24v1m0 17v1m0 6v1m0 16v1m0 14v1m0 3v1m2-305v1m0 6v1m0 16v1m0 40v1m0 31v1m0 1v1m0 21v1m0 4v1m0 34v1m0 5v1m0 13v1m0 27v1m0 67v1m0 35v1m0 13v1m0 4v1m2-387v1m0 26v1m0 5v1m0 29v1m0 109v1m0 9v1m0 56v1m0 12v1m0 2v1m0 33v1m0 21v1m0 24v1m0 5v1m0 42v1m2-330v1m0 107v1m0 11v1m0 18v1m0 8v1m0 12v1m0 19v2m0 46v1m0 5v1m0 13v1m0 1v1m0 25v1m0 21v1m0 20v1m5-373v1m0 112v1m0 4v1m0 27v1m0 4v1m0 19v1m0 37v1m0 5v1m0 14v1m0 32v1m0 6v1m0 25v1m0 30v1m0 47v1m0 6v1m5-373v1m0 1v1m0 33v1m0 6v1m0 43v1m0 74v1m0 131v1m0 19v1m0 10v1m0 23v1m0 18v1m5-384v1m0 80v1m0 5v1m0 72v1m0 18v1m0 20v1m0 29v1m0 1v1m0 27v1m0 30v1m0 5v1m0 15v1m0 31v1m0 41v1m5-362v1m0 15v1m0 2v1m0 32v1m0 23v1m0 29v1m0 22v1m0 14v1m0 17v1m0 6v1m0 44v1m0 64v1m0 3v1m0 4v1m0 28v2m5-338v1m0 14v1m0 11v1m0 1v1m0 8v1m0 25v1m0 2v1m0 9v1m0 169v1m0 25v1m0 3v1m0 86v1m5-356v1m0 30v1m0 22v1m0 41v1m0 14v1m0 18v1m0 8v1m0 47v1m0 5v1m0 50v1m0 47v1m0 2v1m0 73v1"/>
<path stroke="#472a7a" d="M0 1v1m0 11v1m0 1v1m0 49v1m0 23v1m0 20v1m0 37v1m0 3v1m0 1v1m0 4v1m0 44v1m0 12v1m0 42v1m0 110v1m0 16v1m0 4v1m1-319v1m0 11v1m0 17v1m0 62v1m0 7v1m0 109v1m0 41v1m0 3v1m0 21v1m0 18v1m1-374v1m0 79v1m0 21v2m0 39v1m0 31v1m0 59v1m0 22v1m0 56v1m0 35v1m0 19v1m0 9v1m0 8v1m1-326v1m0 85v1m0 35v1m0 23v1m0 35v1m0 44v1m0 39v1m0 49v1m1-300v1m0 23v1m0 3v1m0 28v1m0 37v1m0 18v2m0 20v1m0 15v1m0 2v1m0 51v1m0 15v1m0 25v1m0 49v1m0 11v1m1-376v1m0 15v1m0 4v1m0 29v1m0 62v2m0 13v1m0 13v1m0 3v1m0 10v1m0 2v1m0 25v1m0 30v1m0 28v1m0 5v1m0 22v1m0 2v1m0 24v1m0 13v1m0 46v1m1-365v1m0 109v1m0 39v1m0 61v1m0 8v1m0 63v1m0 42v1m0 15v1m0 10v1m1-339v1m0 30v1m0 9v1m0 18v1m0 4v1m0 24v1m0 20v1m0 1v1m0 54v1m0 20v1m0 41v1m0 47v1m0 29v1m0 46v1m1-183v1m0 26v1m0 30v1m0 37v1m0 18v1m0 21v1m0 8v1m1-157v1m0 5v1m0 11v1m0 1v1m0 19v1m0 11v1m0 46v1m0 30v1m1-290v1m0 87v1m0 3v1m0 59v1m0 3v1m0 17v1m0 36v1m0 15v1m0 17v1m0 2v1m0 67v1m0 4v1m0 4v1m0 13v1m1-342v1m0 54v1m0 84v1m0 64v1m0 91v1m0 42v1m1-376v1m0 86v1m0 1v1m0 59v1m0 49v1m0 7v1m0 32v1m0 29v1m0 85v1m1-361v1m0 5v1m0 6v1m0 30v1m0 10v1m0 30v1m0 65v1m0 24v1m0 31v1m0 42v1m0 30v1m0 12v1m0 19v1m0 54v1m1-362v1m0 18v1m0 8v1m0 29v1m0 34v1m0 79v1m0 6v1m0 27v1m0 20v1m0 12v1m0 46v1m0 55v1m0 9v1m0 8v1m1-366v1m0 8v1m0 18v1m0 76v1m0 7v1m0 36v1m0 132v1m0 25v1m0 68v1m1-385v1m0 9v1m0 28v1m0 27v1m0 3v1m0 3v1m0 17v1m0 19v1m0 104v1m0 3v1m0 18v1m0 38v1m1-11v1m0 112v1m1-338v1m0 35v1m0 46v1m0 38v1m0 7v1m0 9v1m0 34v1m0 32v1m0 13v1m0 3v1m0 29v1m0 19v1m0 14v1m0 22v1m0 3v1m1-315v1m0 80v1m0 63v1m0 8v1m0 1v1m0 85v1m0 17v1m0 27v1m1-262v1m0 44v1m0 14v1m0 86v1m0 14v1m0 32v1m0 9v1m0 51v1m0 12v1m0 3v1m0 25v1m1-368v1m0 22v1m0 132v1m0 82v1m0 30v1m0 33v1m0 29v1m0 10v1m0 29v1m1-377v1m0 53v1m0 2v1m0 18v1m0 13v1m0 39v1m0 59v2m0 12v1m0 60v1m0 13v1m0 9v1m0 41v1m0 13v1m1-360v1m0 3v1m0 50v1m0 27v1m0 76v1m0 29v1m0 12v1m0 10v1m0 78v1m0 18v1m1-174v1m0 6v1m0 7v1m0 117v1m0 49v1m0 6v1m0 17v1m0 1v1m0 7v1m0 5v1m0 1v1m1-301v1m0 58v1m0 15v1m0 30v1m0 89v1m0 24v1m0 9v1m1-128v1m0 45v1m0 2v1m0 4v1m0 11v1m0 20v1m0 1v1m0 105v1m0 14v1m0 10v1m1-379v1m0 11v2m0 2v1m0 14v1m0 22v1m0 91v1m0 9v1m0 82v1m0 38v1m0 102v1m1-328v1m0 12v1m0 6v1m0 17v1m0 101v1m0 10v1m0 5v1m0 13v1m0 92v1m0 9v1m1-312v1m0 46v1m0 65v2m0 17v1m0 25v1m0 13v1m0 1v1m0 16v1m0 41v1m0 20v2m0 8v1m0 2v1m0 32v1m0 18v2m0 11v1m0 1v1m0 25v1m1-380v1m0 41v1m0 62v1m0 19v1m0 36v1m0 4v1m0 78v1m0 65v1m0 39v1m0 30v1m1-370v1m0 2v1m0 8v1m0 14v1m0 11v1m0 60v1m0 38v1m0 21v1m0 62v1m0 5v1m0 40v1m0 6v1m0 13v1m0 19v1m0 5v1m1-317v1m0 33v1m0 8v1m0 26v1m0 60v1m0 37v1m0 44v1m0 6v1m0 27v1m0 27v1m0 25v1m0 8v1m0 46v1m1-312v1m0 209v1m0 47v1m1-178v1m0 13v1m1-165v1m0 2v1m0 6v3m0 1v1m0 161v1m0 185v3m1-350v1m0 302v1m1-226v1m0 137v1m0 19v1m0 95v1m0 11v1m0 14v1m1-332v1m1-34v1m0 16v1m0 6v1m0 9v1m0 14v1m0 33v1m0 33v1m0 54v1m0 14v1m0 38v1m0 2v1m0 2v1m0 18v1m0 9v1m0 1v1m0 18v1m0 21v1m0 33v1m0 18v1m0 6v1m1-348v1m0 221v1m0 54v1m1-237v2m0 42v1m0 28v2m0 29v1m0 32v1m0 12v1m0 60v1m0 53v1m0 4v1m1-290v1m0 104v1m0 77v1m1 84v1m0 6v1m0 29v1m0 13v1m1-343v1m1 135v1m0 103v2m0 54v1m0 7v1m0 22v1m0 3v1m0 24v1m0 1v1m1-295v1m0 12v1m0 1v1m0 26v1m0 13v1m0 15v1m0 9v1m0 20v1m0 48v1m0 6v1m0 126v1m1-352v1m0 53v1m0 86v1m0 76v1m0 12v1m0 107v1m1-351v1m0 73v1m0 4v1m0 12v1m0 25v1m0 27v1m0 8v1m0 15v1m0 88v1m0 49v3m0 21v1m0 18v1m0 7v1m1-291v1m0 108v1m0 9v1m0 78v1m0 40v1m0 53v1m1-358v1m0 1v1m0 2v1m0 12v1m0 8v1m0 16v1m0 45v1m0 1v1m0 44v1m0 16v1m0 29v1m0 15v1m0 21v1m0 26v1m0 33v1m0 1v1m0 29v2m0 21v1m0 13v1m0 1v1m1-348v1m0 29v1m0 297v1m1-347v1m0 120v1m0 74v1m1-205v1m0 9v1m0 121v1m0 16v1m0 72v1m0 18v1m0 98v1m0 7v1m0 19v2m1-358v1m0 36v1m0 143v1m0 41v1m0 57v1m0 15v1m0 65v1m0 6v1m1-390v1m0 2v1m0 1v1m0 26v1m0 2v1m0 44v1m0 19v1m0 84v1m0 35v1m0 86v1m0 78v1m1-378v1m0 9v1m0 12v1m0 23v1m0 74v1m0 9v1m0 66v1m0 15v1m0 67v1m0 9v1m0 2v1m0 67v1m0 10v1m2-367v1m0 7v1m0 150v1m0 11v1m0 29v1m0 12v1m0 51v1m0 27v1m0 11v1m0 46v1m0 4v1m1-316v1m0 16v2m0 45v1m0 55v1m0 4v1m0 165v1m0 36v1m0 2v1m1-390v1m0 16v1m0 72v1m0 62v1m0 15v1m0 101v1m0 41v1m0 19v1m1 53v1m1-391v1m0 62v1m0 31v1m0 189v1m1-258v1m0 23v1m0 49v1m0 39v1m0 12v1m0 13v1m0 8v1m0 12v1m1-158v1m0 37v1m0 195v1m0 6v1m0 44v1m1-268v1m1 31v1m0 8v1m0 19v1m0 8v1m0 5v1m0 5v1m0 44v1m0 52v1m0 13v1m0 8v1m0 8v1m0 22v1m0 61v1m0 12v1m0 13v1m0 7v1m1-364v1m0 4v1m0 4v1m0 9v1m0 23v1m0 45v1m0 8v1m0 2v1m0 16v1m0 20v1m0 3v1m0 29v1m0 4v1m0 7v1m0 35v1m0 2v1m0 72v1m0 30v1m0 24v1m1-295v1m0 47v1m0 116v1m0 18v1m0 4v1m0 30v1m0 47v1m1-317v1m0 36v1m0 41v1m0 44v1m0 29v1m0 12v1m0 13v1m0 108v1m0 38v1m1-215v1m0 39v1m0 78v1m0 89v1m1-337v1m0 18v1m0 297v1m0 17v1m1-315v1m0 46v1m0 32v1m0 7v1m0 105v1m0 2v1m0 30v1m0 1v1m0 14v2m0 28v1m0 7v1m0 55v1m0 5v1m1-295v1m0 89v1m1-182v1m0 8v1m0 12v1m0 68v1m0 9v1m0 17v1m0 15v1m0 39v1m0 59v1m0 39v1m0 3v1m0 33v1m1-265v1m0 46v1m0 23v1m0 73v1m0 5v1m0 25v1m0 156v1m1-326v1m0 66v1m0 12v1m0 35v1m0 5v1m0 16v1m0 14v1m0 37v1m0 2v1m0 113v1m1-324v1m0 13v1m1 164v1m0 7v1m0 10v1m0 73v1m0 18v1m0 5v1m0 16v1m1-184v1m0 26v1m0 37v1m0 41v1m0 41v1m0 11v1m0 13v1m1-319v1m0 25v1m0 134v1m0 3v1m0 51v1m0 22v1m0 17v1m0 11v1m0 36v1m0 28v2m1-321v1m0 17v1m0 196v2m0 15v1m0 9v1m0 66v1m1-337v1m0 60v1m0 60v2m0 52v1m0 62v1m0 108v1m1-361v1m0 49v1m0 29v1m0 95v1m0 44v2m0 82v1m0 15v1m0 8v1m0 11v1m0 4v1m1-306v1m0 60v1m0 38v1m0 101v1m1-247v1m0 24v1m0 8v1m0 46v1m0 6v1m0 5v1m0 1v1m0 16v1m0 11v1m0 61v1m0 96v1m0 42v2m0 15v1m0 1v2m0 14v1m1-344v1m0 23v1m0 3v1m0 36v1m0 20v1m0 70v1m0 24v1m0 24v1m0 18v1m0 2v1m0 23v1m0 92v1m1-364v1m0 29v1m0 1v1m0 25v1m0 108v1m0 13v1m0 17v1m0 53v1m0 84v1m0 25v1m1-347v1m0 45v1m0 31v1m0 7v1m0 6v1m0 29v1m0 13v1m0 90v1m0 4v1m0 21v1m0 32v1m1-311v1m0 18v1m0 77v1m0 6v1m0 10v1m0 1v1m0 6v1m0 2v1m0 5v1m0 1v3m0 8v1m0 12v1m0 1v1m0 8v1m0 2v2m0 6v1m0 4v1m0 3v2m0 6v1m0 2v1m0 7v1m0 15v1m0 14v1m0 1v1m0 6v1m0 45v1m0 23v1m1-312v1m0 3v1m0 12v1m0 61v1m0 36v1m0 110v1m0 24v1m0 64v1m0 27v1m1-144v1m0 25v1m0 141v1m1-341v1m0 57v1m0 1v1m0 23v1m0 33v1m0 41v1m0 28v1m0 13v1m0 6v1m0 1v1m0 46v1m1-295v1m0 23v1m0 1v1m0 88v1m0 35v1m0 41v1m0 66v1m0 2v1m0 52v1m1-328v1m0 26v1m0 77v1m0 3v1m0 68v1m0 40v1m0 13v1m0 9v1m0 12v1m0 24v1m0 31v1m0 18v1m0 13v1m1-349v1m0 28v1m0 45v1m0 21v1m0 18v1m0 64v1m0 8v1m0 8v1m0 14v1m0 69v1m0 7v1m0 18v1m0 30v1m0 42v1m0 3v1m1-340v1m0 19v1m0 25v1m0 131v1m0 47v1m1-266v1m0 2v2m0 73v1m0 30v1m0 61v1m0 2v1m0 22v1m0 28v1m0 26v1m0 100v1m1-328v1m0 11v1m0 17v1m0 99v1m0 23v1m0 14v1m0 62v1m0 74v1m0 3v1m0 4v1m0 21v1m1-378v1m0 5v1m0 27v1m0 18v2m0 68v1m0 162v1m0 17v1m0 15v1m0 41v1m0 4v1m0 6v1m0 3v1m0 3v1m1-364v1m0 1v1m0 15v1m0 58v1m0 142v1m0 13v1m0 40v1m0 51v1m0 3v1m1-335v1m0 194v1m0 7v1m0 87v1m0 9v1m0 36v1m1-320v1m0 9v1m0 98v1m0 38v1m0 59v1m0 37v1m0 94v1m1-322v1m0 12v2m0 83v1m0 11v1m0 48v1m0 59v1m0 27v1m0 47v1m1-273v1m0 16v1m0 170v1m0 50v1m0 15v1m1-334v1m0 4v1m0 22v1m0 88v1m0 1v1m0 29v1m0 44v1m0 17v1m0 66v2m0 87v1m1-350v1m0 18v1m0 12v1m0 32v1m0 30v1m0 46v1m0 67v1m0 39v1m0 1v1m0 9v1m0 103v1m2-361v1m0 8v1m0 8v1m0 59v1m0 37v1m0 52v1m0 69v1m0 1v1m0 49v1m0 12v1m0 8v1m0 12v1m2-342v1m0 6v1m0 17v1m0 58v1m0 69v1m0 32v1m0 34v1m0 23v1m0 89v1m0 22v1m2-369v1m0 123v1m0 27v1m0 30v1m0 108v1m0 90v1m2-352v1m0 53v2m0 36v1m0 57v1m0 7v1m0 55v1m0 12v1m0 36v1m0 20v1m2-282v1m0 3v1m0 74v1m0 218v1m2-295v1m0 83v1m0 23v1m0 39v1m0 43v1m0 26v1m0 40v1m2-195v1m0 167v1m0 7v1m0 46v1m0 19v1m0 11v1m5-328v1m0 41v1m0 21v1m0 28v1m0 27v1m0 42v1m0 23v1m0 40v1m0 49v1m0 16v1m0 37v1m0 4v1m0 5v1m5-351v1m0 15v1m0 102v1m0 118v1m0 52v1m0 22v1m5-301v1m0 82v1m0 38v1m0 61v1m0 1v1m0 2v1m0 90v1m0 25v1m0 26v1m5-369v1m0 146v1m0 70v1m0 65v2m0 19v1m0 46v1m5-227v1m0 69v1m0 60v1m0 22v1m0 23v1m0 49v1m5-313v1m0 24v1m0 25v1m0 110v1"/>
<path stroke="#472f7d" d="M0 87v1m0 42v1m0 24v1m0 2v1m0 18v1m0 4v2m0 3v1m0 124v1m0 9v1m0 15v2m0 6v1m0 36v1m0 2v1m1-355v1m0 11v1m0 7v1m0 50v1m0 29v1m0 8v1m0 4v1m0 42v1m0 15v1m0 16v1m0 23v1m0 26v1m0 27v1m0 3v1m0 12v2m0 17v1m0 2v1m0 5v1m0 3v1m0 8v1m0 1v1m0 1v2m0 10v1m0 1v1m0 1v1m0 6v1m1-363v1m0 170v1m0 30v1m0 74v1m1-289v1m0 17v1m0 92v1m0 14v1m0 14v1m0 75v1m0 1v1m0 94v1m0 8v1m0 50v1m1-303v1m0 28v1m0 246v1m0 23v2m0 15v1m1-393v1m0 37v1m0 85v1m0 57v1m0 105v1m1-268v1m0 49v1m0 196v1m0 11v1m0 15v1m1-300v1m0 39v1m0 36v1m0 44v2m0 25v1m0 13v1m0 62v1m0 6v1m1-137v1m0 9v1m0 18v1m0 67v1m0 111v1m0 41v1m0 17v1m0 13v1m1-368v1m0 38v1m0 24v2m0 39v1m0 81v1m0 11v1m0 21v1m0 3v2m0 48v1m0 58v2m0 25v1m1-371v1m0 22v1m0 28v1m0 61v1m0 18v1m0 46v2m0 42v1m0 35v1m0 63v1m0 11v1m0 13v1m0 10v1m1-311v1m0 1v1m0 105v1m0 94v1m0 73v1m0 4v1m0 32v1m1-216v1m0 163v1m0 65v1m1-362v1m0 39v1m0 16v1m0 39v1m0 18v1m0 124v1m0 115v1m0 1v1m1-381v1m0 33v1m0 22v1m0 44v1m0 33v1m0 2v2m0 52v1m0 8v1m0 60v1m0 6v1m0 8v1m0 86v1m0 9v1m1-356v1m0 17v1m0 15v1m0 116v1m0 47v1m1-161v1m0 283v1m0 34v1m1-275v1m0 13v1m0 13v1m0 100v1m0 45v1m1-197v1m0 20v1m0 78v1m0 14v1m0 31v2m0 39v1m0 97v1m0 9v1m1-387v1m0 15v1m0 115v1m0 68v1m0 157v1m0 9v1m1-349v1m0 9v1m0 8v1m0 22v1m0 133v1m0 21v1m0 45v1m0 62v1m0 36v1m0 13v1m1-372v1m0 91v1m0 228v1m1-296v1m0 92v1m0 6v1m0 7v2m0 22v1m0 47v1m0 61v1m0 50v1m0 30v1m0 2v1m0 24v1m1-334v1m0 178v1m0 20v1m0 42v1m0 22v1m0 9v1m0 18v1m0 36v1m1-335v1m0 95v1m0 36v1m0 11v1m0 119v1m0 55v2m1-312v1m0 161v1m1-58v1m0 48v1m0 3v1m1-191v1m0 6v1m0 15v1m0 14v2m0 2v1m0 5v1m0 237v1m0 16v1m1-136v2m0 9v1m0 117v2m0 15v1m1-336v1m0 13v1m0 26v1m0 108v1m0 49v1m0 25v1m0 1v1m0 15v1m0 26v1m0 25v1m0 14v1m0 3v1m1-331v1m0 44v1m0 38v1m0 110v1m0 99v1m0 21v1m0 35v1m0 13v1m0 21v2m1-330v1m0 32v1m0 110v1m0 10v1m0 3v1m0 41v1m0 3v1m0 62v1m0 33v1m0 16v1m1-310v1m0 95v1m0 37v1m0 9v1m0 5v1m0 8v1m0 21v1m0 107v1m0 29v1m2-284v1m0 130v1m0 11v1m0 38v1m1-277v1m0 289v1m0 24v1m1-54v1m1-155v1m0 248v1m0 7v1m0 2v1m1-41v1m1-311v1m0 135v1m0 152v1m0 21v1m0 31v1m0 14v1m1-376v1m0 196v1m0 3v1m0 86v1m0 15v1m1-217v1m0 47v1m0 43v1m0 10v1m0 73v1m0 93v1m1-357v1m0 16v1m0 200v1m1-41v2m0 92v1m1-62v1m0 162v1m1-373v2m0 70v1m0 12v1m0 9v1m0 70v1m1-180v1m0 128v1m0 4v1m0 88v1m0 138v1m0 21v1m1-136v1m0 134v2m1-367v1m0 56v1m0 1v1m0 7v1m0 1v1m0 72v1m0 1v1m0 158v1m1-305v1m0 85v1m0 51v1m0 63v1m0 2v1m0 131v1m0 16v1m0 5v1m0 4v1m1-381v1m0 166v1m0 66v1m0 3v1m0 3v1m0 5v1m0 2v1m0 12v1m0 43v1m0 37v1m1 37v1m1-383v1m0 57v1m0 13v1m0 113v1m0 21v1m0 8v1m0 117v1m1-127v1m0 45v1m1-189v1m0 17v1m0 55v1m0 144v1m1-181v1m0 39v1m0 42v1m0 54v1m0 75v1m0 4v1m1-313v2m0 6v1m0 23v1m0 47v1m0 13v1m0 20v1m0 11v1m0 14v1m0 8v1m0 27v1m0 1v2m0 67v1m0 5v1m0 32v1m0 12v1m2-287v1m0 80v1m0 2v1m0 12v1m0 116v1m0 78v1m0 55v1m1-325v1m0 7v1m0 162v1m0 57v1m0 75v1m0 1v1m0 16v1m2-214v1m0 69v1m0 27v1m1-178v1m0 76v1m0 70v1m0 33v1m0 99v1m1-378v1m0 14v1m0 47v1m0 195v1m0 39v1m0 42v1m0 14v1m0 18v1m0 14v1m1-386v1m0 127v1m0 29v1m0 103v1m0 122v1m1-357v1m0 355v1m1-369v1m0 25v1m0 77v1m0 113v1m0 111v1m0 4v1m0 28v1m0 3v1m1-311v1m0 13v1m0 8v1m0 3v1m0 24v1m0 26v1m0 29v1m0 69v1m0 36v1m0 1v1m0 39v1m1-272v1m0 147v2m1-201v1m0 161v1m0 11v1m0 101v1m0 27v1m1-269v1m0 9v1m0 98v1m1-163v1m0 68v1m0 117v1m0 68v1m0 74v1m0 20v1m1-307v1m0 86v1m0 3v1m0 9v1m0 4v1m0 112v1m0 17v1m0 21v1m0 27v1m0 53v1m1-300v1m0 67v1m1-135v1m0 102v1m0 17v1m0 8v1m0 124v1m0 60v1m0 13v1m1-354v1m0 50v1m0 18v1m0 16v1m0 27v1m0 211v1m0 62v1m1-387v1m0 74v1m0 101v1m0 80v1m0 13v1m0 26v1m1-208v1m0 61v1m0 4v1m0 44v1m0 47v1m0 36v1m0 45v1m0 49v1m1-238v1m0 10v1m0 144v1m1-18v1m1-249v1m0 15v1m0 62v1m0 236v1m1-126v1m0 36v1m1-198v1m0 31v1m0 13v1m0 2v1m0 149v1m1-177v1m0 3v1m0 38v1m0 1v1m0 35v1m0 2v1m0 50v1m0 4v1m0 8v1m0 1v1m0 27v1m0 35v1m0 75v1m1-343v1m0 130v1m0 105v1m1-278v1m0 37v1m0 16v1m0 89v1m0 13v1m0 9v1m0 22v1m0 31v1m0 7v1m0 32v1m0 63v1m1-289v1m0 82v1m0 84v1m0 23v1m0 16v1m0 1v1m0 65v1m1-219v1m0 65v1m0 10v1m0 21v1m0 56v1m0 108v1m1-320v1m0 86v1m0 27v1m0 186v1m1-354v1m0 7v1m0 41v1m0 3v1m0 5v1m0 12v1m0 34v1m0 5v1m0 2v1m0 13v1m0 3v1m0 3v1m0 10v1m0 1v1m0 6v2m0 12v1m0 4v1m0 5v1m0 2v1m0 3v3m0 10v1m0 4v1m0 65v1m1-214v1m0 3v1m0 285v1m0 8v1m0 13v1m1-337v1m0 98v1m0 73v1m0 18v1m1-87v1m0 11v1m0 31v1m0 81v1m0 40v1m0 1v1m1-296v1m0 39v1m0 59v1m0 167v1m0 74v1m1-354v1m0 4v1m0 52v1m0 32v1m0 33v1m0 112v1m0 37v1m0 27v1m0 18v1m0 33v1m0 24v1m1-373v1m0 22v1m0 16v1m0 24v1m0 5v1m0 25v1m0 15v1m0 8v1m0 4v1m0 120v1m0 84v1m0 13v1m1-270v1m0 102v1m0 21v1m0 29v1m0 24v1m0 72v1m0 4v1m0 1v1m1-284v1m0 244v1m0 2v1m0 13v1m1-242v1m0 18v1m0 144v1m0 75v1m0 29v1m0 11v1m0 9v1m1-351v1m0 69v1m0 54v1m0 36v1m0 92v1m0 41v1m0 18v1m1-276v1m0 29v1m0 87v1m0 16v1m0 60v2m1-278v1m0 23v1m0 18v1m0 85v1m0 66v1m0 181v1m1-362v1m0 15v1m0 2v1m0 138v1m0 163v1m1-294v1m0 6v1m0 9v1m0 53v2m0 3v1m0 60v1m0 64v1m0 24v1m0 82v1m1-272v1m0 175v1m0 54v1m0 18v1m1-106v1m0 130v1m1-315v1m0 22v1m0 4v1m0 64v1m0 28v1m0 80v2m0 69v1m0 11v1m0 40v1m0 6v2m0 6v1m2-358v1m0 34v1m0 2v1m0 29v1m0 35v1m0 56v1m0 77v1m0 39v1m2-278v1m0 21v1m0 18v1m0 22v1m0 29v1m0 55v1m0 43v1m0 49v1m0 51v1m0 60v1m2-193v1m0 52v1m0 28v1m0 13v1m2-198v1m0 33v1m0 17v1m0 18v1m0 24v1m0 29v1m0 5v1m0 34v1m0 56v1m2-186v1m0 189v1m0 26v1m0 12v1m0 20v1m2-319v1m0 121v1m0 106v1m0 33v1m0 56v1m2-285v1m0 69v1m0 26v1m5-180v1m0 135v1m0 120v1m0 26v2m0 3v1m0 20v1m0 16v1m5-307v1m0 251v1m0 86v1m0 5v1m5-311v1m0 165v1m0 1v1m0 5v1m0 80v1m0 48v1m5-325v1m0 30v1m0 17v1m0 10v1m0 169v1m0 75v1m0 18v1m0 1v1m5-366v1m0 77v1m0 76v1m0 29v1m0 104v1m0 9v1m0 62v1m0 1v1m5-388v1m0 43v1m0 112v1m0 88v1m0 38v1m0 9v1m0 85v1"/>
<path stroke="#463480" d="M0 40v1m0 20v1m0 79v1m0 47v1m0 7v1m0 97v1m0 71v1m1-351v1m0 23v1m0 14v1m0 28v1m0 33v1m0 12v1m0 7v1m0 3v1m0 96v2m0 61v1m0 22v1m0 5v1m0 3v1m0 7v2m0 6v1m0 4v1m0 4v1m0 3v2m0 17v1m0 1v1m0 5v1m1-393v1m0 170v1m0 18v1m0 96v1m0 57v1m0 17v1m1-242v1m0 89v1m0 165v1m1-280v1m0 3v1m0 31v1m0 105v1m0 5v1m0 18v1m0 41v1m0 14v1m0 65v2m1-289v1m0 9v1m0 6v2m0 37v1m0 31v1m0 41v1m0 17v1m0 81v1m0 12v1m0 11v1m0 3v1m0 19v1m0 7v1m0 1v1m1-171v1m0 65v1m1-203v1m0 143v1m1-26v1m0 11v1m0 7v1m1-136v1m0 11v1m0 126v1m0 5v2m0 2v1m0 4v1m1-118v1m0 122v1m0 45v1m0 92v1m1-315v1m0 50v1m0 111v1m0 79v1m0 3v1m1-114v1m0 82v1m0 6v1m0 8v1m1-112v1m0 89v1m1-243v1m0 57v1m0 21v1m0 17v1m0 9v1m1 16v1m1 151v1m1-136v1m1-174v1m0 277v1m0 17v1m0 45v1m1-275v1m0 130v1m0 143v1m1-305v1m0 61v1m0 24v1m0 39v1m0 117v1m1-265v1m0 50v1m0 35v1m0 37v1m0 121v1m0 12v1m0 93v1m1-324v1m0 139v1m0 31v1m0 46v2m0 60v1m0 17v1m1-155v1m0 42v1m0 33v1m0 102v1m1-227v1m0 184v1m0 3v1m0 3v1m0 5v1m1-351v1m0 162v1m0 116v1m0 98v1m1-213v1m0 34v1m0 10v1m0 94v1m0 70v1m1-392v1m0 68v2m0 6v1m0 170v1m0 5v1m0 116v1m1-272v1m0 83v1m0 22v2m0 5v1m0 117v1m0 10v1m0 2v1m0 40v1m1-378v1m0 45v1m0 22v1m0 57v1m0 150v1m0 4v1m0 3v1m0 22v1m0 70v1m1-20v1m0 11v1m1-174v1m0 105v1m0 20v1m0 49v1m1-230v1m0 1v1m0 67v1m0 46v1m0 36v1m0 73v1m1-254v1m1-66v1m1-70v1m0 3v1m0 3v1m0 3v1m0 135v1m2-50v1m0 39v1m0 78v1m0 165v1m1-156v1m0 161v1m1-333v1m0 40v1m0 79v1m0 109v1m0 13v1m0 11v1m0 52v1m1-320v1m0 180v1m0 72v1m0 1v1m0 1v1m0 1v1m0 7v1m0 69v1m1-206v1m0 89v1m0 52v1m0 60v1m1-150v1m0 125v1m1-176v1m0 55v1m0 59v1m0 82v1m1-2v1m2-289v1m1-7v1m1-1v1m0 111v1m0 126v2m0 4v1m1-119v1m1-158v1m0 6v1m0 41v1m0 70v1m0 3v1m0 4v1m0 9v1m0 20v1m0 108v1m1-332v1m0 386v1m2-226v1m0 160v1m0 17v1m0 14v1m1-345v1m0 84v1m0 22v1m0 68v1m0 13v1m0 173v1m1-323v1m0 276v1m1-309v2m0 1v2m0 41v1m0 32v1m0 3v1m0 76v1m0 153v1m2-294v1m0 32v1m0 182v1m1-189v1m0 11v1m0 135v1m0 37v1m0 25v1m0 42v1m1-299v1m1 99v1m0 77v1m1-120v1m0 300v1m1-327v1m0 82v1m0 101v1m1-170v1m1 108v1m1-160v1m0 21v1m0 137v1m0 25v1m1-86v1m0 12v1m1-143v1m0 173v1m0 131v1m0 81v1m1-378v1m0 76v1m0 112v1m0 53v1m1-154v1m0 175v1m1-214v1m1 119v1m0 32v1m0 19v1m1-84v1m0 229v1m0 2v1m1-321v1m0 20v1m0 37v1m0 8v1m0 118v1m0 55v1m0 39v1m0 32v1m1-348v1m0 286v1m0 32v1m1-275v1m0 185v1m0 32v1m1-159v1m0 132v1m0 34v1m1-134v1m1 166v1m1-320v1m1 87v1m0 240v1m1-211v1m0 49v1m1-7v1m0 194v1m1-311v1m0 197v1m1-183v1m0 105v1m0 21v1m0 61v1m0 66v1m0 26v1m1-356v1m0 203v1m0 2v1m0 23v1m0 5v2m0 86v1m1-341v1m0 20v1m0 14v1m0 20v1m0 17v1m0 16v1m0 24v1m0 48v1m0 32v1m0 22v1m0 116v1m1-339v1m0 123v1m0 54v1m0 199v1m1-367v1m0 12v1m0 4v1m0 78v1m0 7v2m0 11v1m0 12v1m0 7v1m0 2v1m0 1v2m0 6v3m0 17v1m0 1v1m0 1v1m0 82v1m1-9v1m0 113v1m2-279v1m0 74v1m0 130v1m0 23v1m0 41v1m1-189v1m0 63v1m0 47v1m1-266v1m0 116v1m0 134v1m0 64v1m1-300v1m0 7v1m0 22v1m0 81v1m0 49v2m0 6v1m0 21v1m0 19v1m0 60v1m0 20v1m1-190v1m0 17v1m0 49v1m1-104v1m1-103v1m0 4v1m0 87v1m0 55v1m0 74v1m1 74v1m1-232v1m0 5v1m0 28v1m1-51v1m0 57v1m0 167v1m1-288v1m0 12v1m0 136v1m0 218v1m1-324v1m0 2v1m0 4v1m0 40v1m0 72v1m0 41v1m1-110v1m0 188v1m1-56v1m1-189v1m0 2v1m0 17v1m0 40v1m0 32v1m0 11v1m0 174v1m2-310v1m0 87v1m0 90v1m0 31v1m0 89v1m0 42v1m2-192v1m0 43v1m0 92v1m0 24v1m2-281v1m0 292v1m2-289v1m0 109v1m0 50v1m0 15v2m2-215v1m0 250v1m0 75v1m2-270v1m0 8v1m0 115v1m2-211v1m0 58v1m0 5v1m0 104v1m0 26v1m0 101v1m0 29v1m5-319v1m0 65v1m0 197v1m0 22v1m5 48v1m5-330v1m0 9v1m0 62v1m0 194v1m5-297v1m0 15v1m0 64v1m0 209v1m5-67v1m0 138v1m5-322v1m0 13v1m0 71v1m0 78v1"/>
<path stroke="#443983" d="M0 157v1m0 18v1m0 8v1m0 12v2m0 1v1m0 1v1m0 4v1m0 98v1m0 79v1m1-364v1m0 150v1m0 8v1m0 12v1m0 5v1m0 162v1m0 2v1m0 2v1m0 4v1m0 4v2m1-339v1m0 131v1m1-151v1m0 12v1m0 105v1m0 79v1m1-194v1m1-16v1m0 44v1m0 37v1m0 39v1m0 5v1m0 152v1m0 91v1m1-142v1m1-243v1m0 129v1m0 64v1m1-193v1m0 182v1m0 7v1m0 128v1m1-308v1m0 62v1m0 6v1m0 57v1m0 49v1m0 2v1m0 6v1m0 12v1m0 12v1m1 65v1m1-290v1m0 58v1m0 1v1m0 54v1m0 181v1m0 47v1m1-313v1m0 150v1m1 5v1m1-183v1m0 119v1m0 2v1m0 94v1m0 19v1m0 74v1m1-82v1m0 72v1m0 27v1m1-82v1m1-50v1m0 39v1m1-203v1m0 139v1m0 16v1m0 16v1m1 26v1m0 121v1m1-320v1m0 96v1m0 2v1m0 19v1m0 172v1m1-320v1m0 74v2m0 29v1m0 122v1m0 15v1m0 8v1m1-269v1m0 67v1m0 55v1m0 71v1m1 99v1m1 63v1m2-172v1m0 40v1m1-193v1m0 12v1m0 7v1m0 214v1m1-232v1m0 35v1m0 103v1m0 1v1m0 4v1m0 3v2m0 110v1m0 2v1m0 2v1m1-283v1m0 52v1m0 12v1m0 160v2m0 5v1m0 95v1m1-389v1m1 15v1m0 3v1m0 223v1m0 49v1m0 54v1m0 8v1m0 12v1m0 11v1m1-29v1m0 13v1m1-66v1m1-294v1m0 83v1m0 189v1m1-270v1m0 308v1m0 35v1m1-70v1m2 61v1m1-335v1m0 31v1m0 234v1m1-257v1m0 33v1m0 251v1m1-93v1m0 31v1m0 4v1m0 21v1m0 11v1m0 2v1m0 3v1m1-72v1m3-44v1m1-123v1m0 96v1m0 224v1m1-37v1m1-277v1m0 3v1m0 2v1m0 2v1m0 248v1m1-234v1m0 55v1m0 36v1m1-196v1m0 17v1m0 47v1m0 26v1m0 226v1m1-296v1m0 273v1m0 101v1m1-216v1m1-65v1m0 139v1m1-49v1m2-215v1m0 10v1m0 2v1m0 17v1m0 52v1m0 23v1m0 2v1m0 1v1m0 83v1m0 108v1m2-233v1m0 17v1m1-11v1m0 113v1m0 102v1m0 61v1m0 18v1m1-373v1m2 80v1m0 261v1m1-302v1m0 41v1m0 21v1m0 155v1m1-49v1m0 78v1m2-114v1m0 3v1m0 111v1m0 1v1m0 72v1m1-321v1m0 10v1m0 115v1m0 30v1m0 2v1m1-121v1m0 233v1m0 50v1m1-39v1m2-249v1m1-49v1m0 121v1m0 22v1m0 63v1m0 5v1m1-182v1m0 1v1m0 3v1m0 263v1m1-260v1m0 177v1m1 48v1m0 29v1m0 32v1m2-384v1m0 175v1m0 30v1m1 74v1m3-172v1m0 125v1m1 145v1m2-376v1m1 34v1m0 80v1m0 83v1m0 102v1m0 1v1m0 58v1m0 8v1m1-380v1m0 188v1m1-193v1m0 243v1m1-26v1m0 53v1m0 23v1m0 79v1m0 4v2m1-359v1m0 16v1m0 75v1m0 18v1m0 9v1m0 5v1m0 5v1m0 7v2m0 12v1m0 2v1m1-51v1m1-78v1m0 45v1m1 45v1m0 51v1m0 148v1m1-239v1m0 75v1m0 20v1m0 174v1m1-273v1m1 5v1m0 63v1m0 114v1m0 79v1m2-291v1m0 67v1m0 206v1m0 20v1m1-337v1m0 223v1m0 13v1m1-24v1m1 120v1m1-38v1m0 32v1m1-325v1m0 150v1m0 74v1m1-240v1m0 91v1m0 62v1m0 46v1m1 120v1m1-227v1m0 87v1m1-232v1m0 92v1m0 56v1m0 156v1m0 22v1m0 32v1m2-223v1m2-142v1m0 13v1m0 80v1m0 3v1m0 209v1m2-219v1m0 225v1m0 68v1m0 1v1m2-385v1m0 228v1m0 108v1m2-305v2m0 29v1m0 240v1m0 60v1m2-191v1m0 66v1m0 6v1m2-155v1m5-45v1m0 39v1m0 284v1m5-81v1m5-101v1m0 16v1m0 124v1m5-279v1m0 98v1m0 218v1m5-1v1m5-66v1"/>
<path stroke="#423f85" d="M0 22v1m0 40v1m0 87v1m0 19v2m0 135v1m1-254v1m0 33v1m0 125v1m0 23v1m0 3v1m0 64v1m0 26v2m0 33v2m0 7v1m0 9v2m1-94v1m0 56v1m1-280v1m0 15v1m0 4v1m0 159v1m1 90v1m0 24v1m1-341v1m0 72v1m0 36v1m0 66v1m0 49v1m0 45v1m1-66v1m0 146v1m0 16v1m1-313v1m0 20v1m0 24v1m0 57v1m0 136v1m0 70v1m1-354v1m0 54v1m0 247v1m1-151v1m0 5v1m0 6v2m0 4v1m0 4v2m0 1v1m0 1v1m0 1v1m0 21v1m1-235v1m0 64v1m0 40v1m0 30v1m0 25v1m0 54v1m0 109v1m1-292v2m0 71v1m1 77v1m1-146v1m0 14v1m0 9v1m1-87v1m0 140v1m1 122v1m0 90v1m0 10v1m0 1v1m2-115v2m0 27v1m1-281v1m0 232v1m0 3v1m0 2v1m0 143v1m1-314v1m0 84v1m0 149v1m1-210v1m0 62v1m1 102v1m0 119v1m1-364v1m1 154v1m0 98v1m0 16v1m0 89v1m1-34v1m1-62v1m0 94v1m1-214v3m0 40v1m0 7v1m1-154v1m0 50v1m0 9v3m0 69v1m1 12v1m0 121v1m2-146v1m1 60v1m0 78v1m0 2v1m1-81v1m1-62v1m0 192v1m1-296v1m1-96v1m0 366v3m4-339v1m0 91v1m0 198v1m0 35v1m1-48v1m0 2v1m0 75v1m1-374v1m0 223v1m0 13v1m0 2v1m0 3v1m0 8v1m0 16v1m1-135v1m0 74v1m0 5v1m0 18v1m2 11v1m1-80v1m2 117v1m1 69v1m1-256v1m1-64v1m0 216v1m0 48v1m0 60v1m0 5v1m1-58v1m1-241v1m0 8v1m0 287v1m2-281v1m1 58v1m0 73v1m0 68v1m1-304v1m0 13v1m0 81v1m0 127v1m0 138v1m1-298v1m0 12v1m0 312v1m1-392v1m0 65v1m0 3v1m0 6v1m0 11v1m0 227v1m1-330v1m0 80v1m0 155v1m0 94v1m0 42v1m0 14v1m1-19v1m2-283v1m2 34v1m0 262v1m1-319v1m0 279v1m1-307v1m0 123v1m1-162v1m0 144v1m0 32v1m0 13v1m1-179v1m1 235v1m1 130v1m3-297v1m2 130v1m1 164v1m1-195v1m0 19v1m0 44v1m0 74v1m1-286v1m3 338v1m4-282v1m0 207v1m0 6v1m1 40v1m1-340v1m0 60v1m0 25v1m1-5v1m0 64v1m1-47v1m0 11v1m0 5v1m0 117v1m1-194v1m0 128v1m0 159v1m0 16v1m1-301v1m2 67v1m0 244v1m0 3v1m1-209v1m0 81v1m1-260v1m0 149v1m0 38v1m0 5v1m0 10v1m0 95v1m1-281v1m1 4v1m0 224v1m0 92v1m1-330v1m1 97v1m0 61v1m2 138v1m1-298v1m0 4v2m0 60v1m0 119v1m1-153v1m0 3v1m0 48v1m0 58v1m0 167v1m2-319v1m1 67v1m0 45v1m2-56v1m0 274v1m4-45v1m2-64v1m2 7v1m2-166v1m2-57v1m0 281v1m5-180v1m10-22v1m5 100v1m0 110v1m5-37v1m5-39v1m0 1v1"/>
<path stroke="#414487" d="M0 156v1m0 13v1m0 8v2m1-150v1m0 38v1m0 55v1m0 119v1m0 134v1m1-198v1m0 114v1m0 50v1m0 53v1m1-193v1m0 180v1m0 10v1m1-366v1m0 108v1m0 156v1m1-250v1m0 55v1m0 30v1m0 10v1m0 4v1m0 1v1m0 1v1m0 174v1m1 47v1m1-370v1m0 127v2m1-116v1m0 129v1m0 230v2m1-315v1m0 142v1m0 2v1m0 22v1m1-205v1m0 37v1m0 2v1m1-22v1m0 3v1m0 321v1m1-2v1m0 4v1m2-342v1m2 338v1m1-117v1m0 5v1m0 110v1m1-144v1m0 139v1m1-163v1m0 34v1m1-125v1m0 63v1m0 16v1m0 97v1m0 74v1m1-283v1m0 172v1m0 3v1m0 14v1m1-286v1m0 162v1m0 25v1m0 59v1m0 122v1m1 1v1m1-263v1m0 238v1m1-63v1m0 3v1m1-169v1m0 73v1m0 6v1m0 1v1m0 165v1m1-266v1m0 11v2m0 1v1m1 68v1m0 7v1m0 121v1m0 5v1m0 2v1m1-62v1m2 33v1m0 15v1m1-161v1m0 155v1m1-319v1m1 83v1m0 201v1m1-300v1m1 385v1m1-203v1m1-111v1m0 265v1m1-10v1m0 7v1m2-334v1m0 251v1m0 3v1m0 6v1m1-46v2m0 1v1m0 7v1m0 62v1m1-62v1m1-64v1m2 214v1m2-392v1m2 290v1m0 82v1m2-172v1m1 57v1m1-124v1m0 195v1m2-319v1m0 10v1m0 83v1m0 2v1m1-40v1m0 5v1m0 3v1m0 6v1m0 1v1m1-20v1m1 3v1m0 3v1m2-58v1m1 66v1m0 160v1m3-76v1m1 208v1m2-368v2m2 365v1m0 2v1m2-366v1m0 59v1m1 5v1m0 183v1m1-211v1m0 26v1m1-62v1m3-7v1m0 239v1m2 121v1m1-17v1m3-194v1m0 101v1m1 33v1m1-186v1m0 136v1m1-96v2m0 1v1m0 97v1m0 86v1m0 4v1m0 22v1m2-255v1m0 216v1m2-258v1m1 108v1m1-119v1m2-39v1m0 99v1m0 13v1m0 90v1m2-251v1m0 99v1m0 135v1m4-130v1m0 62v1m1-145v1m1 35v1m3 187v1m2-177v1m2 112v1m0 40v1m0 67v1m0 36v1m2-320v1m0 6v1m0 94v1m0 209v1m0 58v1m0 3v1m2-237v1m0 230v2m4-31v1m2 29v2m5-210v1m0 205v1m10-239v1m5-127v1m5-10v1m0 321v1m0 2v1m0 43v1m5 5v2"/>
<path stroke="#3f4889" d="M0 121v1m0 59v1m1-177v1m0 123v1m0 75v1m0 128v1m0 7v1m2-253v1m0 6v1m0 21v1m2-94v1m1 202v1m0 126v1m1-276v1m0 35v1m0 10v1m0 261v1m2-336v1m0 155v1m0 15v1m0 21v1m0 141v1m1-312v1m0 245v1m0 29v1m0 34v1m1-323v1m0 61v1m3 17v1m0 225v1m1-304v1m0 290v1m0 8v1m1-165v1m0 171v1m0 12v1m1-138v1m0 1v1m0 2v1m0 11v1m1 115v1m1 1v1m0 1v1m1-352v1m0 95v1m0 17v1m0 12v1m0 48v1m0 185v1m1-404v1m0 115v1m0 19v1m0 148v2m0 2v1m0 1v1m0 11v1m1-96v4m1-55v1m1 192v3m0 1v1m0 19v1m1-79v2m1-126v1m0 2v1m0 10v1m1-108v1m0 309v1m1-379v1m0 199v1m0 61v1m0 60v1m0 10v1m1-56v2m2-228v1m0 296v1m1-226v1m1 177v1m1-213v1m0 73v1m3-110v1m0 311v1m1-39v1m0 3v1m2-34v1m0 1v1m0 15v1m1-72v1m1-25v1m0 5v1m2 67v1m1-116v1m2-175v1m1 58v1m0 9v1m1 189v1m1-49v1m3 144v3m2-310v1m0 209v1m1-262v1m0 344v1m0 25v1m1-298v1m0 1v1m0 159v1m2-172v1m0 2v1m3 6v1m1 124v1m0 170v1m1-313v1m1 311v1m1 13v1m1-369v1m1 353v1m2-315v1m1 313v1m3-258v1m0 2v1m0 205v1m0 28v1m2-77v1m1-264v1m0 76v1m0 102v1m0 176v1m1-381v1m0 214v1m0 165v1m1-9v1m4-354v1m0 356v1m1-320v1m0 322v1m1-62v1m1-83v1m2 134v1m3-282v1m0 24v1m0 164v1m2-219v1m0 265v1m1-38v1m1-2v1m2-242v1m1 142v1m0 105v1m1-169v1m3-115v1m4 159v1m0 202v1m2-278v1m0 52v1m8-166v1m2 6v1m0 69v1m7 117v1"/>
<path stroke="#3d4e8a" d="M0 153v1m1-74v1m0 25v1m0 137v1m0 157v1m1-233v1m0 127v1m1-205v2m0 83v1m1 127v1m1-162v1m0 6v1m0 120v1m0 28v1m2-229v1m0 43v1m0 5v1m0 21v1m0 147v1m2-64v1m0 157v1m1 1v1m1-323v1m0 1v1m0 55v3m1-60v1m0 27v1m1 164v1m0 112v1m1-80v1m0 93v1m0 11v1m1-44v1m0 17v1m2-123v1m1-14v1m0 4v1m2-105v2m0 38v1m0 30v1m0 174v1m1-122v1m0 121v1m0 11v1m1-136v1m0 123v1m2-23v1m1-73v1m1-126v1m1-43v1m1 229v1m0 30v1m3-134v1m1-12v1m2-6v1m1-72v1m0 199v2m1-353v1m1 88v1m0 271v2m2-231v1m0 39v1m0 135v1m0 59v1m1-251v1m0 56v1m0 118v1m1-48v1m0 2v1m0 27v1m0 1v2m0 61v1m1 24v1m2-276v1m0 274v1m2-125v1m0 5v1m2-182v1m0 122v1m0 83v1m1-266v1m2 1v1m2 218v1m0 5v1m0 6v1m1-255v1m1 209v1m0 166v1m1-376v1m0 87v1m0 5v1m0 4v1m0 248v1m1-289v1m0 3v1m1 0v1m0 6v1m0 297v1m0 4v1m2-172v1m1 173v1m1-284v1m1 280v1m1-380v1m1 162v1m2 214v1m3-222v1m4-123v1m0 86v2m0 2v1m3 191v1m2-51v1m0 112v1m1-22v1m1-244v1m4 189v1m0 1v1m0 9v1m1 4v1m3-267v1m0 150v1m0 169v1m1-326v1m5 34v1m6 259v1m0 27v1m3-194v1m0 56v1m1-234v1m0 20v1m0 347v1m7-142v1m6-25v1m0 135v1m2 27v1m5-4v1m0 2v2m10-4v1m15 4v1m0 1v1"/>
<path stroke="#3b528b" d="M1 230v1m0 25v1m0 104v1m0 13v1m1-293v2m0 101v1m0 141v1m1-253v1m0 105v1m1 200v1m1-284v1m0 2v1m0 5v1m0 6v1m0 47v1m0 137v1m0 55v1m0 30v1m1-269v1m0 24v1m0 244v1m1-255v1m0 204v1m0 48v1m1-358v1m0 356v1m1-176v1m0 172v1m1-299v1m1-30v1m0 3v1m0 198v1m1 125v1m1 2v1m2-191v1m0 163v1m2-106v1m0 10v1m0 116v1m3-252v1m0 7v1m0 31v1m0 36v1m0 1v1m0 170v1m1-284v1m0 186v1m2-160v1m1 59v1m0 170v1m0 6v2m1-58v1m1-187v1m0 43v1m0 228v1m1-264v1m0 187v1m2 74v1m1-299v1m4-8v1m1 233v1m1-44v1m1 21v1m1 76v1m1-66v1m2-55v1m0 33v1m4-141v1m0 95v1m1-220v1m0 85v1m1 265v1m1-174v1m2-65v1m0 161v1m2 71v1m1-134v1m0 21v1m3-264v1m0 90v1m1-23v1m0 13v1m0 293v1m1-306v1m1-6v1m1 119v1m1-86v1m1 263v1m0 21v1m3-359v1m0 305v1m2-41v1m1-68v1m2 70v1m1-289v1m2 360v1m1 0v1m1-2v1m2-169v1m1 158v1m0 10v1m3-21v1m1-220v1m1 190v1m2-22v1m1 68v1m3-306v1m0 24v1m1-39v1m0 316v1m2-116v1m1-195v1m3 307v1m1 0v1m1-206v1m5-122v1m7-7v1m6 45v1m9 47v1m10-111v1m10 258v1"/>
<path stroke="#39568c" d="M2 81v1m0 218v1m0 102v1m1-327v1m0 325v1m2-287v1m0 12v1m0 21v1m0 148v1m1-198v1m0 3v1m0 276v1m0 2v1m1-299v1m0 21v1m0 2v1m0 8v1m0 269v1m2-1v1m1-297v1m0 7v1m3 286v1m0 10v1m1-12v1m1-32v1m2 27v1m1-152v1m0 153v1m2-222v1m0 36v1m0 5v1m1-153v1m0 8v1m0 7v1m0 28v2m0 165v2m0 5v1m0 15v1m0 1v1m1-280v1m0 3v1m1 377v1m1-12v1m1 0v1m3-5v1m0 3v1m3-4v1m1 1v1m3-383v1m2 365v1m0 12v1m1-46v1m0 4v1m1 42v1m1-83v1m0 77v1m1-127v1m2-70v1m3 194v1m3 0v1m1-32v1m0 30v2m3-139v1m0 5v1m0 4v1m2 128v1m1-283v1m1-26v1m4 303v1m0 13v1m3-11v1m2-168v1m7-136v1m1 44v1m0 255v1m16-327v1m2 321v1m2-1v1m5 3v1m4-5v1m7-286v1m0 287v1m0 1v1m2-4v1m4-2v1m2 0v1m0 1v1m12-9v1m10 7v1m5 0v1"/>
<path stroke="#375b8d" d="M3 162v1m0 132v1m0 9v1m2-204v1m0 15v1m0 10v1m0 1v1m0 23v1m0 238v1m1-2v1m1-283v1m0 28v1m1-25v1m0 11v1m2-40v1m0 3v1m0 1v1m0 9v1m0 288v1m1-321v1m4 316v1m0 12v1m5-228v1m0 10v1m0 15v1m1 67v1m0 1v1m0 22v1m1-278v1m3 371v1m1-171v1m1-93v1m0 260v1m5 12v1m2-305v1m0 1v1m3 284v1m0 1v1m1-41v1m0 40v1m1-69v1m0 13v1m2-66v1m4 121v2m3-2v1m1-3v1m2-1v1m2-134v1m4-178v1m7 322v1m1-14v1m3-366v1m3 364v1m0 1v1m4-1v1m14-5v1m1-321v1m6 320v1"/>
<path stroke="#355f8d" d="M1 396v1m1-315v1m1-5v1m1 317v1m0 5v1m1-293v1m0 21v1m0 18v1m0 13v1m1-44v1m1-13v1m0 31v1m0 1v1m1-23v1m1 269v1m0 11v1m1-321v1m0 14v1m0 2v1m0 6v1m1-39v1m0 1v1m4 296v1m2-100v1m1 132v1m2-234v1m0 3v1m0 38v1m0 179v1m1-318v1m0 218v1m1-278v1m0 188v1m0 45v1m0 149v1m2-37v1m0 22v1m1-91v1m0 4v1m2-174v1m1 270v1m6-301v1m3 283v1m2-51v1m2-72v1m4 136v1m1-13v1m0 1v1m2 9v1m5-149v1m0 5v1m3 130v2m1-315v1m0 3v1m0 5v1m0 1v1m1-9v1m0 1v1m0 2v1m0 303v1m2-1v1m7-1v1m1-369v1m0 366v1m1-3v2m2 2v1m2-1v1m3-5v1m4 2v1m2-5v1m2 3v1m3-1v1m2-4v1m0 2v1m2-299v1m0 32v1m11 262v1m1-1v1m5-2v1m0 3v1m8-4v1m0 1v1m14-7v3m10 14v1"/>
<path stroke="#32648e" d="M2 176v1m0 127v1m1-92v1m2-99v1m0 20v1m1-31v1m0 16v2m1 1v1m1-1v1m0 277v1m2-324v1m0 28v1m3 281v1m2 1v1m1-6v1m1 4v1m2-3v1m2-328v1m0 48v1m0 1v1m0 158v1m1-249v1m0 235v1m2 112v1m1-63v1m0 76v1m10-380v1m1 378v1m1-10v1m0 2v1m1-38v1m0 10v1m1-39v1m0 4v2m0 4v1m0 6v1m2-72v1m2-77v2m0 197v1m1 1v1m4-3v1m9-310v1m0 308v1m7-1v1m3-1v1m12-1v1m1-3v1m3 3v1m2-3v1m1-3v1m5-296v1m3 296v1m5-3v1m4 0v1"/>
<path stroke="#31688e" d="M2 174v1m0 130v1m1-226v1m0 83v1m0 15v1m0 113v1m2-150v1m2-5v1m0 1v1m0 248v1m1-266v1m0 266v1m2-312v1m0 27v1m1 279v2m0 1v1m0 9v1m4-41v2m0 1v1m2-99v1m0 2v1m1-26v1m1 156v1m1-232v1m0 13v1m0 204v1m1-113v1m0 19v1m0 1v1m0 91v1m1-372v1m0 233v1m0 8v1m0 7v1m0 117v1m1 0v1m1-2v1m0 11v1m1-105v1m0 11v1m0 3v1m2-182v1m1 255v1m5-1v1m2-16v2m2 15v1m1-3v1m1-55v1m2 53v1m2 1v1m2-2v1m8-132v1m0 119v1m4-293v1m5 301v1m4-1v1m2-1v1m1 12v1m4-14v1m1-1v1m3-1v1m0 1v1m5-3v1m3-3v1m0 3v1m2-3v1m3-1v1m1-299v1m8 296v1m4 2v1m1-4v1m4 1v1m2 10v2m35-15v1"/>
<path stroke="#2d718e" d="M2 303v1m0 5v1m1-224v1m0 5v1m0 88v1m2-43v2m1-36v1m0 3v1m0 10v1m0 268v1m0 4v1m1-281v1m0 3v1m0 1v1m1 0v1m0 7v1m1 263v1m1-298v1m0 15v1m0 291v1m2-13v1m0 11v1m2-11v1m2 9v1m1-140v1m0 126v1m1-147v1m2-100v1m0 1v1m0 5v1m0 22v1m0 5v1m0 21v2m1-142v1m0 4v1m0 7v1m0 26v1m0 1v1m0 4v1m0 7v1m0 156v2m0 1v1m1-257v1m0 234v1m0 14v1m0 118v1m2-28v1m0 2v1m0 1v1m1-70v1m0 100v1m1-219v1m7 207v1m1-4v1m1-17v1m3-21v1m0 4v1m1-44v1m0 5v1m0 16v1m2 51v1m3-1v1m1-2v1m1 12v1m1-13v1m8 11v1m2-317v1m1 303v1m0 11v1m4-11v1m1 9v1m7-1v1m6-14v1m0 1v1m2-1v1m1-5v1m2 3v1m1-1v1m2-3v1m1-2v1m6-264v1m1 263v1m3 1v1m1-3v1m1 1v1m1-3v1m2-2v1m0 2v1m1-3v1m1 1v1m4-1v1m2-3v1m37-1v2"/>
<path stroke="#2a788e" d="M2 301v1m0 4v1m1-228v1m0 1v1m0 6v2m0 3v1m0 72v2m0 134v1m0 1v1m2-198v1m0 3v1m0 37v1m0 6v1m0 247v1m1-291v1m0 2v1m0 1v1m0 270v1m1-314v1m0 45v1m1-7v3m2-23v1m0 2v1m0 2v1m0 3v2m5 250v1m2-98v1m0 4v1m2 126v1m1-238v1m0 21v1m0 2v1m0 3v1m1-114v1m0 38v1m0 5v1m4 183v1m0 5v1m0 6v1m1-132v2m1-52v1m3 256v1m3 12v1m5-58v1m0 6v1m0 2v2m0 35v1m1-61v1m0 69v1m1-14v1m0 2v1m1-96v1m0 94v1m8-1v1m3-4v1m2 1v2m4-4v1m2 2v1m1-1v1m10-3v1m1 11v1m11-14v1m3 1v1m5-1v1m1-4v1m1 0v1m1-2v1m4 2v1m6-2v1m8-1v1m2-3v1m21-6v1m15 6v1"/>
<path stroke="#27808e" d="M2 185v1m1-23v1m0 11v1m0 2v1m0 117v1m0 3v1m2-193v1m0 35v1m1-38v1m0 4v1m1-22v1m0 29v1m3-36v2m0 2v1m0 3v1m5 271v1m2-103v1m0 1v1m3-113v1m0 28v1m0 21v1m0 6v1m1-149v1m0 4v1m0 4v1m0 3v1m1-55v1m0 247v1m3 31v1m1-122v1m1-56v1m1 263v1m1-2v1m4 0v1m1-1v1m3-2v2m1-40v1m1-25v1m0 11v1m3 49v1m5 12v1m2-13v2m1-2v1m2 11v1m1-150v1m0 124v1m1 10v1m6-1v1m7 12v1m1-1v1m1-11v1m3-2v2m9-4v1m3 0v1m2-3v1m4 2v1m2-2v1m3-2v1m1 1v1m1-3v1m7 1v1m1-4v3m1-2v1m6 2v1m2-4v1m0 1v1m4 10v1m7-12v1m25 0v1"/>
<path stroke="#23888e" d="M3 168v3m0 5v2m0 119v1m0 11v1m2-197v1m0 23v2m0 11v1m0 6v2m1 233v1m1-317v1m0 326v1m1-281v3m7 243v1m0 22v1m1 1v1m1-125v1m0 133v1m1-11v1m2-245v1m0 25v1m1-110v1m0 2v1m0 4v1m0 39v1m1-95v1m0 246v1m0 1v1m2 123v1m1-85v1m0 2v1m1-132v1m0 211v1m1-264v1m0 262v1m0 9v1m3-11v1m1-3v1m3 11v1m2-13v1m0 1v1m0 9v1m3-74v1m0 1v1m0 57v1m0 2v1m4-1v1m6 9v1m1-1v1m1-13v1m1-1v1m1-7v1m3 4v1m1 2v1m2-3v1m2-1v1m8-1v1m1-2v2m1 11v1m1-14v1m8-1v1m8-1v1m3 0v1m1 0v1m1-2v1m8-1v1m7 11v1m10-11v2m2-3v1m10-1v1m5-7v1m5 3v2m5 11v1m5-1v1"/>
<path stroke="#21918c" d="M1 397v1m2-316v3m0 80v1m0 135v1m0 1v1m0 4v1m2-203v1m1 4v1m0 3v1m14 35v1m0 56v1m2 64v1m3 31v1m0 97v1m2-12v1m3 11v1m2-11v1m3-15v1m3 11v1m2-1v1m0 11v1m2-11v1m1-3v1m1 11v1m3-11v1m1-1v1m4-1v1m1-13v2m1 8v1m1-2v2m4 11v1m1-1v1m2-13v1m3 1v1m0 9v1m8-13v1m15 0v1m7 0v1m1-3v1m1-1v1m0 1v1m1-1v1m1-3v1m1-2v2m1 1v1m1-1v1m1-3v1m1 1v1m16-4v1m15-4v2m5 0v1m0 3v1"/>
<path stroke="#1f988b" d="M0 396v1m2-89v1m1-224v1m0 87v2m4-59v1m1 3v1m2-20v1m2 301v1m3-1v1m5-193v1m0 1v1m1-146v1m1 187v1m0 7v1m0 6v1m3 37v1m5 82v1m7 11v1m1-1v1m1-77v1m3 63v1m6-1v1m9-1v1m1 1v1m2-3v1m3 1v1m3-1v1m17-3v1m5-1v1m4 1v1m4-1v1m3-4v1m5-1v1m1 1v1m1 0v1"/>
<path stroke="#1fa088" d="M0 402v1m3-316v1m0 83v2m3-60v1m1 8v1m3-31v1m0 11v1m10 105v1m1-135v1m1 181v1m5-130v1m2 262v1m0 1v1m8-1v1m1-44v2m5 51v1m1-11v1m6-1v1m6-3v1m3 1v1m5-3v1m21-1v1m1-1v1m4-1v1m1-2v1m2 2v1m1-3v1m6 1v1m1-2v1m1-2v1m3 1v1m9-1v1m2 9v1"/>
<path stroke="#22a884" d="M2 307v1m1-2v2m3-190v1m14 284v1m2-139v1m1 128v1m9-4v1m3-14v2m4 12v1m2 11v1m12-21v2m3 18v1m11-11v1m1-1v1m2-1v1m3 9v1m6-11v1m1-3v1m10 1v1m2 9v1m3-13v1m4 1v1m3 9v1m4-13v1m4 2v1m6-2v1m24 8v1"/>
<path stroke="#2ab07f" d="M3 299v1m3-184v1m16 138v1m0 5v1m9 142v1m23-1v1m2-2v1m7-12v1m3-1v1m1-1v1m7-1v1m6 1v1m1-3v1m5 1v1m4 9v1m1-11v1m8 9v1m1-1v1m3-11v1m1 9v1m1-1v1"/>
<path stroke="#35b779" d="M3 298v1m6 104v1m7-1v1m4-252v2m2 105v1m1 143v1m8-10v1m1-3v1m10 10v1m9-10v1m4-1v1m20-1v1m3-3v1m1 11v1m2-1v1m1-13v1m2 1v1m4 9v1m1-13v1m6 11v1m1-1v1m5-1v1m15-13v1m4-1v1"/>
<path stroke="#42be71" d="M6 110v1m11 292v1m2-1v1m2-1v1m7-1v1m10-1v1m34-12v1m2 11v1m4-11v1m9-1v1m0 9v1m4-1v1m2-1v1m1-11v1m4 9v1m5-1v1m1-2v1m4-1v1m4 0v1m2-13v1m6 1v1"/>
<path stroke="#54c568" d="M4 397v1m18-136v1m0 140v1m4-1v1m9-17v2m7 15v1m11-18v2m23 3v1m1-1v1m4 1v1m2-1v1m23 8v1m8 0v1m4-2v1m12-13v1m15 11v1"/>
<path stroke="#67cc5c" d="M1 398v1m4 4v1m24-1v1m6-22v3m30 7v1m2 10v1m7-10v1m2-1v1m1-1v1m8-1v1m2-3v1m1 1v1m1-1v1m8 9v1m1-13v1m8 11v1m14-1v1m5-14v2m5-1v1"/>
<path stroke="#7ad151" d="M6 403v1m7-1v1m1-1v1m4-1v1m37-1v1m10-1v1m14-12v1m1 11v1m2-11v1m0 9v1m10-2v1m7-1v1m26 0v1m10-14v1m15 11v1"/>
<path stroke="#8ed645" d="M1 401v1m3-1v1m4 1v1m3-1v1m22-1v1m44 0v1m12-1v1m5-1v1m41-13v1m0 1v1"/>
<path stroke="#a5db36" d="M10 403v1m17-1v1m23-1v1m2-1v1m23-12v1m1 11v1m9-1v1m1-1v1m49-12v1"/>
<path stroke="#bddf26" d="M24 403v1m10-11v1m1-8v1m48 17v1m29-2v1m18 0v1m5-1v1"/>
<path stroke="#d2e21b" d="M78 404v1"/>
<path stroke="#e7e419" d="M84 404v1"/>
<path stroke="#fde725" d="M0 397v5m1-3v2m1-6v8m1-8v8m1-5v3m1-6v8m1-8v8m1-8v8m1-8v8m1-8v8m1-8v8m1-8v8m1-8v8m1-8v8m1-8v8m1-8v8m1-8v8m1-8v8m1-8v8m1-8v8m1-8v8m1-8v8m1-8v8m1-8v8m1-8v8m1-8v8m1-8v8m1-8v8m1-8v8m1-8v8m1-8v9m1-9v9m1-9v9m1-9v8m1-9v10m1-19v1m0 3v16m1-10v9m1-9v9m1-9v8m1-8v9m1-9v9m1-9v9m1-9v8m1-8v9m1-9v9m1-9v9m1-9v9m1-9v9m1-9v9m1-9v9m1-9v8m1-8v9m1-9v8m1-14v16m1-10v9m1-9v8m1-8v8m1-8v9m1-9v9m1-9v9m1-9v9m1-9v9m1-9v9m1-9v9m1-9v9m1-9v8m1-8v9m1-9v8m1-8v9m1-9v9m1-9v9m1-9v9m1-9v9m1-9v9m1-9v9m1-9v10m1-10v9m1-9v9m1-9v9m1-9v9m1-9v9m1-9v9m1-9v9m1-9v9m1-9v9m1-9v9m1-9v9m1-9v9m1-9v9m1-9v9m1-9v9m1-9v9m1-9v8m1-8v9m1-9v9m1-9v9m1-9v9m1-9v9m1-9v9m1-9v8m1-8v9m1-9v9m1-9v9m1-9v9m1-9v8m1-8v9m1-9v8m2-8v8m2-7v7m2-8v8m2-8v9m2-9v9m2-8v7m2-8v9m5-10v10m5-10v10m5-9v9m5-9v8m5-8v8m5-8v8"/>
</g></g>
<!-- axes frame -->
<rect x="98.5" y="85.5" width="864.0" height="737.0" fill="none" stroke="#000" stroke-width="1.15"/>
<!-- colour bar -->
<rect x="1016.5" y="85.5" width="36.0" height="737.0" fill="url(#vg)" stroke="#000" stroke-width="1.15"/>
<path d="M179.50 822.50v4.9M287.50 822.50v4.9M395.50 822.50v4.9M503.50 822.50v4.9M611.50 822.50v4.9M719.50 822.50v4.9M827.50 822.50v4.9M935.50 822.50v4.9M98.50 810.30h-4.9M98.50 689.50h-4.9M98.50 568.70h-4.9M98.50 447.90h-4.9M98.50 327.10h-4.9M98.50 206.30h-4.9M98.50 85.50h-4.9M1052.50 822.50h4.9M1052.50 699.67h4.9M1052.50 576.83h4.9M1052.50 454.00h4.9M1052.50 331.17h4.9M1052.50 208.33h4.9M1052.50 85.50h4.9" stroke="#000" stroke-width="1.15" fill="none"/>
<text x="178.90" y="847.50" font-size="22.30" text-anchor="middle" textLength="13.2" lengthAdjust="spacingAndGlyphs">2</text>
<text x="286.90" y="847.50" font-size="22.30" text-anchor="middle" textLength="13.2" lengthAdjust="spacingAndGlyphs">4</text>
<text x="394.90" y="847.50" font-size="22.30" text-anchor="middle" textLength="13.2" lengthAdjust="spacingAndGlyphs">6</text>
<text x="502.90" y="847.50" font-size="22.30" text-anchor="middle" textLength="13.2" lengthAdjust="spacingAndGlyphs">8</text>
<text x="610.40" y="847.50" font-size="22.30" text-anchor="middle" textLength="26.5" lengthAdjust="spacingAndGlyphs">10</text>
<text x="718.40" y="847.50" font-size="22.30" text-anchor="middle" textLength="26.5" lengthAdjust="spacingAndGlyphs">12</text>
<text x="826.40" y="847.50" font-size="22.30" text-anchor="middle" textLength="26.5" lengthAdjust="spacingAndGlyphs">14</text>
<text x="934.40" y="847.50" font-size="22.30" text-anchor="middle" textLength="26.5" lengthAdjust="spacingAndGlyphs">16</text>
<text x="87.60" y="817.60" font-size="22.30" text-anchor="end" textLength="13.2" lengthAdjust="spacingAndGlyphs">0</text>
<text x="87.60" y="696.80" font-size="22.30" text-anchor="end" textLength="39.8" lengthAdjust="spacingAndGlyphs">100</text>
<text x="87.60" y="576.00" font-size="22.30" text-anchor="end" textLength="39.8" lengthAdjust="spacingAndGlyphs">200</text>
<text x="87.60" y="455.20" font-size="22.30" text-anchor="end" textLength="39.8" lengthAdjust="spacingAndGlyphs">300</text>
<text x="87.60" y="334.40" font-size="22.30" text-anchor="end" textLength="39.8" lengthAdjust="spacingAndGlyphs">400</text>
<text x="87.60" y="213.60" font-size="22.30" text-anchor="end" textLength="39.8" lengthAdjust="spacingAndGlyphs">500</text>
<text x="87.60" y="92.80" font-size="22.30" text-anchor="end" textLength="39.8" lengthAdjust="spacingAndGlyphs">600</text>
<text x="1062.60" y="829.80" font-size="22.30" text-anchor="start" textLength="13.2" lengthAdjust="spacingAndGlyphs">0</text>
<text x="1062.60" y="706.97" font-size="22.30" text-anchor="start" textLength="13.2" lengthAdjust="spacingAndGlyphs">5</text>
<text x="1060.70" y="584.13" font-size="22.30" text-anchor="start" textLength="26.5" lengthAdjust="spacingAndGlyphs">10</text>
<text x="1060.70" y="461.30" font-size="22.30" text-anchor="start" textLength="26.5" lengthAdjust="spacingAndGlyphs">15</text>
<text x="1062.60" y="338.47" font-size="22.30" text-anchor="start" textLength="26.5" lengthAdjust="spacingAndGlyphs">20</text>
<text x="1062.60" y="215.63" font-size="22.30" text-anchor="start" textLength="26.5" lengthAdjust="spacingAndGlyphs">25</text>
<text x="1062.60" y="92.80" font-size="22.30" text-anchor="start" textLength="26.5" lengthAdjust="spacingAndGlyphs">30</text>
<text x="108.40" y="43.80" font-size="28.70" text-anchor="start" textLength="43.5" lengthAdjust="spacingAndGlyphs">IRF</text>
<text x="160.78" y="43.80" font-size="28.70" text-anchor="start" textLength="111.8" lengthAdjust="spacingAndGlyphs">Uppsala</text>
<text x="281.40" y="43.80" font-size="28.70" text-anchor="start" textLength="58.2" lengthAdjust="spacingAndGlyphs">SDR</text>
<text x="348.52" y="43.80" font-size="28.70" text-anchor="start" textLength="143.2" lengthAdjust="spacingAndGlyphs">Ionosonde</text>
<text x="500.65" y="43.80" font-size="28.70" text-anchor="start" textLength="89.9" lengthAdjust="spacingAndGlyphs">UP158</text>
<text x="599.40" y="43.80" font-size="28.70" text-anchor="start" textLength="161.1" lengthAdjust="spacingAndGlyphs">2025-11-22</text>
<text x="769.40" y="43.80" font-size="28.70" text-anchor="start" textLength="125.0" lengthAdjust="spacingAndGlyphs">02:04:00</text>
<text x="912.15" y="43.80" font-size="28.70" text-anchor="start" textLength="37.1" lengthAdjust="spacingAndGlyphs">UT</text>
<text x="231.60" y="77.00" font-size="28.70" text-anchor="start" textLength="280.9" lengthAdjust="spacingAndGlyphs">noise_floor=-117.35</text>
<text x="521.35" y="77.00" font-size="28.70" text-anchor="start" textLength="58.2" lengthAdjust="spacingAndGlyphs">(dB)</text>
<text x="588.48" y="77.00" font-size="28.70" text-anchor="start" textLength="67.6" lengthAdjust="spacingAndGlyphs">peak</text>
<text x="664.98" y="77.00" font-size="28.70" text-anchor="start" textLength="160.6" lengthAdjust="spacingAndGlyphs">SNR=98.79</text>
<text x="440.40" y="873.80" font-size="21.50" text-anchor="start" textLength="109.2" lengthAdjust="spacingAndGlyphs">Frequency</text>
<text x="556.26" y="873.80" font-size="21.50" text-anchor="start" textLength="61.4" lengthAdjust="spacingAndGlyphs">(MHz)</text>
<text x="37.50" y="549.10" font-size="21.50" text-anchor="start" textLength="68.1" lengthAdjust="spacingAndGlyphs" transform="rotate(-90 37.50 549.10)">Virtual</text>
<text x="37.50" y="474.35" font-size="21.50" text-anchor="start" textLength="60.6" lengthAdjust="spacingAndGlyphs" transform="rotate(-90 37.50 474.35)">range</text>
<text x="37.50" y="407.10" font-size="21.50" text-anchor="start" textLength="48.5" lengthAdjust="spacingAndGlyphs" transform="rotate(-90 37.50 407.10)">(km)</text>
<text x="1108.30" y="499.70" font-size="21.50" text-anchor="start" textLength="43.1" lengthAdjust="spacingAndGlyphs" transform="rotate(-90 1108.30 499.70)">SNR</text>
<text x="1108.30" y="449.95" font-size="21.50" text-anchor="start" textLength="43.8" lengthAdjust="spacingAndGlyphs" transform="rotate(-90 1108.30 449.95)">(dB)</text>
</svg>
</body></html>
